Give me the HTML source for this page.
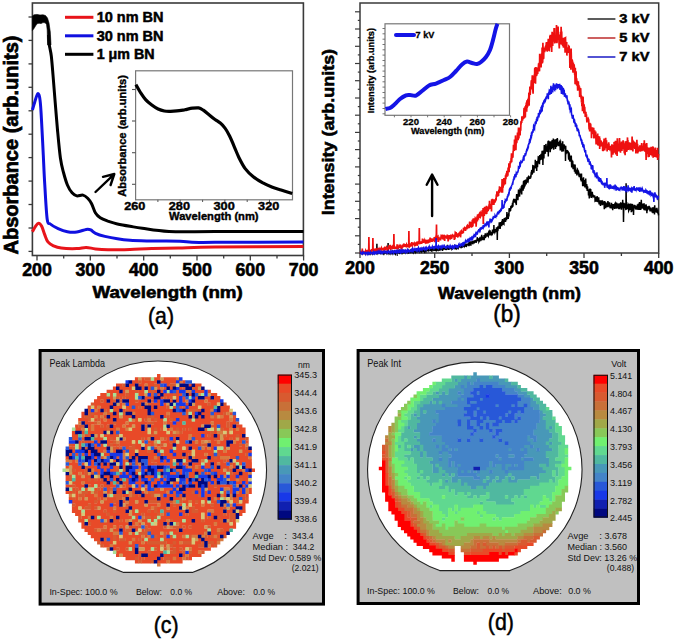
<!DOCTYPE html>
<html><head><meta charset="utf-8"><style>
html,body{margin:0;padding:0;background:#fff;width:675px;height:641px;overflow:hidden}
svg{display:block}
text{font-family:"Liberation Sans",sans-serif}
</style></head><body>
<svg width="675" height="641" viewBox="0 0 675 641">
<rect width="675" height="641" fill="#fff"/>
<rect x="32.4" y="3" width="271" height="252.5" fill="none" stroke="#3a3a3a" stroke-width="1.6"/>
<line x1="28.5" y1="17" x2="32.4" y2="17" stroke="#3a3a3a" stroke-width="1.3"/>
<line x1="28.5" y1="40.4" x2="32.4" y2="40.4" stroke="#3a3a3a" stroke-width="1.3"/>
<line x1="28.5" y1="63.9" x2="32.4" y2="63.9" stroke="#3a3a3a" stroke-width="1.3"/>
<line x1="28.5" y1="87.3" x2="32.4" y2="87.3" stroke="#3a3a3a" stroke-width="1.3"/>
<line x1="28.5" y1="110.8" x2="32.4" y2="110.8" stroke="#3a3a3a" stroke-width="1.3"/>
<line x1="28.5" y1="134.2" x2="32.4" y2="134.2" stroke="#3a3a3a" stroke-width="1.3"/>
<line x1="28.5" y1="157.6" x2="32.4" y2="157.6" stroke="#3a3a3a" stroke-width="1.3"/>
<line x1="28.5" y1="181.1" x2="32.4" y2="181.1" stroke="#3a3a3a" stroke-width="1.3"/>
<line x1="28.5" y1="204.5" x2="32.4" y2="204.5" stroke="#3a3a3a" stroke-width="1.3"/>
<line x1="28.5" y1="228" x2="32.4" y2="228" stroke="#3a3a3a" stroke-width="1.3"/>
<line x1="28.5" y1="251.4" x2="32.4" y2="251.4" stroke="#3a3a3a" stroke-width="1.3"/>
<line x1="37" y1="255.5" x2="37" y2="260.5" stroke="#3a3a3a" stroke-width="1.3"/>
<line x1="63.7" y1="255.5" x2="63.7" y2="258.5" stroke="#3a3a3a" stroke-width="1.3"/>
<line x1="90.3" y1="255.5" x2="90.3" y2="260.5" stroke="#3a3a3a" stroke-width="1.3"/>
<line x1="117" y1="255.5" x2="117" y2="258.5" stroke="#3a3a3a" stroke-width="1.3"/>
<line x1="143.7" y1="255.5" x2="143.7" y2="260.5" stroke="#3a3a3a" stroke-width="1.3"/>
<line x1="170.3" y1="255.5" x2="170.3" y2="258.5" stroke="#3a3a3a" stroke-width="1.3"/>
<line x1="197" y1="255.5" x2="197" y2="260.5" stroke="#3a3a3a" stroke-width="1.3"/>
<line x1="223.7" y1="255.5" x2="223.7" y2="258.5" stroke="#3a3a3a" stroke-width="1.3"/>
<line x1="250.3" y1="255.5" x2="250.3" y2="260.5" stroke="#3a3a3a" stroke-width="1.3"/>
<line x1="277" y1="255.5" x2="277" y2="258.5" stroke="#3a3a3a" stroke-width="1.3"/>
<line x1="303.6" y1="255.5" x2="303.6" y2="260.5" stroke="#3a3a3a" stroke-width="1.3"/>
<text x="37" y="275.7" font-size="17.5" font-weight="bold" stroke="#000" stroke-width="0.6" text-anchor="middle" textLength="29.6" lengthAdjust="spacingAndGlyphs" fill="#000">200</text>
<text x="90.3" y="275.7" font-size="17.5" font-weight="bold" stroke="#000" stroke-width="0.6" text-anchor="middle" textLength="29.6" lengthAdjust="spacingAndGlyphs" fill="#000">300</text>
<text x="143.7" y="275.7" font-size="17.5" font-weight="bold" stroke="#000" stroke-width="0.6" text-anchor="middle" textLength="29.6" lengthAdjust="spacingAndGlyphs" fill="#000">400</text>
<text x="197" y="275.7" font-size="17.5" font-weight="bold" stroke="#000" stroke-width="0.6" text-anchor="middle" textLength="29.6" lengthAdjust="spacingAndGlyphs" fill="#000">500</text>
<text x="250.3" y="275.7" font-size="17.5" font-weight="bold" stroke="#000" stroke-width="0.6" text-anchor="middle" textLength="29.6" lengthAdjust="spacingAndGlyphs" fill="#000">600</text>
<text x="303.6" y="275.7" font-size="17.5" font-weight="bold" stroke="#000" stroke-width="0.6" text-anchor="middle" textLength="29.6" lengthAdjust="spacingAndGlyphs" fill="#000">700</text>
<text x="92.4" y="298.1" font-size="17" font-weight="bold" stroke="#000" stroke-width="0.6" textLength="150.4" lengthAdjust="spacingAndGlyphs" fill="#000">Wavelength (nm)</text>
<text transform="translate(17.6,254.5) rotate(-90)" font-size="19.3" font-weight="bold" stroke="#000" stroke-width="0.7" textLength="219" lengthAdjust="spacingAndGlyphs">Absorbance (arb.units)</text>
<text x="148" y="324.4" font-size="24" textLength="26" lengthAdjust="spacingAndGlyphs" fill="#000" stroke="#000" stroke-width="0.5">(a)</text>
<line x1="65" y1="17.3" x2="93.4" y2="17.3" stroke="#e8141a" stroke-width="3"/>
<text x="96.7" y="22.1" font-size="14.2" font-weight="bold" stroke="#000" stroke-width="0.5" textLength="66.8" lengthAdjust="spacingAndGlyphs" fill="#000">10 nm BN</text>
<line x1="65" y1="35.8" x2="93.4" y2="35.8" stroke="#1010e0" stroke-width="3"/>
<text x="96.7" y="40.6" font-size="14.2" font-weight="bold" stroke="#000" stroke-width="0.5" textLength="66.8" lengthAdjust="spacingAndGlyphs" fill="#000">30 nm BN</text>
<line x1="65" y1="54.3" x2="93.4" y2="54.3" stroke="#000" stroke-width="3"/>
<text x="96.7" y="59.1" font-size="14.2" font-weight="bold" stroke="#000" stroke-width="0.5" textLength="57.8" lengthAdjust="spacingAndGlyphs" fill="#000">1 &#956;m BN</text>
<path d="M32.4,231.8C32.9,230.9 34.5,227.7 35.5,226.3C36.5,224.9 37.6,223.2 38.6,223.2C39.6,223.2 40.7,224.4 41.7,226.3C42.7,228.2 43.8,232.3 44.8,234.9C45.8,237.5 46.5,240.1 47.9,241.9C49.3,243.7 51.2,244.8 53.4,245.8C55.6,246.8 57.3,247.6 61.2,248.1C65.1,248.6 72.6,248.7 76.8,248.6C81,248.5 83.1,247.3 86.2,247.4C89.3,247.5 91.9,248.5 95.5,248.9C99.1,249.3 102.2,249.6 108,249.7C113.8,249.8 122.7,249.6 130,249.4C137.3,249.2 143.6,248.8 151.7,248.6C159.8,248.4 167.8,248.3 178.3,248C188.9,247.7 194.2,247.2 215,247C235.8,246.8 288.7,246.6 303.4,246.5" fill="none" stroke="#e8141a" stroke-width="3" stroke-linejoin="round"/>
<path d="M32.4,110C32.8,108.7 33.8,104.9 34.7,102.2C35.6,99.5 36.9,93.9 37.8,93.6C38.7,93.3 39.5,95.5 40.1,100.6C40.8,105.7 41.2,114.9 41.7,124C42.2,133.1 42.8,145 43.3,155.2C43.8,165.4 44.1,174.3 44.8,185C45.4,195.7 46.3,212.8 47.2,219.3C48.1,225.8 48.5,222.4 50.3,224C52.1,225.6 55.2,227.3 58.1,228.6C61,229.9 64.3,231.2 67.4,231.8C70.5,232.4 73.7,232.5 76.8,232.1C79.9,231.7 83.9,229.8 86.2,229.4C88.5,229 89.2,229.2 90.8,229.9C92.3,230.6 93.2,232.2 95.5,233.3C97.8,234.4 101.2,235.5 104.9,236.4C108.6,237.3 113.2,238.2 117.4,238.8C121.6,239.5 124.3,239.9 130,240.3C135.7,240.7 143.4,240.8 151.7,241C160,241.2 173.3,241 180,241.2C186.7,241.4 186.2,242.1 192,242.3C197.8,242.5 196.4,242.4 215,242.3C233.6,242.2 288.7,242.1 303.4,242" fill="none" stroke="#1010e0" stroke-width="3" stroke-linejoin="round"/>
<path d="M48.6,35C48.7,36.7 48.8,41.5 49.3,45C49.8,48.5 50.7,51 51.3,56C51.9,61 52.4,67.7 53,75C53.6,82.3 54.2,90.8 55,100C55.8,109.2 56.6,120.3 57.5,130C58.4,139.7 59.4,150.9 60.4,158C61.4,165.1 62.3,168 63.5,172.5C64.7,177 66,181.6 67.4,185C68.8,188.4 70.5,191 72.1,192.8C73.7,194.6 75,195.5 76.8,195.9C78.6,196.3 81.2,194.7 83,195.1C84.8,195.5 86.3,196.8 87.7,198.2C89.1,199.6 90.3,201.2 91.6,203.7C92.9,206.2 94.1,210.7 95.5,213C96.9,215.3 98.1,216.3 100.2,217.7C102.3,219.1 105.1,220.1 108,221.2C110.9,222.2 113.7,223.2 117.4,224C121.1,224.8 125.8,225.6 130,226.3C134.2,227 135.8,227.4 142.3,228.3C148.8,229.2 156.9,230.9 169,231.5C181.1,232.1 192.6,231.6 215,231.6C237.4,231.6 288.7,231.5 303.4,231.5" fill="none" stroke="#000" stroke-width="3" stroke-linejoin="round"/>
<polygon points="32.4,16 34,14.8 37,14.4 40,15 43,14.8 45.5,15.5 47.5,18 49,23 50.3,32 51,45 47.6,45 47.2,30 46.5,24.2 45,22.8 43,22.6 41,23.6 39,23.2 37,23.8 35.5,26 34,28.5 32.4,30.5" fill="#000" stroke="#000" stroke-width="0.6" stroke-linejoin="round"/>
<rect x="135.6" y="70.8" width="156.9" height="129" fill="#fff" stroke="#777" stroke-width="1.2"/>
<line x1="132" y1="89.5" x2="135.6" y2="89.5" stroke="#555" stroke-width="1.1"/>
<line x1="132" y1="121" x2="135.6" y2="121" stroke="#555" stroke-width="1.1"/>
<line x1="132" y1="152.7" x2="135.6" y2="152.7" stroke="#555" stroke-width="1.1"/>
<line x1="132" y1="184.3" x2="135.6" y2="184.3" stroke="#555" stroke-width="1.1"/>
<line x1="157.9" y1="199.8" x2="157.9" y2="202" stroke="#555" stroke-width="1"/>
<line x1="180.2" y1="199.8" x2="180.2" y2="202" stroke="#555" stroke-width="1"/>
<line x1="202.6" y1="199.8" x2="202.6" y2="202" stroke="#555" stroke-width="1"/>
<line x1="224.9" y1="199.8" x2="224.9" y2="202" stroke="#555" stroke-width="1"/>
<line x1="247.2" y1="199.8" x2="247.2" y2="202" stroke="#555" stroke-width="1"/>
<line x1="269.5" y1="199.8" x2="269.5" y2="202" stroke="#555" stroke-width="1"/>
<text x="134.8" y="210.2" font-size="11" font-weight="bold" stroke="#000" stroke-width="0.4" text-anchor="middle" textLength="21.2" lengthAdjust="spacingAndGlyphs" fill="#000">260</text>
<text x="179.4" y="210.2" font-size="11" font-weight="bold" stroke="#000" stroke-width="0.4" text-anchor="middle" textLength="21.2" lengthAdjust="spacingAndGlyphs" fill="#000">280</text>
<text x="224.1" y="210.2" font-size="11" font-weight="bold" stroke="#000" stroke-width="0.4" text-anchor="middle" textLength="21.2" lengthAdjust="spacingAndGlyphs" fill="#000">300</text>
<text x="268.7" y="210.2" font-size="11" font-weight="bold" stroke="#000" stroke-width="0.4" text-anchor="middle" textLength="21.2" lengthAdjust="spacingAndGlyphs" fill="#000">320</text>
<text x="169" y="220.3" font-size="10.5" font-weight="bold" stroke="#000" stroke-width="0.4" textLength="89.6" lengthAdjust="spacingAndGlyphs" fill="#000">Wavelength (nm)</text>
<text transform="translate(126.3,196.7) rotate(-90)" font-size="11.2" font-weight="bold" stroke="#000" stroke-width="0.4" textLength="121.7" lengthAdjust="spacingAndGlyphs">Absorbance (arb.units)</text>
<path d="M135.9,84.6C136.7,86 139.3,90.7 140.9,93.2C142.5,95.7 143.8,97.6 145.6,99.6C147.4,101.6 149.7,103.5 151.8,105.1C153.9,106.7 156,108 158.1,109C160.2,110 162.2,110.6 164.3,111C166.4,111.4 168.5,111.3 170.6,111.3C172.7,111.3 174.5,111.2 176.8,110.9C179.1,110.7 182,110.2 184.6,109.8C187.2,109.3 190.1,108.5 192.4,108.2C194.7,107.9 196.8,107.6 198.6,107.9C200.4,108.2 201.5,109 203.3,110.2C205.1,111.4 207.7,113.7 209.6,115.2C211.5,116.8 213.2,118.2 215,119.5C216.8,120.8 218.6,121.7 220.3,123.1C222,124.5 223.4,126 225,128.1C226.6,130.2 228,132.8 229.6,135.9C231.2,139 232.7,143.2 234.3,146.8C235.9,150.4 237.2,154.1 239,157.7C240.8,161.3 242.9,165.5 245.2,168.6C247.5,171.7 250.1,174.1 253,176.4C255.9,178.8 259.3,180.9 262.4,182.7C265.5,184.4 268.7,185.7 271.8,186.9C274.9,188.1 277.7,188.9 281.1,190C284.5,191.1 290.4,193 292.2,193.6" fill="none" stroke="#000" stroke-width="3.2" stroke-linejoin="round"/>
<path d="M95.5,192 L114,174.3 M103,176.8 L114.3,174 L110.6,185" fill="none" stroke="#000" stroke-width="2.4" stroke-linecap="round" stroke-linejoin="round"/>
<rect x="360" y="3" width="298.7" height="250" fill="none" stroke="#3a3a3a" stroke-width="1.5"/>
<line x1="355" y1="11.8" x2="360" y2="11.8" stroke="#3a3a3a" stroke-width="1.2"/>
<line x1="357.8" y1="20.4" x2="360" y2="20.4" stroke="#3a3a3a" stroke-width="1.2"/>
<line x1="355" y1="29" x2="360" y2="29" stroke="#3a3a3a" stroke-width="1.2"/>
<line x1="357.8" y1="37.6" x2="360" y2="37.6" stroke="#3a3a3a" stroke-width="1.2"/>
<line x1="355" y1="46.3" x2="360" y2="46.3" stroke="#3a3a3a" stroke-width="1.2"/>
<line x1="357.8" y1="54.9" x2="360" y2="54.9" stroke="#3a3a3a" stroke-width="1.2"/>
<line x1="355" y1="63.5" x2="360" y2="63.5" stroke="#3a3a3a" stroke-width="1.2"/>
<line x1="357.8" y1="72.1" x2="360" y2="72.1" stroke="#3a3a3a" stroke-width="1.2"/>
<line x1="355" y1="80.7" x2="360" y2="80.7" stroke="#3a3a3a" stroke-width="1.2"/>
<line x1="357.8" y1="89.3" x2="360" y2="89.3" stroke="#3a3a3a" stroke-width="1.2"/>
<line x1="355" y1="98" x2="360" y2="98" stroke="#3a3a3a" stroke-width="1.2"/>
<line x1="357.8" y1="106.6" x2="360" y2="106.6" stroke="#3a3a3a" stroke-width="1.2"/>
<line x1="355" y1="115.2" x2="360" y2="115.2" stroke="#3a3a3a" stroke-width="1.2"/>
<line x1="357.8" y1="123.8" x2="360" y2="123.8" stroke="#3a3a3a" stroke-width="1.2"/>
<line x1="355" y1="132.4" x2="360" y2="132.4" stroke="#3a3a3a" stroke-width="1.2"/>
<line x1="357.8" y1="141" x2="360" y2="141" stroke="#3a3a3a" stroke-width="1.2"/>
<line x1="355" y1="149.6" x2="360" y2="149.6" stroke="#3a3a3a" stroke-width="1.2"/>
<line x1="357.8" y1="158.3" x2="360" y2="158.3" stroke="#3a3a3a" stroke-width="1.2"/>
<line x1="355" y1="166.9" x2="360" y2="166.9" stroke="#3a3a3a" stroke-width="1.2"/>
<line x1="357.8" y1="175.5" x2="360" y2="175.5" stroke="#3a3a3a" stroke-width="1.2"/>
<line x1="355" y1="184.1" x2="360" y2="184.1" stroke="#3a3a3a" stroke-width="1.2"/>
<line x1="357.8" y1="192.7" x2="360" y2="192.7" stroke="#3a3a3a" stroke-width="1.2"/>
<line x1="355" y1="201.3" x2="360" y2="201.3" stroke="#3a3a3a" stroke-width="1.2"/>
<line x1="357.8" y1="209.9" x2="360" y2="209.9" stroke="#3a3a3a" stroke-width="1.2"/>
<line x1="355" y1="218.6" x2="360" y2="218.6" stroke="#3a3a3a" stroke-width="1.2"/>
<line x1="357.8" y1="227.2" x2="360" y2="227.2" stroke="#3a3a3a" stroke-width="1.2"/>
<line x1="355" y1="235.8" x2="360" y2="235.8" stroke="#3a3a3a" stroke-width="1.2"/>
<line x1="357.8" y1="244.4" x2="360" y2="244.4" stroke="#3a3a3a" stroke-width="1.2"/>
<line x1="355" y1="253" x2="360" y2="253" stroke="#3a3a3a" stroke-width="1.2"/>
<line x1="360" y1="253" x2="360" y2="258" stroke="#3a3a3a" stroke-width="1.3"/>
<line x1="397.3" y1="253" x2="397.3" y2="256" stroke="#3a3a3a" stroke-width="1.3"/>
<line x1="434.7" y1="253" x2="434.7" y2="258" stroke="#3a3a3a" stroke-width="1.3"/>
<line x1="472" y1="253" x2="472" y2="256" stroke="#3a3a3a" stroke-width="1.3"/>
<line x1="509.4" y1="253" x2="509.4" y2="258" stroke="#3a3a3a" stroke-width="1.3"/>
<line x1="546.7" y1="253" x2="546.7" y2="256" stroke="#3a3a3a" stroke-width="1.3"/>
<line x1="584" y1="253" x2="584" y2="258" stroke="#3a3a3a" stroke-width="1.3"/>
<line x1="621.4" y1="253" x2="621.4" y2="256" stroke="#3a3a3a" stroke-width="1.3"/>
<line x1="658.7" y1="253" x2="658.7" y2="258" stroke="#3a3a3a" stroke-width="1.3"/>
<text x="360" y="274" font-size="17.5" font-weight="bold" stroke="#000" stroke-width="0.6" text-anchor="middle" textLength="29.6" lengthAdjust="spacingAndGlyphs" fill="#000">200</text>
<text x="434.7" y="274" font-size="17.5" font-weight="bold" stroke="#000" stroke-width="0.6" text-anchor="middle" textLength="29.6" lengthAdjust="spacingAndGlyphs" fill="#000">250</text>
<text x="509.4" y="274" font-size="17.5" font-weight="bold" stroke="#000" stroke-width="0.6" text-anchor="middle" textLength="29.6" lengthAdjust="spacingAndGlyphs" fill="#000">300</text>
<text x="584" y="274" font-size="17.5" font-weight="bold" stroke="#000" stroke-width="0.6" text-anchor="middle" textLength="29.6" lengthAdjust="spacingAndGlyphs" fill="#000">350</text>
<text x="658.7" y="274" font-size="17.5" font-weight="bold" stroke="#000" stroke-width="0.6" text-anchor="middle" textLength="29.6" lengthAdjust="spacingAndGlyphs" fill="#000">400</text>
<text x="438" y="298.7" font-size="17" font-weight="bold" stroke="#000" stroke-width="0.6" textLength="143" lengthAdjust="spacingAndGlyphs" fill="#000">Wavelength (nm)</text>
<text transform="translate(334.4,215.3) rotate(-90)" font-size="17" font-weight="bold" stroke="#000" stroke-width="0.6" textLength="166.4" lengthAdjust="spacingAndGlyphs">Intensity (arb.units)</text>
<text x="493.3" y="321.8" font-size="23" textLength="27.5" lengthAdjust="spacingAndGlyphs" fill="#000" stroke="#000" stroke-width="0.5">(b)</text>
<line x1="587.6" y1="19" x2="615.4" y2="19" stroke="#333" stroke-width="1.6"/>
<text x="619.3" y="23.3" font-size="13.2" font-weight="bold" stroke="#000" stroke-width="0.5" textLength="30.1" lengthAdjust="spacingAndGlyphs" fill="#000">3 kV</text>
<line x1="587.6" y1="38" x2="615.4" y2="38" stroke="#c03838" stroke-width="1.6"/>
<text x="619.3" y="42.3" font-size="13.2" font-weight="bold" stroke="#000" stroke-width="0.5" textLength="30.1" lengthAdjust="spacingAndGlyphs" fill="#000">5 kV</text>
<line x1="587.6" y1="57" x2="615.4" y2="57" stroke="#2828c8" stroke-width="1.6"/>
<text x="619.3" y="61.3" font-size="13.2" font-weight="bold" stroke="#000" stroke-width="0.5" textLength="30.1" lengthAdjust="spacingAndGlyphs" fill="#000">7 kV</text>
<polyline points="360.5,252.7 360.7,253 360.9,252.9 361.1,253 361.3,253.2 361.5,253.2 361.7,252.6 361.9,253.1 362.1,252.7 362.3,253.2 362.5,252.8 362.7,252.7 362.9,253.2 363.1,252.8 363.3,253 363.5,253.2 363.7,252.9 363.9,252.9 364.1,253.2 364.3,253.3 364.5,253.3 364.7,253.2 364.9,253 365.1,252.9 365.3,253.4 365.5,252.9 365.7,252.7 365.9,253.3 366.1,252.8 366.3,252.4 366.5,253 366.7,253.3 366.9,253.5 367.1,253.5 367.3,252.1 367.5,252.9 367.7,253 367.9,253.3 368.1,252.6 368.3,253 368.5,253.3 368.7,252.8 368.9,252.5 369.1,253 369.3,252.6 369.5,252.5 369.7,252.9 369.9,253.4 370.1,252.3 370.3,253 370.5,253.4 370.7,253 370.9,252.9 371.1,253 371.3,253.3 371.5,253 371.7,253 371.9,253 372.1,252.8 372.3,252.6 372.5,253.3 372.7,252.7 372.9,252.8 373.1,252.9 373.3,253.5 373.5,253.3 373.7,252.2 373.9,252.1 374.1,252.6 374.3,252.7 374.5,252.1 374.7,253.5 374.9,252.6 375.1,252.6 375.3,252.8 375.5,252.7 375.7,252.2 375.9,252.2 376.1,252.5 376.3,253.1 376.5,252.6 376.7,252.5 376.9,243.7 377.1,252.9 377.3,252.8 377.5,252.6 377.7,252.3 377.9,253.2 378.1,252.8 378.3,252 378.5,251.9 378.7,252.2 378.9,252.1 379.1,252.1 379.3,252.1 379.5,251.5 379.7,253.3 379.9,252.7 380.1,252.9 380.3,253.2 380.5,253.5 380.7,253.2 380.9,252.8 381.1,252.5 381.3,252.3 381.5,252.8 381.7,253.1 381.9,252.6 382.1,252.4 382.3,252.8 382.5,252.6 382.7,252.2 382.9,251.8 383.1,252.9 383.3,252.6 383.5,253.2 383.7,252.5 383.9,252.5 384.1,252.4 384.3,253.3 384.5,252.9 384.7,252.6 384.9,253.3 385.1,251.9 385.3,252.2 385.5,251.9 385.7,252.1 385.9,252.3 386.1,252.8 386.3,251.6 386.5,252.4 386.7,252.9 386.9,251 387.1,252.6 387.3,251.8 387.5,251.4 387.7,252.4 387.9,251.9 388.1,243 388.3,251.5 388.5,252.5 388.7,253 388.9,251.8 389.1,252.9 389.3,252.9 389.5,252.1 389.7,253.1 389.9,252.8 390.1,252.1 390.3,252.2 390.5,252.4 390.7,253 390.9,252.2 391.1,252.7 391.3,252.4 391.5,252.5 391.7,252.5 391.9,252.9 392.1,253.3 392.3,252.2 392.5,251.7 392.7,252.4 392.9,252.1 393.1,252.6 393.3,252.6 393.5,252.2 393.7,252.1 393.9,252.2 394.1,252.8 394.3,252.3 394.5,253.2 394.7,253 394.9,252.3 395.1,253 395.3,253.5 395.5,252.3 395.7,253.3 395.9,252.7 396.1,252.2 396.3,252.3 396.5,251.6 396.7,251.5 396.9,252.5 397.1,252.2 397.3,253.2 397.5,252.2 397.7,252.4 397.9,252.3 398.1,252.5 398.3,251.6 398.5,251.9 398.7,250.9 398.9,251 399.1,251.6 399.3,251 399.5,251.9 399.7,252.2 399.9,252.8 400.1,252.4 400.3,250.8 400.5,253.1 400.7,252.5 400.9,251.6 401.1,252.2 401.3,251.4 401.5,251.6 401.7,253.1 401.9,251.1 402.1,251.7 402.3,252 402.5,251 402.7,252 402.9,251.4 403.1,252.2 403.3,251.8 403.5,253 403.7,252.4 403.9,251.6 404.1,251.7 404.3,251.6 404.5,251.6 404.7,251.7 404.9,252.1 405.1,251 405.3,251.7 405.5,253.1 405.7,251.6 405.9,252.4 406.1,252.2 406.3,251.4 406.5,251.2 406.7,251 406.9,251.8 407.1,250.2 407.3,251.7 407.5,250.9 407.7,251.6 407.9,252.2 408.1,251.7 408.3,251 408.5,251.5 408.7,252.1 408.9,251.6 409.1,251.4 409.3,252.2 409.5,250.2 409.7,251.2 409.9,251.7 410.1,250.8 410.3,251 410.5,250.7 410.7,252.6 410.9,250.3 411.1,251.1 411.3,251.1 411.5,251.4 411.7,251.1 411.9,251.4 412.1,251.1 412.3,250.7 412.5,253.2 412.7,251.8 412.9,250.6 413.1,251 413.3,251.6 413.5,252.3 413.7,251.7 413.9,251.9 414.1,251.3 414.3,252.2 414.5,250.7 414.7,250.4 414.9,251 415.1,250.8 415.3,251.1 415.5,251.9 415.7,251.3 415.9,251.3 416.1,250.3 416.3,251.3 416.5,251.5 416.7,250.5 416.9,250.9 417.1,249.8 417.3,251.2 417.5,251.3 417.7,249.7 417.9,250.8 418.1,250.6 418.3,251.3 418.5,251.2 418.7,251.5 418.9,251.5 419.1,250.1 419.3,251.7 419.5,250.9 419.7,251.4 419.9,250.3 420.1,250.5 420.3,250.3 420.5,249.7 420.7,250.9 420.9,251 421.1,251.4 421.3,250.6 421.5,251.2 421.7,250.6 421.9,250.5 422.1,250.9 422.3,252.1 422.5,249.2 422.7,249.6 422.9,249.6 423.1,249.7 423.3,250.8 423.5,251.1 423.7,251.2 423.9,250.2 424.1,251.5 424.3,251.8 424.5,251.1 424.7,251.5 424.9,250.3 425.1,250.9 425.3,250.8 425.5,249.7 425.7,250.4 425.9,250.9 426.1,249.8 426.3,250.9 426.5,250.7 426.7,250.7 426.9,250.2 427.1,250.5 427.3,250.6 427.5,251.2 427.7,249.4 427.9,250.3 428.1,250.2 428.3,249.7 428.5,249.2 428.7,249.9 428.9,249.1 429.1,250.3 429.3,249.7 429.5,249.2 429.7,249.7 429.9,249.2 430.1,249.4 430.3,250.9 430.5,249.2 430.7,247.9 430.9,250.2 431.1,249.2 431.3,248.9 431.5,251.6 431.7,249.8 431.9,250.2 432.1,248.3 432.3,248.9 432.5,249.4 432.7,250.5 432.9,249.2 433.1,246.4 433.3,250 433.5,248.3 433.7,249.9 433.9,250.1 434.1,251 434.3,249.3 434.5,250.6 434.7,248.7 434.9,249.7 435.1,249.9 435.3,247.8 435.5,248.7 435.7,248.7 435.9,249.6 436.1,249.2 436.3,249 436.5,248.7 436.7,249.8 436.9,249.3 437.1,249.3 437.3,249.4 437.5,249.7 437.7,248.9 437.9,248.9 438.1,248.8 438.3,249.2 438.5,249.7 438.7,249.2 438.9,248.5 439.1,250.1 439.3,248.6 439.5,250 439.7,250.1 439.9,248.1 440.1,248.7 440.3,249.9 440.5,248.8 440.7,249.1 440.9,248.8 441.1,248.2 441.3,249.5 441.5,247.4 441.7,249 441.9,248.9 442.1,247.6 442.3,249.5 442.5,250.9 442.7,248.9 442.9,248.2 443.1,248.2 443.3,247.9 443.5,249.8 443.7,247.4 443.9,249.8 444.1,247.5 444.3,249 444.5,248 444.7,248.9 444.9,248 445.1,249.3 445.3,248.2 445.5,249.2 445.7,249.3 445.9,247.3 446.1,246.6 446.3,248.5 446.5,247.7 446.7,249.7 446.9,248.9 447.1,247.5 447.3,247.5 447.5,244.7 447.7,249.1 447.9,248.2 448.1,246.5 448.3,247.1 448.5,248.3 448.7,249.8 448.9,248.6 449.1,248.3 449.3,248.4 449.5,247.5 449.7,247.7 449.9,248 450.1,246.8 450.3,247.9 450.5,248.7 450.7,246.4 450.9,248 451.1,247.9 451.3,248.1 451.5,248.9 451.7,246.8 451.9,248.6 452.1,248.2 452.3,249.7 452.5,247.6 452.7,248.7 452.9,247.6 453.1,248.6 453.3,247 453.5,247.5 453.7,247.6 453.9,248.3 454.1,246.6 454.3,247.3 454.5,246.8 454.7,247.3 454.9,245.8 455.1,246.1 455.3,246 455.5,247.4 455.7,246.2 455.9,248.6 456.1,248.8 456.3,247.6 456.5,247.8 456.7,245.9 456.9,246.4 457.1,247.7 457.3,248.2 457.5,246.6 457.7,246.8 457.9,248.6 458.1,248.7 458.3,246.3 458.5,246.8 458.7,247.7 458.9,244.9 459.1,246.1 459.3,246.6 459.5,246.3 459.7,247 459.9,246 460.1,244.5 460.3,245.6 460.5,244.4 460.7,245.5 460.9,248.1 461.1,246.7 461.3,247.1 461.5,246.7 461.7,244.5 461.9,245.6 462.1,246.5 462.3,247.7 462.5,246 462.7,246 462.9,246.1 463.1,245.5 463.3,244.5 463.5,245.5 463.7,245.3 463.9,247.2 464.1,244.9 464.3,245.3 464.5,244.3 464.7,246 464.9,245.6 465.1,244.5 465.3,245.4 465.5,246.1 465.7,246.2 465.9,245 466.1,245.4 466.3,245 466.5,245.4 466.7,245.8 466.9,245.4 467.1,243.8 467.3,244.8 467.5,243.7 467.7,244.8 467.9,244.8 468.1,244.8 468.3,244.4 468.5,244.3 468.7,242.6 468.9,246.1 469.1,243 469.3,242.3 469.5,244.3 469.7,243.4 469.9,243.9 470.1,243.5 470.3,242.3 470.5,245.4 470.7,241.3 470.9,245.8 471.1,241.5 471.3,242.1 471.5,242.9 471.7,242.1 471.9,243.6 472.1,241.2 472.3,242.3 472.5,240.9 472.7,244.3 472.9,242.6 473.1,241.3 473.3,242.4 473.5,243.2 473.7,242.3 473.9,240.6 474.1,241.7 474.3,242.4 474.5,242.1 474.7,241.3 474.9,242.1 475.1,240.1 475.3,241 475.5,241.3 475.7,240.6 475.9,240.1 476.1,243 476.3,240.6 476.5,241.7 476.7,239.9 476.9,240.9 477.1,239.3 477.3,237.2 477.5,238.9 477.7,241.1 477.9,240.2 478.1,240.9 478.3,239.4 478.5,240.2 478.7,238.4 478.9,241.6 479.1,241.2 479.3,240.4 479.5,238.4 479.7,238.1 479.9,239.9 480.1,238.8 480.3,237.4 480.5,239.8 480.7,239.5 480.9,239.4 481.1,238.6 481.3,239 481.5,237.8 481.7,234.7 481.9,237.2 482.1,239.5 482.3,236.6 482.5,237.9 482.7,238.6 482.9,240.2 483.1,237.2 483.3,239 483.5,239.1 483.7,238.2 483.9,238.5 484.1,235 484.3,237.3 484.5,236.7 484.7,237.3 484.9,236.3 485.1,235.5 485.3,233.4 485.5,237.9 485.7,236.1 485.9,234.4 486.1,235.1 486.3,235.1 486.5,234.3 486.7,236 486.9,236 487.1,232.9 487.3,234.7 487.5,236.4 487.7,233.5 487.9,235.2 488.1,235.5 488.3,235.9 488.5,233.1 488.7,232 488.9,231.6 489.1,233.6 489.3,234.3 489.5,235.4 489.7,232 489.9,234.5 490.1,230.4 490.3,233.8 490.5,233.9 490.7,233.8 490.9,234.2 491.1,233.3 491.3,232.3 491.5,231.7 491.7,235.4 491.9,234.3 492.1,235.2 492.3,233.4 492.5,229.5 492.7,234 492.9,231.6 493.1,231.3 493.3,231.7 493.5,231.2 493.7,233 493.9,225.1 494.1,232.8 494.3,231.5 494.5,230.4 494.7,231.5 494.9,232.4 495.1,231.9 495.3,230 495.5,229.1 495.7,230.6 495.9,231.2 496.1,231.3 496.3,230.5 496.5,227.3 496.7,229.9 496.9,227.2 497.1,229.1 497.3,240 497.5,228.2 497.7,227.7 497.9,228.3 498.1,228.7 498.3,226.3 498.5,227.4 498.7,228.6 498.9,227.6 499.1,225.2 499.3,222.2 499.5,228 499.7,226 499.9,222.4 500.1,229 500.3,227.1 500.5,223 500.7,222.3 500.9,223.9 501.1,222.1 501.3,223 501.5,224.2 501.7,226.2 501.9,220.7 502.1,223 502.3,225 502.5,219.1 502.7,221.4 502.9,222.8 503.1,221.3 503.3,223.2 503.5,223.9 503.7,224 503.9,224.2 504.1,220 504.3,218 504.5,218.5 504.7,220.1 504.9,221.3 505.1,220.1 505.3,218.1 505.5,222 505.7,220.2 505.9,217.3 506.1,218.1 506.3,218.5 506.5,220.1 506.7,217.8 506.9,212 507.1,215.7 507.3,215.7 507.5,218.2 507.7,215.6 507.9,215.2 508.1,218.2 508.3,218.2 508.5,215.6 508.7,215.7 508.9,216.5 509.1,209.3 509.3,208.2 509.5,211.2 509.7,208.8 509.9,210.5 510.1,211.5 510.3,208 510.5,210.8 510.7,209 510.9,206.1 511.1,207.7 511.3,208.5 511.5,205.4 511.7,207.1 511.9,206.4 512.1,207.7 512.3,206.1 512.5,202.7 512.7,204.9 512.9,206.7 513.1,201.5 513.3,200.7 513.5,200.1 513.7,200.5 513.9,199.7 514.1,198.8 514.3,201.1 514.5,201.1 514.7,198.8 514.9,200.9 515.1,203 515.3,200.4 515.5,200.2 515.7,200.8 515.9,203.7 516.1,199.6 516.3,205.1 516.5,196.3 516.7,194 516.9,195.7 517.1,194.3 517.3,196.8 517.5,198.5 517.7,196.4 517.9,200.1 518.1,196.1 518.3,194.6 518.5,189.6 518.7,193.9 518.9,192 519.1,192.9 519.3,192.2 519.5,196.8 519.7,194.7 519.9,192.6 520.1,189.8 520.3,190.1 520.5,189.8 520.7,192.3 520.9,191.4 521.1,191.8 521.3,186.3 521.5,191.9 521.7,194.5 521.9,186.1 522.1,184.8 522.3,187.7 522.5,190.5 522.7,189.2 522.9,187.6 523.1,190.6 523.3,185.6 523.5,181.7 523.7,181.5 523.9,188.8 524.1,184.9 524.3,183.6 524.5,180.2 524.7,183 524.9,185.8 525.1,185.4 525.3,183.3 525.5,180.7 525.7,179.6 525.9,181.7 526.1,182.7 526.3,183 526.5,181.8 526.7,181.6 526.9,182.3 527.1,177.4 527.3,181.7 527.5,180.4 527.7,181.9 527.9,182.1 528.1,181.3 528.3,177 528.5,176.6 528.7,176.9 528.9,178.5 529.1,176.5 529.3,177.9 529.5,177.6 529.7,177.3 529.9,178.7 530.1,178.1 530.3,177.1 530.5,178.3 530.7,176.9 530.9,177.5 531.1,173.9 531.3,171.8 531.5,173.7 531.7,170.1 531.9,171.6 532.1,174.7 532.3,169.8 532.5,173.7 532.7,169 532.9,164.9 533.1,171.9 533.3,169.8 533.5,171.1 533.7,169.7 533.9,172.6 534.1,168.8 534.3,165.5 534.5,166.8 534.7,168.4 534.9,165.8 535.1,167.8 535.3,159.7 535.5,165.4 535.7,166.2 535.9,165.7 536.1,163.3 536.3,164.2 536.5,166.8 536.7,170.9 536.9,161 537.1,164.6 537.3,161.3 537.5,167.1 537.7,162.8 537.9,161.1 538.1,160.1 538.3,157 538.5,157.1 538.7,159 538.9,156.2 539.1,163.5 539.3,159.4 539.5,164.3 539.7,155.1 539.9,156.5 540.1,158.1 540.3,160.3 540.5,157.6 540.7,157.8 540.9,155.1 541.1,154 541.3,155.2 541.5,159.7 541.7,154.3 541.9,155 542.1,150.9 542.3,155.1 542.5,153.5 542.7,152.8 542.9,165 543.1,156.8 543.3,150.6 543.5,152.6 543.7,152.2 543.9,158.4 544.1,150.5 544.3,145.1 544.5,153.9 544.7,150.1 544.9,150.1 545.1,147.7 545.3,153.8 545.5,149.6 545.7,150.2 545.9,143.9 546.1,145.4 546.3,149.3 546.5,148.9 546.7,150.5 546.9,147.4 547.1,151.9 547.3,147.6 547.5,147.1 547.7,147.9 547.9,143.2 548.1,141 548.3,156.5 548.5,140.6 548.7,144.9 548.9,147.4 549.1,146.5 549.3,149.5 549.5,141.3 549.7,145.9 549.9,147.3 550.1,152.2 550.3,151.1 550.5,142.3 550.7,147.9 550.9,143.6 551.1,141.3 551.3,143.7 551.5,149.3 551.7,143.8 551.9,142.4 552.1,142.9 552.3,141.3 552.5,140.1 552.7,145.9 552.9,146.6 553.1,148.2 553.3,138.6 553.5,139.5 553.7,149.7 553.9,143.6 554.1,144.8 554.3,139.6 554.5,143.3 554.7,139.4 554.9,146.9 555.1,145.3 555.3,140.6 555.5,149 555.7,139.3 555.9,147.3 556.1,142.3 556.3,143.7 556.5,147.1 556.7,138.9 556.9,139.9 557.1,142.9 557.3,138 557.5,139.3 557.7,144.6 557.9,145.6 558.1,141.8 558.3,144.7 558.5,145.2 558.7,146.1 558.9,142.5 559.1,144.1 559.3,146 559.5,142.7 559.7,141.7 559.9,141.3 560.1,145.7 560.3,150.4 560.5,140.6 560.7,144.9 560.9,147 561.1,149.7 561.3,144.1 561.5,143.4 561.7,146.7 561.9,151.6 562.1,149.9 562.3,147.2 562.5,149 562.7,141.2 562.9,151.3 563.1,149.8 563.3,149.3 563.5,149.6 563.7,147.1 563.9,145.4 564.1,144.3 564.3,147 564.5,145.4 564.7,148.5 564.9,147.9 565.1,147.5 565.3,147 565.5,160.9 565.7,145.8 565.9,153.3 566.1,153.4 566.3,152.8 566.5,150 566.7,152 566.9,152.1 567.1,152.2 567.3,151.9 567.5,151.5 567.7,151.7 567.9,153.5 568.1,151.6 568.3,151.9 568.5,157.1 568.7,159.6 568.9,155.7 569.1,154.7 569.3,154.2 569.5,155.1 569.7,161.4 569.9,155.9 570.1,158.3 570.3,158 570.5,161.6 570.7,157.8 570.9,159 571.1,158.6 571.3,155.6 571.5,163 571.7,167.5 571.9,159.8 572.1,164.6 572.3,162.3 572.5,166.6 572.7,160.8 572.9,164.9 573.1,169.2 573.3,164.8 573.5,165.3 573.7,166.2 573.9,164.4 574.1,166.4 574.3,165.4 574.5,171.7 574.7,169.2 574.9,167.9 575.1,164.5 575.3,171.2 575.5,173.8 575.7,169.7 575.9,172.3 576.1,170.3 576.3,172.1 576.5,169.9 576.7,170.5 576.9,175.5 577.1,170.4 577.3,169 577.5,169.3 577.7,171.9 577.9,172.9 578.1,174.4 578.3,170.2 578.5,172.7 578.7,171.9 578.9,175.4 579.1,175.4 579.3,177.1 579.5,174.2 579.7,175.9 579.9,173.5 580.1,175.5 580.3,175.6 580.5,176.4 580.7,179.1 580.9,180 581.1,175.4 581.3,181.6 581.5,173.5 581.7,180.4 581.9,180.5 582.1,179 582.3,178.2 582.5,181.4 582.7,186.1 582.9,179.5 583.1,180.7 583.3,181.4 583.5,177.2 583.7,183 583.9,180.7 584.1,186 584.3,185.1 584.5,183.3 584.7,180 584.9,187.5 585.1,180.5 585.3,180.9 585.5,184.1 585.7,178.5 585.9,183.4 586.1,185.3 586.3,187.3 586.5,189 586.7,184.1 586.9,185.6 587.1,189.9 587.3,190.9 587.5,186.3 587.7,188.2 587.9,189.6 588.1,189.9 588.3,189.5 588.5,195.4 588.7,189.4 588.9,194 589.1,194.4 589.3,198.5 589.5,196 589.7,188.7 589.9,191.2 590.1,188.6 590.3,196.5 590.5,192.1 590.7,189.1 590.9,192.2 591.1,192.5 591.3,198 591.5,195.1 591.7,195.3 591.9,194.4 592.1,194.5 592.3,191.9 592.5,194.5 592.7,195.7 592.9,196.3 593.1,195.7 593.3,195.6 593.5,196.7 593.7,196.7 593.9,196.2 594.1,195.9 594.3,195.3 594.5,196.5 594.7,196.9 594.9,196.8 595.1,201.2 595.3,201.1 595.5,198.9 595.7,201.2 595.9,197 596.1,197.8 596.3,198.3 596.5,199.4 596.7,201.8 596.9,200.7 597.1,196 597.3,201.1 597.5,201.7 597.7,198.9 597.9,202.3 598.1,197.4 598.3,200.8 598.5,200 598.7,197.3 598.9,202.3 599.1,203.8 599.3,203.8 599.5,200.6 599.7,201.2 599.9,200.4 600.1,203.6 600.3,203.5 600.5,206 600.7,202.9 600.9,204.4 601.1,202 601.3,200.3 601.5,203.1 601.7,201.4 601.9,201.9 602.1,203 602.3,205.1 602.5,201.6 602.7,201.2 602.9,201.5 603.1,203 603.3,203.9 603.5,204.4 603.7,202.2 603.9,202.3 604.1,204 604.3,209.2 604.5,206.1 604.7,201.1 604.9,202.9 605.1,202.1 605.3,203.2 605.5,204.9 605.7,208.3 605.9,202.5 606.1,203.9 606.3,203.8 606.5,204.4 606.7,204.7 606.9,206.3 607.1,203.7 607.3,207.3 607.5,205 607.7,204.8 607.9,201 608.1,203 608.3,204 608.5,204.9 608.7,204.3 608.9,202.4 609.1,203.7 609.3,206.8 609.5,202.4 609.7,206.7 609.9,205.7 610.1,208.3 610.3,207.7 610.5,205 610.7,207.3 610.9,207.9 611.1,206.3 611.3,204.7 611.5,202.9 611.7,206.1 611.9,205.3 612.1,204.6 612.3,208.9 612.5,205.8 612.7,210.3 612.9,204.8 613.1,204.8 613.3,206.7 613.5,205.6 613.7,204 613.9,205.5 614.1,208 614.3,205.7 614.5,209 614.7,203.5 614.9,206.9 615.1,203.6 615.3,203.1 615.5,203.7 615.7,207.7 615.9,205.3 616.1,208.8 616.3,205.9 616.5,202.6 616.7,208.5 616.9,205.1 617.1,203.2 617.3,207.7 617.5,208.2 617.7,203.9 617.9,207.4 618.1,206.2 618.3,204 618.5,205.1 618.7,206.7 618.9,209.3 619.1,203.3 619.3,207.6 619.5,208.2 619.7,208.3 619.9,207.2 620.1,205.4 620.3,208.1 620.5,206.6 620.7,202.3 620.9,207.1 621.1,202.9 621.3,206.8 621.5,209.6 621.7,207.7 621.9,203 622.1,204.5 622.3,205.2 622.5,207.8 622.7,199.8 622.9,207.2 623.1,204.9 623.3,205.3 623.5,222 623.7,210.2 623.9,202.8 624.1,205.5 624.3,206.2 624.5,206.5 624.7,206.8 624.9,206 625.1,206.6 625.3,206 625.5,203.4 625.7,208.2 625.9,210.1 626.1,183.2 626.3,207.3 626.5,209.4 626.7,204.2 626.9,208.2 627.1,207.4 627.3,206.1 627.5,209.2 627.7,207.1 627.9,205.6 628.1,204.2 628.3,204.6 628.5,206 628.7,210.7 628.9,210.3 629.1,205.3 629.3,207.5 629.5,209.9 629.7,204 629.9,206.8 630.1,203.6 630.3,210 630.5,205.5 630.7,205.2 630.9,206.2 631.1,205.4 631.3,212.3 631.5,208.8 631.7,211.3 631.9,203.7 632.1,208 632.3,206.5 632.5,204 632.7,206.8 632.9,211.5 633.1,208.8 633.3,207 633.5,215 633.7,209 633.9,205.2 634.1,206 634.3,205.7 634.5,204.9 634.7,205.8 634.9,205.3 635.1,207.9 635.3,206.1 635.5,209.2 635.7,205.7 635.9,206.2 636.1,209.6 636.3,206.7 636.5,208.1 636.7,206.2 636.9,209.3 637.1,207.1 637.3,208.7 637.5,204.3 637.7,209.8 637.9,208 638.1,205.9 638.3,205.1 638.5,203.6 638.7,205.4 638.9,207.4 639.1,207.7 639.3,209.9 639.5,202.1 639.7,205.9 639.9,205 640.1,204.6 640.3,209.3 640.5,206.2 640.7,210 640.9,207.6 641.1,205.2 641.3,199.7 641.5,205.1 641.7,204.6 641.9,206.9 642.1,208.7 642.3,204.7 642.5,205.3 642.7,203.7 642.9,204.6 643.1,206.8 643.3,205.4 643.5,207.1 643.7,208 643.9,209.6 644.1,203.3 644.3,207.1 644.5,209.5 644.7,209.4 644.9,209.5 645.1,207.8 645.3,206.5 645.5,207.4 645.7,205.7 645.9,205 646.1,205 646.3,206.2 646.5,210.6 646.7,208.1 646.9,213.2 647.1,207.3 647.3,210.6 647.5,207.2 647.7,206.2 647.9,208.7 648.1,207 648.3,206.9 648.5,207.1 648.7,207.9 648.9,207.3 649.1,205.9 649.3,209.1 649.5,206.6 649.7,209.3 649.9,209.8 650.1,211.4 650.3,208.4 650.5,207.6 650.7,209.3 650.9,208.2 651.1,210.2 651.3,209 651.5,211.4 651.7,209.6 651.9,208.9 652.1,210.8 652.3,210.5 652.5,207.4 652.7,210.4 652.9,213.1 653.1,208.4 653.3,211.5 653.5,211.4 653.7,211.7 653.9,207.3 654.1,210 654.3,206.7 654.5,214.6 654.7,205.3 654.9,209.1 655.1,209.1 655.3,211.7 655.5,211.2 655.7,212.4 655.9,208.4 656.1,211.5 656.3,212.2 656.5,208.4 656.7,211.8 656.9,207.9 657.1,210 657.3,212.9 657.5,212.2 657.7,209.6 657.9,211.6 658.1,213.9 658.3,213 658.5,215.4" fill="none" stroke="#000" stroke-width="1.5"/>
<polyline points="360.5,251.8 360.7,253.1 360.9,252 361.1,252 361.3,252.2 361.5,251.9 361.7,251.5 361.9,252.5 362.1,252.8 362.3,248.6 362.5,253.5 362.7,252.7 362.9,251.5 363.1,252 363.3,251.8 363.5,251.9 363.7,252.3 363.9,251.4 364.1,252.1 364.3,252.9 364.5,252.6 364.7,251.7 364.9,252.5 365.1,250.9 365.3,251.9 365.5,252.2 365.7,251 365.9,251.5 366.1,253.1 366.3,252.8 366.5,252.7 366.7,251.9 366.9,250.9 367.1,250.7 367.3,249.9 367.5,251.3 367.7,251.6 367.9,250.8 368.1,250.5 368.3,251.4 368.5,252.2 368.7,251.3 368.9,237 369.1,250.9 369.3,251 369.5,250.4 369.7,250.8 369.9,252 370.1,251.3 370.3,251.1 370.5,250.9 370.7,251 370.9,250.7 371.1,251 371.3,251.5 371.5,250.3 371.7,251 371.9,249 372.1,250.6 372.3,250 372.5,250.3 372.7,251.1 372.9,238 373.1,250.3 373.3,249.2 373.5,250.1 373.7,251.7 373.9,249.6 374.1,250.8 374.3,249.5 374.5,249.4 374.7,249.3 374.9,251.1 375.1,250.6 375.3,249.7 375.5,249.8 375.7,251.5 375.9,249.8 376.1,249.5 376.3,250.2 376.5,249.9 376.7,250 376.9,248.4 377.1,250.2 377.3,249.8 377.5,250 377.7,249 377.9,250.8 378.1,249.9 378.3,250.3 378.5,249.5 378.7,249.8 378.9,250.5 379.1,250.5 379.3,249.4 379.5,249.9 379.7,249.4 379.9,248.8 380.1,248.7 380.3,249.4 380.5,249.2 380.7,247.8 380.9,248.9 381.1,250 381.3,248.9 381.5,248 381.7,248.5 381.9,249.8 382.1,249.5 382.3,248.8 382.5,248 382.7,249.8 382.9,248.9 383.1,249.9 383.3,249.2 383.5,249.5 383.7,249.7 383.9,250 384.1,248.8 384.3,248 384.5,247.8 384.7,248.8 384.9,250.1 385.1,249 385.3,248.4 385.5,248.7 385.7,248.8 385.9,249.1 386.1,247.5 386.3,247.2 386.5,248.6 386.7,247.4 386.9,249.5 387.1,248.7 387.3,248.5 387.5,247.4 387.7,248.4 387.9,247.3 388.1,249.3 388.3,249 388.5,247.6 388.7,248.5 388.9,245.4 389.1,247.5 389.3,248.3 389.5,249.1 389.7,248.3 389.9,248 390.1,246.7 390.3,244.8 390.5,248.3 390.7,250 390.9,246.4 391.1,248.3 391.3,247.4 391.5,248.7 391.7,246 391.9,247.2 392.1,247.6 392.3,246.9 392.5,247.2 392.7,246.7 392.9,247.5 393.1,247.9 393.3,247.7 393.5,247.6 393.7,246.6 393.9,234 394.1,249 394.3,247.6 394.5,247.2 394.7,248.2 394.9,248.4 395.1,248.3 395.3,247.6 395.5,247.4 395.7,246.7 395.9,247.7 396.1,248.8 396.3,247.3 396.5,248.3 396.7,246.7 396.9,248.1 397.1,244.3 397.3,247.3 397.5,247.7 397.7,246 397.9,249.6 398.1,246.6 398.3,246.4 398.5,246.4 398.7,247.2 398.9,246.8 399.1,246 399.3,246.3 399.5,246.9 399.7,247.7 399.9,246.7 400.1,245.9 400.3,246.3 400.5,244.6 400.7,245.6 400.9,248.5 401.1,246.5 401.3,246.7 401.5,245.7 401.7,249.6 401.9,246.9 402.1,247.5 402.3,246.7 402.5,245.3 402.7,247.7 402.9,245.3 403.1,245 403.3,245.6 403.5,245.1 403.7,245.5 403.9,246.2 404.1,246.2 404.3,245.8 404.5,245.9 404.7,244.6 404.9,244.7 405.1,246.5 405.3,244.1 405.5,247.2 405.7,244.3 405.9,246 406.1,244.7 406.3,245.4 406.5,244.7 406.7,245.3 406.9,247.1 407.1,245.1 407.3,247.2 407.5,244.9 407.7,245.5 407.9,245.1 408.1,244.9 408.3,245.9 408.5,246.3 408.7,246.5 408.9,231 409.1,247.7 409.3,246.1 409.5,245.9 409.7,244 409.9,244.3 410.1,245 410.3,245.8 410.5,245.7 410.7,244.2 410.9,245.3 411.1,245 411.3,243.4 411.5,244.9 411.7,242.1 411.9,245.4 412.1,245.8 412.3,243.2 412.5,244.6 412.7,242.7 412.9,243.6 413.1,245 413.3,244.2 413.5,244 413.7,244.2 413.9,244.2 414.1,243.7 414.3,244.6 414.5,245.4 414.7,245.3 414.9,243.4 415.1,245.5 415.3,245.4 415.5,242.4 415.7,244.7 415.9,244.6 416.1,244.7 416.3,244.5 416.5,242.2 416.7,243.2 416.9,241.6 417.1,244.1 417.3,245.7 417.5,244.8 417.7,243.5 417.9,242.7 418.1,242.2 418.3,242.4 418.5,243.1 418.7,242 418.9,242.7 419.1,244.2 419.3,228 419.5,241 419.7,242.8 419.9,242.6 420.1,242.8 420.3,241.4 420.5,242.9 420.7,242.2 420.9,243.2 421.1,241.9 421.3,242.6 421.5,244 421.7,242 421.9,243.2 422.1,241.2 422.3,243.1 422.5,238.5 422.7,240.7 422.9,240.9 423.1,242.2 423.3,242.2 423.5,241.7 423.7,242.6 423.9,240.6 424.1,241.2 424.3,241.1 424.5,240.6 424.7,242 424.9,242.3 425.1,240.9 425.3,239.5 425.5,242.6 425.7,241.9 425.9,243.3 426.1,241.3 426.3,241.1 426.5,243.6 426.7,242.1 426.9,240.9 427.1,241.5 427.3,239.9 427.5,241.1 427.7,240 427.9,243.4 428.1,241.7 428.3,242.9 428.5,240 428.7,239.5 428.9,241.5 429.1,239.9 429.3,241.2 429.5,240.3 429.7,242.8 429.9,239.8 430.1,237.7 430.3,239 430.5,239.5 430.7,240.6 430.9,241.5 431.1,238.4 431.3,241 431.5,239.2 431.7,242 431.9,239.4 432.1,241.9 432.3,238.8 432.5,239.3 432.7,239.9 432.9,241 433.1,239.4 433.3,239.5 433.5,239.3 433.7,239.9 433.9,239.7 434.1,238.8 434.3,237.2 434.5,239.3 434.7,242.1 434.9,238.7 435.1,238.1 435.3,238.3 435.5,239.1 435.7,238.5 435.9,237.2 436.1,237.6 436.3,237.3 436.5,224.4 436.7,239.9 436.9,238.9 437.1,236.6 437.3,238.4 437.5,236.8 437.7,236.7 437.9,236.5 438.1,241.9 438.3,241 438.5,239.2 438.7,239.6 438.9,237.6 439.1,238.8 439.3,238.3 439.5,238.7 439.7,240.1 439.9,238.7 440.1,237.9 440.3,239.2 440.5,240.3 440.7,239.1 440.9,237.8 441.1,236.4 441.3,236.7 441.5,236.7 441.7,238 441.9,238.6 442.1,234.5 442.3,237.7 442.5,235.9 442.7,238.4 442.9,239.3 443.1,236.6 443.3,237.3 443.5,236.6 443.7,238 443.9,234.7 444.1,235.2 444.3,236.5 444.5,238.9 444.7,240.9 444.9,237.3 445.1,235.5 445.3,236.5 445.5,235.7 445.7,237.8 445.9,235.6 446.1,236.8 446.3,237.3 446.5,238.1 446.7,236.5 446.9,237.4 447.1,238.8 447.3,234.5 447.5,238.8 447.7,236.3 447.9,235.6 448.1,241.5 448.3,235.4 448.5,237 448.7,236.3 448.9,239.1 449.1,236.9 449.3,235 449.5,236.2 449.7,238.5 449.9,235.6 450.1,237.8 450.3,238.8 450.5,238.6 450.7,239.2 450.9,234.6 451.1,237.8 451.3,236.5 451.5,237.9 451.7,238 451.9,236.8 452.1,235.9 452.3,235.6 452.5,237.2 452.7,235 452.9,236.2 453.1,235.3 453.3,237.4 453.5,234.7 453.7,235.8 453.9,235.7 454.1,234.6 454.3,240 454.5,237.9 454.7,234.5 454.9,239.3 455.1,234.7 455.3,232.5 455.5,232.7 455.7,235.7 455.9,235.8 456.1,232.1 456.3,235.6 456.5,234.7 456.7,236.2 456.9,234.3 457.1,236.2 457.3,236.4 457.5,233.4 457.7,235.8 457.9,236 458.1,235 458.3,236.1 458.5,233.5 458.7,234.3 458.9,233.6 459.1,232.6 459.3,233.7 459.5,233.3 459.7,234.9 459.9,236 460.1,233.2 460.3,232.2 460.5,237.3 460.7,235.5 460.9,232.7 461.1,231 461.3,230.8 461.5,232.6 461.7,233.2 461.9,233.2 462.1,233.1 462.3,230.9 462.5,231.9 462.7,231.2 462.9,232.3 463.1,232.5 463.3,233.3 463.5,227.9 463.7,230.6 463.9,229.3 464.1,228.6 464.3,228.2 464.5,227.8 464.7,228.2 464.9,228.9 465.1,228.7 465.3,228.5 465.5,230.9 465.7,229.1 465.9,228.1 466.1,228.8 466.3,227.3 466.5,227.1 466.7,229.5 466.9,226.7 467.1,225.6 467.3,225.4 467.5,228.6 467.7,225.7 467.9,226.8 468.1,227.6 468.3,226.2 468.5,226 468.7,225.1 468.9,225.9 469.1,228.1 469.3,226.3 469.5,223.4 469.7,221.6 469.9,223.3 470.1,222.2 470.3,227.2 470.5,225.4 470.7,221.7 470.9,224.5 471.1,225.4 471.3,223.4 471.5,227.6 471.7,222.5 471.9,223.8 472.1,227 472.3,219.7 472.5,222.2 472.7,223.9 472.9,226.5 473.1,218.6 473.3,223.4 473.5,222.3 473.7,221 473.9,218.3 474.1,221.7 474.3,220.2 474.5,219.2 474.7,223.5 474.9,218.6 475.1,220 475.3,218.2 475.5,218.5 475.7,221.3 475.9,218 476.1,226.7 476.3,223.3 476.5,220.5 476.7,217.7 476.9,219.1 477.1,216.2 477.3,221.5 477.5,215.5 477.7,214.3 477.9,216 478.1,218.8 478.3,217.3 478.5,217.7 478.7,215.7 478.9,216 479.1,215.9 479.3,218 479.5,215.1 479.7,213.1 479.9,212.8 480.1,216.9 480.3,217.1 480.5,214.9 480.7,212.3 480.9,215.7 481.1,214.2 481.3,212.9 481.5,214.8 481.7,211.5 481.9,215.4 482.1,216.2 482.3,210 482.5,210.7 482.7,213 482.9,216.2 483.1,208 483.3,224 483.5,215.7 483.7,211.8 483.9,211.2 484.1,215.2 484.3,215.2 484.5,207.6 484.7,206.9 484.9,208.9 485.1,208.7 485.3,210.5 485.5,209.1 485.7,209.5 485.9,211.1 486.1,214.3 486.3,210.2 486.5,205.8 486.7,214 486.9,209.8 487.1,211.6 487.3,206.6 487.5,208.3 487.7,208.3 487.9,208.8 488.1,211 488.3,206.8 488.5,209.6 488.7,209.3 488.9,206.8 489.1,204.2 489.3,207.9 489.5,200.8 489.7,203.8 489.9,205.5 490.1,207.7 490.3,208.8 490.5,204.7 490.7,207.2 490.9,205 491.1,208.4 491.3,204.1 491.5,211.4 491.7,199.3 491.9,202.4 492.1,202.1 492.3,202.7 492.5,198.9 492.7,204.6 492.9,204.2 493.1,203.9 493.3,199.7 493.5,205 493.7,200.4 493.9,204.9 494.1,200.8 494.3,199.3 494.5,200.4 494.7,199.6 494.9,202.1 495.1,201.9 495.3,200.8 495.5,200.3 495.7,200.3 495.9,198 496.1,200.2 496.3,195.1 496.5,194.8 496.7,196.9 496.9,191.3 497.1,194.4 497.3,194.4 497.5,194.2 497.7,193.2 497.9,196.4 498.1,192.2 498.3,192.2 498.5,196 498.7,191 498.9,190.5 499.1,191.1 499.3,193 499.5,186.4 499.7,190.7 499.9,188.9 500.1,188.7 500.3,187.4 500.5,188.9 500.7,191.7 500.9,190.3 501.1,190.4 501.3,187 501.5,192 501.7,192 501.9,186.5 502.1,179 502.3,186 502.5,192.8 502.7,185.4 502.9,181.5 503.1,187.8 503.3,181.9 503.5,184.7 503.7,185.7 503.9,178.1 504.1,182.8 504.3,184.6 504.5,180.8 504.7,181 504.9,180.1 505.1,183.1 505.3,184.3 505.5,175.3 505.7,175.7 505.9,179.3 506.1,174.2 506.3,173.8 506.5,176.5 506.7,174.9 506.9,170.7 507.1,174.5 507.3,176.7 507.5,172.7 507.7,174 507.9,175.8 508.1,167.4 508.3,171.4 508.5,170.1 508.7,170.2 508.9,163.2 509.1,172.3 509.3,164.7 509.5,166.3 509.7,166.4 509.9,167.6 510.1,162.7 510.3,161.2 510.5,163.5 510.7,162 510.9,162.6 511.1,158.4 511.3,158.1 511.5,153.2 511.7,162.2 511.9,154.5 512.1,158.1 512.3,157.2 512.5,156.8 512.7,156.6 512.9,157.6 513.1,151.5 513.3,151.2 513.5,144.8 513.7,149.5 513.9,146.6 514.1,146.7 514.3,151 514.5,139.6 514.7,148.7 514.9,144.7 515.1,148.4 515.3,144.3 515.5,135.4 515.7,141 515.9,150.1 516.1,143.7 516.3,140.8 516.5,140.3 516.7,143.2 516.9,141.3 517.1,138.7 517.3,140.6 517.5,132.5 517.7,137.5 517.9,135.6 518.1,140.1 518.3,133.7 518.5,127.6 518.7,133.1 518.9,138.5 519.1,127.5 519.3,131.5 519.5,130.4 519.7,129 519.9,132.6 520.1,135.5 520.3,129.1 520.5,127.5 520.7,130.7 520.9,123.3 521.1,123.6 521.3,122.5 521.5,121.4 521.7,122.9 521.9,116.3 522.1,118.1 522.3,119.9 522.5,120.7 522.7,117 522.9,116.9 523.1,119.2 523.3,117.3 523.5,115.8 523.7,118.7 523.9,110.6 524.1,107.9 524.3,118.1 524.5,113.4 524.7,117.1 524.9,111.1 525.1,106.2 525.3,117.5 525.5,110.2 525.7,110.2 525.9,105 526.1,109.7 526.3,102.4 526.5,106.7 526.7,111.8 526.9,101.2 527.1,101.2 527.3,105.8 527.5,106.5 527.7,106 527.9,99 528.1,100.5 528.3,99.3 528.5,97.8 528.7,98.5 528.9,92.9 529.1,105.8 529.3,97.7 529.5,92.4 529.7,91.6 529.9,86.5 530.1,92.4 530.3,92.7 530.5,88.8 530.7,88 530.9,89.1 531.1,84.4 531.3,80.4 531.5,88.3 531.7,89.3 531.9,87.8 532.1,80.1 532.3,75.3 532.5,77 532.7,84.6 532.9,91.2 533.1,93.7 533.3,79.9 533.5,75.9 533.7,79.1 533.9,81.1 534.1,79.8 534.3,74.6 534.5,83.1 534.7,69.1 534.9,67.7 535.1,71.4 535.3,72.6 535.5,83.8 535.7,72.8 535.9,67.1 536.1,73.4 536.3,76.1 536.5,72 536.7,75.4 536.9,74.9 537.1,67.6 537.3,68.8 537.5,70.5 537.7,74 537.9,68.2 538.1,70.8 538.3,68.7 538.5,65.2 538.7,65.4 538.9,69.2 539.1,62.8 539.3,68.5 539.5,71.4 539.7,53.7 539.9,63 540.1,62.7 540.3,57.9 540.5,61.9 540.7,62.5 540.9,62.3 541.1,67.4 541.3,59.4 541.5,54.9 541.7,55 541.9,63.6 542.1,47.4 542.3,63.6 542.5,53.7 542.7,62.5 542.9,42.8 543.1,52.5 543.3,59.1 543.5,52.4 543.7,58.8 543.9,48.6 544.1,48.1 544.3,47.6 544.5,51.5 544.7,52.3 544.9,49.2 545.1,50.1 545.3,48.9 545.5,46.6 545.7,46.2 545.9,50.7 546.1,46.2 546.3,42.2 546.5,43.9 546.7,50.8 546.9,42.1 547.1,45 547.3,51.6 547.5,46.9 547.7,46.4 547.9,48.7 548.1,42.6 548.3,38.8 548.5,41.1 548.7,40.6 548.9,40.9 549.1,50.2 549.3,50.3 549.5,45.7 549.7,42.4 549.9,35.9 550.1,42.5 550.3,34.7 550.5,47.6 550.7,39.3 550.9,42.4 551.1,35.4 551.3,44.2 551.5,42.7 551.7,52.1 551.9,39.5 552.1,31.8 552.3,35.4 552.5,32.8 552.7,45.9 552.9,34.6 553.1,35.1 553.3,40.2 553.5,41.5 553.7,37.6 553.9,35.8 554.1,28.1 554.3,32.2 554.5,28 554.7,43.5 554.9,39.4 555.1,36.7 555.3,39.6 555.5,38.4 555.7,41.7 555.9,41.8 556.1,38.8 556.3,35.2 556.5,25.1 556.7,29.4 556.9,43.2 557.1,41.7 557.3,27.4 557.5,37.3 557.7,34.3 557.9,35.3 558.1,26.4 558.3,39.6 558.5,37 558.7,38.4 558.9,39.8 559.1,44.6 559.3,48.5 559.5,40.2 559.7,41.3 559.9,34.5 560.1,41.5 560.3,43.5 560.5,31.8 560.7,44.5 560.9,41 561.1,26.7 561.3,31 561.5,38.1 561.7,31.5 561.9,44.7 562.1,38.7 562.3,39.5 562.5,40 562.7,46.3 562.9,37.8 563.1,41.9 563.3,41.5 563.5,47.8 563.7,43.8 563.9,46.4 564.1,39.2 564.3,40.7 564.5,40.7 564.7,37.3 564.9,44.8 565.1,52.7 565.3,38.2 565.5,38 565.7,45.7 565.9,41.9 566.1,44.4 566.3,44 566.5,51.3 566.7,42 566.9,55.6 567.1,49.3 567.3,51 567.5,47.9 567.7,47.4 567.9,52.2 568.1,51.7 568.3,48.8 568.5,51.7 568.7,52.8 568.9,46.2 569.1,46.4 569.3,48.6 569.5,51.8 569.7,55.2 569.9,68.1 570.1,52.8 570.3,59.1 570.5,60.2 570.7,50.7 570.9,69.8 571.1,48.4 571.3,55.4 571.5,65.2 571.7,66.2 571.9,62.5 572.1,59.2 572.3,65.3 572.5,60.6 572.7,69.2 572.9,71.5 573.1,72.5 573.3,62.4 573.5,69.5 573.7,66.7 573.9,67.6 574.1,64.3 574.3,66.5 574.5,71.4 574.7,74.3 574.9,74.3 575.1,84.2 575.3,67.8 575.5,78.4 575.7,73.6 575.9,73 576.1,71.2 576.3,83 576.5,85.3 576.7,78.3 576.9,85.8 577.1,84.2 577.3,80.8 577.5,86 577.7,90.7 577.9,83.5 578.1,87.5 578.3,81.4 578.5,85.2 578.7,86.5 578.9,85.3 579.1,87.7 579.3,90.5 579.5,86.6 579.7,97.1 579.9,93 580.1,92.2 580.3,91.5 580.5,88.3 580.7,89 580.9,95.2 581.1,98.8 581.3,95.3 581.5,102.5 581.7,101.6 581.9,106.3 582.1,103.4 582.3,102.1 582.5,111.3 582.7,99.3 582.9,97.1 583.1,96.7 583.3,102.8 583.5,108.6 583.7,104.3 583.9,113.5 584.1,104.2 584.3,109.6 584.5,111.1 584.7,106.7 584.9,110.8 585.1,113.1 585.3,116.9 585.5,115.6 585.7,114.2 585.9,111.7 586.1,117 586.3,115.6 586.5,115.5 586.7,119.2 586.9,122.4 587.1,119.1 587.3,118.2 587.5,120 587.7,119.6 587.9,118.6 588.1,118.3 588.3,118.8 588.5,121.5 588.7,119.2 588.9,125.5 589.1,129.4 589.3,123.7 589.5,124.2 589.7,131.5 589.9,122.9 590.1,127.7 590.3,125.5 590.5,123.7 590.7,124.5 590.9,128.4 591.1,127.5 591.3,128.9 591.5,138.2 591.7,131.9 591.9,129.9 592.1,132.4 592.3,127.4 592.5,129.4 592.7,129.5 592.9,129.3 593.1,132.9 593.3,133.4 593.5,134 593.7,127.7 593.9,138.4 594.1,136.1 594.3,137.2 594.5,131 594.7,130.4 594.9,135.7 595.1,134.4 595.3,138.3 595.5,132.9 595.7,131.4 595.9,138.2 596.1,144.5 596.3,141.3 596.5,137.8 596.7,139.4 596.9,134.9 597.1,144 597.3,143 597.5,144.4 597.7,133.6 597.9,145.6 598.1,136.1 598.3,143.8 598.5,142.6 598.7,145.7 598.9,141.8 599.1,141.7 599.3,138.7 599.5,136.3 599.7,149.1 599.9,138.2 600.1,146.7 600.3,142.3 600.5,140.3 600.7,146.3 600.9,145.6 601.1,140.5 601.3,143.7 601.5,144.3 601.7,146.3 601.9,142.3 602.1,144.5 602.3,144.5 602.5,144.3 602.7,151 602.9,146.2 603.1,151.3 603.3,148 603.5,142.6 603.7,141 603.9,143.4 604.1,138.5 604.3,146.9 604.5,147 604.7,150.5 604.9,148.1 605.1,139.5 605.3,144.5 605.5,148.2 605.7,137.7 605.9,143.1 606.1,144.9 606.3,146.9 606.5,140.4 606.7,146.6 606.9,143.9 607.1,151.5 607.3,146.6 607.5,143.8 607.7,146.6 607.9,146.3 608.1,143.9 608.3,150 608.5,146.3 608.7,142.4 608.9,144.7 609.1,146.3 609.3,148.3 609.5,148.7 609.7,145.8 609.9,147.1 610.1,150.4 610.3,146 610.5,150 610.7,147.6 610.9,147.9 611.1,146.2 611.3,150.4 611.5,157.6 611.7,147.7 611.9,144.3 612.1,146.2 612.3,146.1 612.5,146.9 612.7,148.2 612.9,154.8 613.1,147.3 613.3,153.3 613.5,144.9 613.7,146.9 613.9,152.5 614.1,141.9 614.3,146.4 614.5,141.7 614.7,152.8 614.9,141.7 615.1,145.4 615.3,147.8 615.5,140.8 615.7,154.4 615.9,147.1 616.1,152.1 616.3,149.7 616.5,141.3 616.7,148.5 616.9,146.8 617.1,156 617.3,138.3 617.5,144.6 617.7,143.8 617.9,146.3 618.1,148.6 618.3,144.3 618.5,146.1 618.7,149.1 618.9,151.3 619.1,146.7 619.3,141.8 619.5,138.1 619.7,143.1 619.9,147.4 620.1,146.9 620.3,148.3 620.5,152.6 620.7,146.7 620.9,146 621.1,147.5 621.3,147.7 621.5,141.5 621.7,145.6 621.9,150.9 622.1,144.5 622.3,143.2 622.5,147.3 622.7,149.2 622.9,146.8 623.1,140.3 623.3,144 623.5,147.9 623.7,146.5 623.9,143.8 624.1,149.6 624.3,153.3 624.5,143.3 624.7,153.8 624.9,146.7 625.1,155.3 625.3,141.3 625.5,145.9 625.7,147.4 625.9,142 626.1,144.9 626.3,152.1 626.5,141.1 626.7,145.7 626.9,151.4 627.1,144.1 627.3,142.7 627.5,137.4 627.7,145.2 627.9,140.1 628.1,147.7 628.3,149.9 628.5,147.3 628.7,142.5 628.9,147.5 629.1,145.3 629.3,146 629.5,142.4 629.7,145.7 629.9,145.4 630.1,148.1 630.3,147.8 630.5,149.3 630.7,148 630.9,142.8 631.1,150.2 631.3,148.9 631.5,150.2 631.7,147.7 631.9,145 632.1,136.4 632.3,144.8 632.5,141.9 632.7,139.8 632.9,151.4 633.1,140.8 633.3,145.6 633.5,147 633.7,146.1 633.9,148.1 634.1,141.5 634.3,145.5 634.5,147 634.7,147.5 634.9,149 635.1,143.5 635.3,143.7 635.5,142.7 635.7,147.1 635.9,153.4 636.1,148 636.3,145.2 636.5,142.9 636.7,142.4 636.9,139.8 637.1,151.6 637.3,146.3 637.5,143.8 637.7,153.5 637.9,147.1 638.1,152.1 638.3,147.5 638.5,150.9 638.7,146.5 638.9,148.1 639.1,148.1 639.3,149.8 639.5,150.4 639.7,146.1 639.9,146.1 640.1,151.7 640.3,148 640.5,145.8 640.7,147.1 640.9,148.9 641.1,150.9 641.3,148.8 641.5,145.6 641.7,143.1 641.9,148.7 642.1,147.5 642.3,150 642.5,149.8 642.7,150.4 642.9,147.1 643.1,150.6 643.3,147.3 643.5,146.7 643.7,144.1 643.9,143.6 644.1,150.7 644.3,140.3 644.5,148.6 644.7,151.8 644.9,149.4 645.1,143.5 645.3,148.7 645.5,144 645.7,145.9 645.9,150.4 646.1,160 646.3,153.8 646.5,145.5 646.7,143 646.9,147.6 647.1,153 647.3,152.1 647.5,152.5 647.7,149 647.9,148.7 648.1,149.1 648.3,157.3 648.5,149.9 648.7,154.2 648.9,148.4 649.1,156.9 649.3,147.5 649.5,149.1 649.7,151.3 649.9,149 650.1,148 650.3,150.1 650.5,148.5 650.7,155 650.9,154.3 651.1,146.7 651.3,154.6 651.5,151.1 651.7,149.8 651.9,151.5 652.1,154 652.3,153.6 652.5,147.9 652.7,152.8 652.9,146.4 653.1,157.7 653.3,149.5 653.5,149.1 653.7,150.2 653.9,152.9 654.1,154.6 654.3,151.3 654.5,153.1 654.7,151.3 654.9,157 655.1,151.2 655.3,147.5 655.5,157.3 655.7,152.5 655.9,157.3 656.1,152.4 656.3,153.3 656.5,154.5 656.7,150 656.9,155.1 657.1,157.8 657.3,155.1 657.5,147.8 657.7,160 657.9,155.1 658.1,156.2 658.3,156.4 658.5,154" fill="none" stroke="#ee1010" stroke-width="1.7"/>
<polyline points="360.5,253.4 360.7,252.7 360.9,253.1 361.1,252.4 361.3,253.3 361.5,253.1 361.7,253.2 361.9,253.2 362.1,253.5 362.3,252.8 362.5,253.4 362.7,252.9 362.9,253.2 363.1,253 363.3,253.1 363.5,252.7 363.7,253.2 363.9,253.1 364.1,252.9 364.3,253.1 364.5,253.5 364.7,253.5 364.9,253 365.1,252.8 365.3,253.5 365.5,252.8 365.7,253 365.9,252.7 366.1,252.6 366.3,252.9 366.5,253.2 366.7,253.1 366.9,253 367.1,252.4 367.3,253.5 367.5,253 367.7,253.1 367.9,252.7 368.1,253.4 368.3,252.7 368.5,252.9 368.7,252.8 368.9,253.2 369.1,253 369.3,252.7 369.5,252.1 369.7,253.3 369.9,253 370.1,253.1 370.3,253 370.5,253.2 370.7,252.4 370.9,252.9 371.1,253.2 371.3,252.9 371.5,252.8 371.7,252.9 371.9,252.7 372.1,252.7 372.3,252.8 372.5,253.2 372.7,252.3 372.9,253 373.1,252.4 373.3,253.3 373.5,253 373.7,253.1 373.9,252.7 374.1,253.1 374.3,252.6 374.5,253.1 374.7,253.5 374.9,252.8 375.1,252.6 375.3,252.9 375.5,252.4 375.7,252.7 375.9,252.9 376.1,253.2 376.3,252.5 376.5,253 376.7,253 376.9,252.7 377.1,253 377.3,252.9 377.5,252.5 377.7,252.3 377.9,251.8 378.1,252.7 378.3,252.8 378.5,252.3 378.7,252.7 378.9,253.2 379.1,253 379.3,252 379.5,252.6 379.7,252.3 379.9,252.7 380.1,252.6 380.3,252.2 380.5,253.2 380.7,251.8 380.9,252.2 381.1,252.8 381.3,252.4 381.5,252.6 381.7,252.1 381.9,252.6 382.1,252.4 382.3,252.1 382.5,252.2 382.7,252.8 382.9,252.3 383.1,252.6 383.3,252.6 383.5,252.3 383.7,251.9 383.9,252.4 384.1,252.5 384.3,251.9 384.5,252.2 384.7,252.1 384.9,251.7 385.1,252.4 385.3,252.6 385.5,252.3 385.7,252.2 385.9,252.5 386.1,252.7 386.3,252.5 386.5,252.5 386.7,252 386.9,252.4 387.1,252.2 387.3,251.9 387.5,252.4 387.7,251.6 387.9,251.7 388.1,252.4 388.3,252.3 388.5,251.7 388.7,252.3 388.9,252.2 389.1,251.8 389.3,251.7 389.5,252.1 389.7,251.8 389.9,252.7 390.1,252.5 390.3,252 390.5,252.3 390.7,252.6 390.9,252 391.1,251.5 391.3,252.3 391.5,251.7 391.7,252.1 391.9,252.1 392.1,251.9 392.3,251.6 392.5,252.2 392.7,252.1 392.9,251.9 393.1,252.3 393.3,251.9 393.5,251.6 393.7,252.5 393.9,251.9 394.1,252.1 394.3,251.7 394.5,251.8 394.7,251.3 394.9,251.1 395.1,251.8 395.3,252.3 395.5,252.1 395.7,252.1 395.9,251.5 396.1,251.1 396.3,251.8 396.5,251.1 396.7,251.6 396.9,252 397.1,251.4 397.3,251.2 397.5,251.7 397.7,251.8 397.9,251.7 398.1,251 398.3,251.8 398.5,251.5 398.7,251.5 398.9,252 399.1,251.6 399.3,251.9 399.5,251.7 399.7,251 399.9,251.1 400.1,252.1 400.3,252.4 400.5,251.1 400.7,251.5 400.9,251.4 401.1,251.5 401.3,250.9 401.5,251.8 401.7,251.5 401.9,251.4 402.1,251.4 402.3,252.2 402.5,251.4 402.7,252.1 402.9,251.9 403.1,251.2 403.3,251.7 403.5,251.8 403.7,251.2 403.9,250.7 404.1,251 404.3,251.3 404.5,252 404.7,252 404.9,251 405.1,251.3 405.3,251.8 405.5,250.7 405.7,251 405.9,250.6 406.1,250.8 406.3,251.1 406.5,251.9 406.7,250.5 406.9,251.4 407.1,250.9 407.3,250.2 407.5,250.8 407.7,250 407.9,251.4 408.1,251.2 408.3,250.4 408.5,250.8 408.7,250.4 408.9,250.5 409.1,251.1 409.3,250.1 409.5,252.1 409.7,250.2 409.9,250.9 410.1,250.7 410.3,250.9 410.5,250.3 410.7,249.4 410.9,250.6 411.1,250.8 411.3,250.9 411.5,250.3 411.7,250.9 411.9,250.6 412.1,249.8 412.3,249.3 412.5,250.7 412.7,250.4 412.9,250.1 413.1,249.7 413.3,250.8 413.5,250.3 413.7,250.1 413.9,249 414.1,249.7 414.3,249.9 414.5,249.5 414.7,250.7 414.9,249.8 415.1,251.2 415.3,250 415.5,249.6 415.7,250.6 415.9,249.8 416.1,249.5 416.3,250.1 416.5,249.7 416.7,250 416.9,248.9 417.1,249 417.3,250 417.5,249.4 417.7,249.7 417.9,249.2 418.1,249.7 418.3,248.7 418.5,249.3 418.7,250.1 418.9,248.7 419.1,249.2 419.3,249.4 419.5,249.2 419.7,250.1 419.9,249.5 420.1,249.5 420.3,248.9 420.5,249.3 420.7,248.8 420.9,248.9 421.1,248.6 421.3,249.5 421.5,249.7 421.7,248.8 421.9,248.9 422.1,249.5 422.3,248.7 422.5,247.8 422.7,249.6 422.9,248.9 423.1,248.5 423.3,249 423.5,249.1 423.7,248.6 423.9,249.6 424.1,248.8 424.3,248.7 424.5,249.1 424.7,248.4 424.9,248.2 425.1,248.9 425.3,248.1 425.5,248.5 425.7,248.6 425.9,248.2 426.1,248.5 426.3,247.9 426.5,248.6 426.7,247.8 426.9,247.9 427.1,248.2 427.3,249.2 427.5,248 427.7,248.6 427.9,248.4 428.1,248 428.3,248.4 428.5,248.3 428.7,247.4 428.9,247.1 429.1,246.7 429.3,248.2 429.5,247.3 429.7,248.2 429.9,247.7 430.1,247.3 430.3,247.6 430.5,247.9 430.7,247.8 430.9,248.1 431.1,248.1 431.3,248.8 431.5,247 431.7,248.1 431.9,247.2 432.1,247.2 432.3,246.6 432.5,247.3 432.7,247.4 432.9,247.8 433.1,247.8 433.3,248.2 433.5,247.8 433.7,247.4 433.9,247.3 434.1,247.3 434.3,247.5 434.5,246.6 434.7,246.6 434.9,247.6 435.1,247.2 435.3,247.4 435.5,247.1 435.7,246.8 435.9,247 436.1,238 436.3,247.8 436.5,246.9 436.7,246.9 436.9,247.5 437.1,248.2 437.3,247.2 437.5,246.9 437.7,247.6 437.9,247.3 438.1,247 438.3,246.5 438.5,247.4 438.7,246.9 438.9,247.5 439.1,246.8 439.3,247.1 439.5,246.9 439.7,247.8 439.9,246.8 440.1,246.4 440.3,246.5 440.5,245.7 440.7,247.3 440.9,247.8 441.1,247 441.3,247.4 441.5,246.6 441.7,246.5 441.9,246.3 442.1,245.9 442.3,246.3 442.5,247.3 442.7,247 442.9,248 443.1,245.5 443.3,246.8 443.5,246 443.7,247.6 443.9,246.9 444.1,246 444.3,246.3 444.5,247.6 444.7,246.3 444.9,246.7 445.1,247.1 445.3,246.4 445.5,247.6 445.7,247.7 445.9,246.4 446.1,247 446.3,247.1 446.5,247.1 446.7,247.4 446.9,245.7 447.1,246.7 447.3,245.9 447.5,246.7 447.7,246.5 447.9,247.2 448.1,245.7 448.3,246.7 448.5,245.8 448.7,247.1 448.9,247 449.1,246.3 449.3,247.2 449.5,246.7 449.7,246.4 449.9,246 450.1,246.6 450.3,245.9 450.5,246.4 450.7,247.1 450.9,246 451.1,247.3 451.3,247.2 451.5,247.1 451.7,246.4 451.9,246.2 452.1,247.1 452.3,247.7 452.5,246.9 452.7,246.3 452.9,246.6 453.1,247.1 453.3,246.3 453.5,246.4 453.7,246.6 453.9,246.3 454.1,246.9 454.3,246.3 454.5,246.9 454.7,246.4 454.9,246.3 455.1,246.1 455.3,245.8 455.5,246.5 455.7,246.4 455.9,246.7 456.1,246.1 456.3,245.9 456.5,246.4 456.7,245.8 456.9,245.9 457.1,246.4 457.3,245.8 457.5,245.7 457.7,246.1 457.9,245.2 458.1,246.3 458.3,245.8 458.5,245.2 458.7,245.7 458.9,245.1 459.1,244.5 459.3,245.3 459.5,245.2 459.7,246.1 459.9,245.4 460.1,244.9 460.3,245 460.5,245.5 460.7,244.9 460.9,244.3 461.1,243.9 461.3,244 461.5,244 461.7,244.6 461.9,244.4 462.1,244 462.3,244.8 462.5,244.2 462.7,244.4 462.9,243.4 463.1,243.3 463.3,243.1 463.5,244 463.7,243.4 463.9,243.8 464.1,242.9 464.3,242.7 464.5,242.8 464.7,243 464.9,242.5 465.1,242.5 465.3,241.9 465.5,241 465.7,241.5 465.9,242.1 466.1,242.2 466.3,241.3 466.5,241.3 466.7,241 466.9,242.1 467.1,241.2 467.3,240.8 467.5,242 467.7,240.9 467.9,241.4 468.1,240.7 468.3,240.7 468.5,240.1 468.7,240.6 468.9,242 469.1,239.5 469.3,241.2 469.5,239.7 469.7,240 469.9,239.5 470.1,239.3 470.3,238.1 470.5,238.3 470.7,238.7 470.9,237.7 471.1,240.2 471.3,239.2 471.5,238.3 471.7,238.8 471.9,237.9 472.1,236.6 472.3,238 472.5,237.6 472.7,238.2 472.9,237.2 473.1,236.9 473.3,236.8 473.5,236.2 473.7,236.3 473.9,235.7 474.1,236.5 474.3,236.1 474.5,235 474.7,235.1 474.9,236.2 475.1,236.1 475.3,235.7 475.5,234.7 475.7,235.2 475.9,233.7 476.1,233 476.3,233.4 476.5,232.8 476.7,233 476.9,234.6 477.1,233.2 477.3,232.9 477.5,233.2 477.7,232.4 477.9,231.4 478.1,231.4 478.3,230.5 478.5,231.3 478.7,230.5 478.9,229.1 479.1,230.1 479.3,230 479.5,229.6 479.7,230.6 479.9,230.1 480.1,230.5 480.3,229.5 480.5,227.9 480.7,228.7 480.9,229.9 481.1,227 481.3,228 481.5,228.8 481.7,226.8 481.9,229.1 482.1,226.9 482.3,227.4 482.5,228.5 482.7,227.9 482.9,226.9 483.1,227.2 483.3,227.8 483.5,227.3 483.7,226.6 483.9,224.9 484.1,225.5 484.3,226.6 484.5,224.9 484.7,225.4 484.9,224.7 485.1,225.2 485.3,225.8 485.5,223.4 485.7,224 485.9,225.8 486.1,223.4 486.3,224.9 486.5,224.5 486.7,222.5 486.9,222.6 487.1,223.6 487.3,223.9 487.5,222.9 487.7,222.5 487.9,222.9 488.1,221.4 488.3,223.4 488.5,224.4 488.7,222.2 488.9,227.4 489.1,221.9 489.3,221.8 489.5,221.4 489.7,222.4 489.9,221.1 490.1,218.6 490.3,221.8 490.5,219.7 490.7,221.4 490.9,219.4 491.1,220.9 491.3,220.4 491.5,219 491.7,220.9 491.9,219.1 492.1,220.7 492.3,220.3 492.5,219.5 492.7,217.7 492.9,219.6 493.1,218.4 493.3,218.9 493.5,217 493.7,216.8 493.9,217.3 494.1,217.3 494.3,217.1 494.5,217.2 494.7,217 494.9,217.8 495.1,215.5 495.3,215.9 495.5,216.8 495.7,217 495.9,215.3 496.1,216.8 496.3,216 496.5,216.9 496.7,215.4 496.9,215.1 497.1,214 497.3,213.5 497.5,214.5 497.7,213 497.9,213.6 498.1,214.5 498.3,212.1 498.5,214.5 498.7,212 498.9,211.7 499.1,213.1 499.3,211.7 499.5,211.3 499.7,211.5 499.9,211.3 500.1,211 500.3,210.5 500.5,210.8 500.7,209.9 500.9,211.1 501.1,209.4 501.3,209.5 501.5,207.8 501.7,209.4 501.9,208.5 502.1,200 502.3,207.8 502.5,207.7 502.7,206.5 502.9,208.9 503.1,206.3 503.3,206.5 503.5,205.4 503.7,206.6 503.9,208 504.1,204.8 504.3,204.4 504.5,203.8 504.7,201.1 504.9,202 505.1,203.3 505.3,200.3 505.5,200.6 505.7,201 505.9,201.7 506.1,199.7 506.3,201 506.5,198.3 506.7,198.8 506.9,200.7 507.1,198.7 507.3,197.1 507.5,195.9 507.7,197.4 507.9,196.5 508.1,194.6 508.3,194.5 508.5,195.1 508.7,193.8 508.9,194.1 509.1,193.3 509.3,191 509.5,189.2 509.7,188.9 509.9,190.9 510.1,188.5 510.3,189.6 510.5,187.8 510.7,187.6 510.9,189.2 511.1,188.1 511.3,186 511.5,186.7 511.7,185.2 511.9,184.9 512.1,184.5 512.3,183.9 512.5,184.9 512.7,184.2 512.9,182.9 513.1,181.2 513.3,181 513.5,178.9 513.7,180.2 513.9,179.1 514.1,176.4 514.3,179.4 514.5,177.9 514.7,177.5 514.9,174.2 515.1,175.8 515.3,176.8 515.5,173.9 515.7,176.7 515.9,177.3 516.1,174.6 516.3,172.9 516.5,173.3 516.7,175 516.9,172.2 517.1,172.9 517.3,172.8 517.5,172.7 517.7,172 517.9,171.9 518.1,170.8 518.3,170.3 518.5,167.1 518.7,167.3 518.9,167.9 519.1,168.9 519.3,166.4 519.5,166.1 519.7,165.7 519.9,161.7 520.1,164.8 520.3,165.2 520.5,162.9 520.7,163.9 520.9,161.6 521.1,161.8 521.3,161.8 521.5,163.2 521.7,161.4 521.9,162.4 522.1,161.7 522.3,161.7 522.5,159.7 522.7,160.6 522.9,160.2 523.1,159.7 523.3,157.2 523.5,158.6 523.7,155.6 523.9,160.7 524.1,156.9 524.3,155.7 524.5,155.7 524.7,156.1 524.9,155.8 525.1,154 525.3,153.1 525.5,155.6 525.7,154.5 525.9,153.7 526.1,153.1 526.3,150.9 526.5,152.1 526.7,150 526.9,148.6 527.1,150.4 527.3,150.1 527.5,149.8 527.7,146.8 527.9,148.9 528.1,145.3 528.3,147.7 528.5,144.1 528.7,145.3 528.9,143.1 529.1,143.9 529.3,142.3 529.5,141.2 529.7,138.7 529.9,143.1 530.1,141.5 530.3,140.4 530.5,138.8 530.7,138.9 530.9,135.8 531.1,135.2 531.3,138.5 531.5,132.6 531.7,136.1 531.9,132.9 532.1,133.1 532.3,131.8 532.5,132.6 532.7,132.4 532.9,130.8 533.1,131 533.3,129.5 533.5,128.9 533.7,125.7 533.9,126 534.1,128.7 534.3,128.3 534.5,128.7 534.7,125.2 534.9,126.2 535.1,124 535.3,122.2 535.5,122.1 535.7,121.6 535.9,124 536.1,123 536.3,121.5 536.5,118.7 536.7,121.5 536.9,120.7 537.1,116.8 537.3,120.9 537.5,118.3 537.7,119.4 537.9,117 538.1,116 538.3,117 538.5,113.1 538.7,116.5 538.9,116.6 539.1,115.4 539.3,114.4 539.5,112.7 539.7,111.7 539.9,112.2 540.1,113.2 540.3,113.3 540.5,109.8 540.7,111.5 540.9,112.7 541.1,106.8 541.3,112 541.5,111.4 541.7,108 541.9,105.2 542.1,111.4 542.3,108.4 542.5,105.7 542.7,103.7 542.9,107.2 543.1,102.3 543.3,104.4 543.5,103.5 543.7,101.9 543.9,101 544.1,100.7 544.3,103.3 544.5,101.9 544.7,102.8 544.9,99.6 545.1,102.3 545.3,99.6 545.5,100.6 545.7,98.5 545.9,98.4 546.1,96.7 546.3,99.1 546.5,97.5 546.7,97.2 546.9,96.3 547.1,96.2 547.3,93.4 547.5,95.6 547.7,93.2 547.9,95.1 548.1,94.9 548.3,99.3 548.5,94.1 548.7,92.3 548.9,94.7 549.1,92.2 549.3,90.8 549.5,91.2 549.7,94.1 549.9,94.7 550.1,92.6 550.3,89.3 550.5,90.8 550.7,92 550.9,85.9 551.1,90.7 551.3,93.9 551.5,86.9 551.7,87.9 551.9,87.4 552.1,92.1 552.3,89.9 552.5,90.5 552.7,92.4 552.9,87.6 553.1,85.2 553.3,89.3 553.5,83.4 553.7,89.7 553.9,89.2 554.1,87.8 554.3,89.4 554.5,89.7 554.7,84.5 554.9,86.8 555.1,87.5 555.3,86.3 555.5,90.3 555.7,86.7 555.9,86.3 556.1,84.7 556.3,85.4 556.5,83.4 556.7,85.9 556.9,88.2 557.1,86.1 557.3,84.4 557.5,87.8 557.7,87.6 557.9,84.1 558.1,86.1 558.3,88.1 558.5,85 558.7,85.1 558.9,86.1 559.1,88.1 559.3,87 559.5,88.5 559.7,83.8 559.9,88.4 560.1,90 560.3,87.3 560.5,90 560.7,87.8 560.9,90.2 561.1,85.1 561.3,91.4 561.5,94 561.7,90.6 561.9,88.8 562.1,86.3 562.3,91.2 562.5,91.4 562.7,92 562.9,94.5 563.1,94 563.3,87.7 563.5,90.4 563.7,93.2 563.9,93.9 564.1,92.6 564.3,92.2 564.5,96.8 564.7,96.1 564.9,94.9 565.1,95.7 565.3,93.2 565.5,95.9 565.7,95.1 565.9,97.4 566.1,95.2 566.3,98.1 566.5,96.9 566.7,98.5 566.9,95.3 567.1,98.3 567.3,100 567.5,101.4 567.7,99.9 567.9,102.2 568.1,104.4 568.3,101.8 568.5,102.3 568.7,101.4 568.9,102.4 569.1,103.6 569.3,105.8 569.5,107.1 569.7,109.6 569.9,104.4 570.1,108.5 570.3,110.9 570.5,110.5 570.7,110.6 570.9,111.5 571.1,109.7 571.3,109.3 571.5,113.7 571.7,115.2 571.9,115.4 572.1,116.1 572.3,117.9 572.5,118 572.7,116.8 572.9,116.9 573.1,114.8 573.3,118.4 573.5,117.7 573.7,120 573.9,122.8 574.1,118.7 574.3,121.5 574.5,119.5 574.7,123.6 574.9,121.9 575.1,122.9 575.3,124 575.5,126.6 575.7,124.6 575.9,123.4 576.1,125 576.3,126.7 576.5,126.7 576.7,124.7 576.9,129.2 577.1,127.9 577.3,131.3 577.5,128.6 577.7,128.6 577.9,129.6 578.1,129.7 578.3,129 578.5,132 578.7,130.2 578.9,133.1 579.1,132 579.3,136.1 579.5,135.6 579.7,135.4 579.9,136 580.1,135.4 580.3,137 580.5,138.4 580.7,137.5 580.9,140.1 581.1,140.5 581.3,139.5 581.5,139.8 581.7,141.8 581.9,141.6 582.1,144 582.3,144.3 582.5,142.7 582.7,142.9 582.9,147.1 583.1,145 583.3,146.3 583.5,144.1 583.7,147.9 583.9,144.9 584.1,147.4 584.3,149.2 584.5,149.1 584.7,150.4 584.9,152.3 585.1,151.3 585.3,151.5 585.5,150 585.7,152.5 585.9,155.5 586.1,156.4 586.3,155.6 586.5,156.4 586.7,156.8 586.9,154.7 587.1,156.1 587.3,156.5 587.5,158.8 587.7,159.7 587.9,159.2 588.1,161.9 588.3,160.1 588.5,159.5 588.7,159.8 588.9,158.8 589.1,162.5 589.3,161.5 589.5,164.8 589.7,163.7 589.9,164.6 590.1,161.4 590.3,164 590.5,164.6 590.7,165.5 590.9,164.6 591.1,165.1 591.3,169.2 591.5,165.8 591.7,168.2 591.9,168.7 592.1,169.5 592.3,165 592.5,167.9 592.7,168.6 592.9,168.2 593.1,172.8 593.3,170.9 593.5,172.5 593.7,173 593.9,170.1 594.1,171.5 594.3,173.4 594.5,173.4 594.7,173.2 594.9,174.7 595.1,174.7 595.3,176.3 595.5,176.2 595.7,175.6 595.9,175.4 596.1,175.9 596.3,173.3 596.5,177.5 596.7,178.2 596.9,172.4 597.1,176.9 597.3,175.5 597.5,177.6 597.7,175.6 597.9,177.9 598.1,176.5 598.3,179.1 598.5,179.7 598.7,181.3 598.9,177.3 599.1,177.8 599.3,179.5 599.5,181 599.7,179.3 599.9,182 600.1,180.9 600.3,179.7 600.5,178.2 600.7,179.3 600.9,180.8 601.1,180.5 601.3,179.8 601.5,182.5 601.7,184.1 601.9,181 602.1,182.4 602.3,184.6 602.5,182.9 602.7,183.2 602.9,183.6 603.1,184.6 603.3,184.6 603.5,183.8 603.7,183.2 603.9,185.3 604.1,182.7 604.3,183.4 604.5,185 604.7,187.8 604.9,185.7 605.1,185.3 605.3,184.6 605.5,184.6 605.7,183.4 605.9,182.6 606.1,184.7 606.3,185.5 606.5,184.7 606.7,184.1 606.9,178 607.1,187.6 607.3,185.3 607.5,187.9 607.7,184.3 607.9,185.2 608.1,186.6 608.3,186.5 608.5,187.5 608.7,187.3 608.9,187.7 609.1,186.6 609.3,186.2 609.5,186.7 609.7,185.7 609.9,189 610.1,184.3 610.3,185.9 610.5,186 610.7,186 610.9,185.9 611.1,187.8 611.3,188.6 611.5,186.4 611.7,188.8 611.9,188.2 612.1,187.8 612.3,188.4 612.5,186.5 612.7,189 612.9,186.2 613.1,188.7 613.3,187.4 613.5,185.6 613.7,187.3 613.9,188.1 614.1,188.6 614.3,188.1 614.5,186.6 614.7,188.8 614.9,188.3 615.1,184.6 615.3,187.2 615.5,188 615.7,188.1 615.9,188.7 616.1,190.7 616.3,187.6 616.5,187.9 616.7,189.6 616.9,187.7 617.1,188.1 617.3,187 617.5,189.9 617.7,187.3 617.9,189.2 618.1,189.7 618.3,187.6 618.5,189.2 618.7,190.6 618.9,188.8 619.1,189.4 619.3,190.5 619.5,189.9 619.7,190.1 619.9,188.6 620.1,189.7 620.3,187.3 620.5,187.8 620.7,187.9 620.9,189.2 621.1,186.6 621.3,189.3 621.5,187 621.7,188 621.9,188 622.1,189.4 622.3,190.5 622.5,187 622.7,189.4 622.9,188.4 623.1,190.1 623.3,188 623.5,190 623.7,186 623.9,189.6 624.1,190.5 624.3,188.8 624.5,189.1 624.7,187.8 624.9,188.7 625.1,188.3 625.3,186.3 625.5,190.1 625.7,189 625.9,192.1 626.1,188.7 626.3,189 626.5,191.1 626.7,187.3 626.9,189.6 627.1,188.5 627.3,190.6 627.5,188.9 627.7,190.4 627.9,188.1 628.1,185.4 628.3,190.5 628.5,190.2 628.7,189.3 628.9,188.5 629.1,190.6 629.3,187.5 629.5,189.4 629.7,189.7 629.9,189.9 630.1,191 630.3,188 630.5,189.4 630.7,190.4 630.9,190.1 631.1,187.8 631.3,188.8 631.5,188.4 631.7,189.4 631.9,192.6 632.1,189.3 632.3,190.4 632.5,189.8 632.7,187.3 632.9,189.6 633.1,189.1 633.3,188 633.5,190.2 633.7,189.5 633.9,188.1 634.1,186.1 634.3,188.5 634.5,189.4 634.7,189.7 634.9,189.4 635.1,189.4 635.3,190.1 635.5,190.9 635.7,188.3 635.9,188.9 636.1,188.7 636.3,189.7 636.5,189.1 636.7,189.3 636.9,189.1 637.1,190.2 637.3,188.3 637.5,188.4 637.7,188.7 637.9,190.1 638.1,187.6 638.3,189.3 638.5,191 638.7,188.3 638.9,188.1 639.1,188.4 639.3,187.7 639.5,189.3 639.7,191.9 639.9,190.4 640.1,189 640.3,188.4 640.5,188.7 640.7,191.1 640.9,188.1 641.1,191.1 641.3,190.4 641.5,191.3 641.7,189.3 641.9,188.8 642.1,190.2 642.3,190 642.5,189.6 642.7,190.5 642.9,190.7 643.1,191.1 643.3,190 643.5,191 643.7,190.6 643.9,189.9 644.1,192.5 644.3,190 644.5,192.7 644.7,191.4 644.9,192.3 645.1,191.5 645.3,190.2 645.5,192.9 645.7,190.9 645.9,190 646.1,190.4 646.3,192.5 646.5,191.7 646.7,190.6 646.9,190.1 647.1,193.7 647.3,193.1 647.5,193.8 647.7,192.6 647.9,194 648.1,191.1 648.3,194.5 648.5,193 648.7,191.9 648.9,193.5 649.1,193.9 649.3,193 649.5,191.3 649.7,191.3 649.9,192.3 650.1,192.2 650.3,193.1 650.5,192.7 650.7,194.6 650.9,192.3 651.1,194.6 651.3,194.2 651.5,195.2 651.7,195.8 651.9,194.1 652.1,195.1 652.3,196.2 652.5,192.5 652.7,193.8 652.9,195.9 653.1,196 653.3,196.9 653.5,196.4 653.7,197.4 653.9,201.9 654.1,193.5 654.3,196.5 654.5,193.7 654.7,195.5 654.9,192.2 655.1,195.7 655.3,193.5 655.5,196.4 655.7,196.5 655.9,197.3 656.1,194.5 656.3,196.3 656.5,197.5 656.7,195.3 656.9,197.1 657.1,195.7 657.3,199.4 657.5,196.3 657.7,198.8 657.9,198.6 658.1,195.8 658.3,197.1 658.5,196.5" fill="none" stroke="#1414e6" stroke-width="1.6"/>
<rect x="385" y="23.8" width="124.5" height="91.5" fill="#fff" stroke="#777" stroke-width="1.2"/>
<line x1="382.5" y1="28.5" x2="385" y2="28.5" stroke="#666" stroke-width="0.9"/>
<line x1="382.5" y1="33.8" x2="385" y2="33.8" stroke="#666" stroke-width="0.9"/>
<line x1="382.5" y1="39.2" x2="385" y2="39.2" stroke="#666" stroke-width="0.9"/>
<line x1="382.5" y1="44.5" x2="385" y2="44.5" stroke="#666" stroke-width="0.9"/>
<line x1="382.5" y1="49.8" x2="385" y2="49.8" stroke="#666" stroke-width="0.9"/>
<line x1="382.5" y1="55.1" x2="385" y2="55.1" stroke="#666" stroke-width="0.9"/>
<line x1="382.5" y1="60.5" x2="385" y2="60.5" stroke="#666" stroke-width="0.9"/>
<line x1="382.5" y1="65.8" x2="385" y2="65.8" stroke="#666" stroke-width="0.9"/>
<line x1="382.5" y1="71.1" x2="385" y2="71.1" stroke="#666" stroke-width="0.9"/>
<line x1="382.5" y1="76.5" x2="385" y2="76.5" stroke="#666" stroke-width="0.9"/>
<line x1="382.5" y1="81.8" x2="385" y2="81.8" stroke="#666" stroke-width="0.9"/>
<line x1="382.5" y1="87.1" x2="385" y2="87.1" stroke="#666" stroke-width="0.9"/>
<line x1="382.5" y1="92.5" x2="385" y2="92.5" stroke="#666" stroke-width="0.9"/>
<line x1="382.5" y1="97.8" x2="385" y2="97.8" stroke="#666" stroke-width="0.9"/>
<line x1="382.5" y1="103.1" x2="385" y2="103.1" stroke="#666" stroke-width="0.9"/>
<line x1="382.5" y1="108.5" x2="385" y2="108.5" stroke="#666" stroke-width="0.9"/>
<line x1="382.5" y1="113.8" x2="385" y2="113.8" stroke="#666" stroke-width="0.9"/>
<line x1="394.4" y1="115.3" x2="394.4" y2="117.3" stroke="#666" stroke-width="0.9"/>
<line x1="411" y1="115.3" x2="411" y2="117.3" stroke="#666" stroke-width="0.9"/>
<line x1="427.6" y1="115.3" x2="427.6" y2="117.3" stroke="#666" stroke-width="0.9"/>
<line x1="444.2" y1="115.3" x2="444.2" y2="117.3" stroke="#666" stroke-width="0.9"/>
<line x1="460.8" y1="115.3" x2="460.8" y2="117.3" stroke="#666" stroke-width="0.9"/>
<line x1="477.4" y1="115.3" x2="477.4" y2="117.3" stroke="#666" stroke-width="0.9"/>
<line x1="494" y1="115.3" x2="494" y2="117.3" stroke="#666" stroke-width="0.9"/>
<line x1="510.6" y1="115.3" x2="510.6" y2="117.3" stroke="#666" stroke-width="0.9"/>
<text x="411" y="125" font-size="9.5" font-weight="bold" stroke="#000" stroke-width="0.3" text-anchor="middle" textLength="15.9" lengthAdjust="spacingAndGlyphs" fill="#000">220</text>
<text x="444.2" y="125" font-size="9.5" font-weight="bold" stroke="#000" stroke-width="0.3" text-anchor="middle" textLength="15.9" lengthAdjust="spacingAndGlyphs" fill="#000">240</text>
<text x="477.4" y="125" font-size="9.5" font-weight="bold" stroke="#000" stroke-width="0.3" text-anchor="middle" textLength="15.9" lengthAdjust="spacingAndGlyphs" fill="#000">260</text>
<text x="510.6" y="125" font-size="9.5" font-weight="bold" stroke="#000" stroke-width="0.3" text-anchor="middle" textLength="15.9" lengthAdjust="spacingAndGlyphs" fill="#000">280</text>
<text x="411" y="133.5" font-size="9.2" font-weight="bold" stroke="#000" stroke-width="0.3" textLength="73.4" lengthAdjust="spacingAndGlyphs" fill="#000">Wavelength (nm)</text>
<text transform="translate(374.3,113.3) rotate(-90)" font-size="9.2" font-weight="bold" stroke="#000" stroke-width="0.3" textLength="85.3" lengthAdjust="spacingAndGlyphs">Intensity (arb.units)</text>
<line x1="396" y1="35" x2="414" y2="35" stroke="#1414e6" stroke-width="4" stroke-linecap="round"/>
<text x="415.6" y="38.2" font-size="9.2" font-weight="bold" stroke="#000" stroke-width="0.3" textLength="18.8" lengthAdjust="spacingAndGlyphs" fill="#000">7 kV</text>
<path d="M385.5,109C386.2,108.8 388.4,108.8 390,108C391.6,107.2 393.3,105.5 395,104C396.7,102.5 398.2,100.4 400,99C401.8,97.6 404.3,96.1 406,95.4C407.7,94.7 408.3,95 410,95C411.7,95 414,96.3 416,95.6C418,94.9 419.8,92.7 422,91C424.2,89.3 426.7,86.6 429,85.4C431.3,84.2 433.5,84.5 436,83.6C438.5,82.7 441.7,81.1 444,80C446.3,78.9 448,78.5 450,77C452,75.5 454,73.1 456,71C458,68.9 460.2,66 462,64.4C463.8,62.8 465.3,61.8 467,61.6C468.7,61.4 470.3,62.6 472,63C473.7,63.4 475.5,64.2 477,64C478.5,63.8 479.5,63.2 481,62C482.5,60.8 484.5,59 486,57C487.5,55 488.8,52.8 490,50C491.2,47.2 492,43.7 493,40C494,36.3 495.2,30.7 496,28C496.8,25.3 497.2,24.5 497.5,23.8" fill="none" stroke="#1414e6" stroke-width="4" stroke-linejoin="round"/>
<path d="M432.1,216 L432.1,175.5 M426.7,184.7 L432.1,174.6 L437.5,184.7" fill="none" stroke="#000" stroke-width="2.4" stroke-linecap="round" stroke-linejoin="round"/>
<rect x="40.1" y="350.5" width="283.4" height="253.6" fill="#c0c0c0" stroke="#000" stroke-width="3"/>
<path d="M123.6,572.4 A108.5,108.5 0 1 1 192.4,572.4 Z" fill="#fff" stroke="#222" stroke-width="1.1"/>
<path fill="#e84a28" d="M157 374h3.5v3.5h-3.5zM134.9 377.2h3.5v3.5h-3.5zM141.2 377.2h3.5v3.5h-3.5zM153.8 377.2h6.7v3.5h-6.7zM163.3 377.2h13v3.5h-13zM131.8 380.3h6.7v3.5h-6.7zM141.2 380.3h16.1v3.5h-16.1zM160.1 380.3h16.1v3.5h-16.1zM182.2 380.3h3.5v3.5h-3.5zM116 383.5h6.7v3.5h-6.7zM128.6 383.5h6.7v3.5h-6.7zM138.1 383.5h6.7v3.5h-6.7zM147.5 383.5h6.7v3.5h-6.7zM157 383.5h3.5v3.5h-3.5zM166.4 383.5h3.5v3.5h-3.5zM188.5 383.5h3.5v3.5h-3.5zM194.8 383.5h6.7v3.5h-6.7zM112.9 386.6h3.5v3.5h-3.5zM119.2 386.6h13v3.5h-13zM141.2 386.6h3.5v3.5h-3.5zM147.5 386.6h3.5v3.5h-3.5zM157 386.6h3.5v3.5h-3.5zM163.3 386.6h3.5v3.5h-3.5zM169.6 386.6h3.5v3.5h-3.5zM179 386.6h3.5v3.5h-3.5zM194.8 386.6h3.5v3.5h-3.5zM106.6 389.8h13v3.5h-13zM122.3 389.8h3.5v3.5h-3.5zM128.6 389.8h6.7v3.5h-6.7zM138.1 389.8h6.7v3.5h-6.7zM147.5 389.8h3.5v3.5h-3.5zM153.8 389.8h3.5v3.5h-3.5zM160.1 389.8h3.5v3.5h-3.5zM175.9 389.8h3.5v3.5h-3.5zM194.8 389.8h9.8v3.5h-9.8zM207.4 389.8h3.5v3.5h-3.5zM100.3 392.9h6.7v3.5h-6.7zM109.7 392.9h3.5v3.5h-3.5zM116 392.9h9.8v3.5h-9.8zM128.6 392.9h6.7v3.5h-6.7zM138.1 392.9h6.7v3.5h-6.7zM157 392.9h3.5v3.5h-3.5zM163.3 392.9h9.8v3.5h-9.8zM175.9 392.9h6.7v3.5h-6.7zM188.5 392.9h3.5v3.5h-3.5zM210.5 392.9h6.7v3.5h-6.7zM97.1 396.1h16.1v3.5h-16.1zM119.2 396.1h3.5v3.5h-3.5zM125.5 396.1h9.8v3.5h-9.8zM144.4 396.1h9.8v3.5h-9.8zM160.1 396.1h3.5v3.5h-3.5zM166.4 396.1h3.5v3.5h-3.5zM175.9 396.1h3.5v3.5h-3.5zM182.2 396.1h3.5v3.5h-3.5zM194.8 396.1h3.5v3.5h-3.5zM204.2 396.1h6.7v3.5h-6.7zM213.7 396.1h6.7v3.5h-6.7zM94 399.2h6.7v3.5h-6.7zM103.4 399.2h3.5v3.5h-3.5zM109.7 399.2h3.5v3.5h-3.5zM128.6 399.2h6.7v3.5h-6.7zM138.1 399.2h9.8v3.5h-9.8zM157 399.2h3.5v3.5h-3.5zM169.6 399.2h3.5v3.5h-3.5zM175.9 399.2h3.5v3.5h-3.5zM182.2 399.2h3.5v3.5h-3.5zM194.8 399.2h9.8v3.5h-9.8zM207.4 399.2h13v3.5h-13zM94 402.4h19.3v3.5h-19.3zM119.2 402.4h3.5v3.5h-3.5zM128.6 402.4h13v3.5h-13zM150.7 402.4h9.8v3.5h-9.8zM163.3 402.4h3.5v3.5h-3.5zM185.3 402.4h3.5v3.5h-3.5zM194.8 402.4h13v3.5h-13zM210.5 402.4h6.7v3.5h-6.7zM87.7 405.5h3.5v3.5h-3.5zM94 405.5h3.5v3.5h-3.5zM100.3 405.5h9.8v3.5h-9.8zM112.9 405.5h9.8v3.5h-9.8zM125.5 405.5h6.7v3.5h-6.7zM134.9 405.5h3.5v3.5h-3.5zM141.2 405.5h3.5v3.5h-3.5zM150.7 405.5h3.5v3.5h-3.5zM157 405.5h9.8v3.5h-9.8zM172.7 405.5h3.5v3.5h-3.5zM179 405.5h3.5v3.5h-3.5zM188.5 405.5h9.8v3.5h-9.8zM201.1 405.5h13v3.5h-13zM220 405.5h9.8v3.5h-9.8zM97.1 408.7h3.5v3.5h-3.5zM106.6 408.7h3.5v3.5h-3.5zM112.9 408.7h6.7v3.5h-6.7zM122.3 408.7h3.5v3.5h-3.5zM128.6 408.7h19.3v3.5h-19.3zM150.7 408.7h22.4v3.5h-22.4zM185.3 408.7h3.5v3.5h-3.5zM197.9 408.7h3.5v3.5h-3.5zM204.2 408.7h6.7v3.5h-6.7zM220 408.7h9.8v3.5h-9.8zM81.4 411.8h3.5v3.5h-3.5zM94 411.8h9.8v3.5h-9.8zM109.7 411.8h3.5v3.5h-3.5zM116 411.8h3.5v3.5h-3.5zM134.9 411.8h13v3.5h-13zM153.8 411.8h13v3.5h-13zM169.6 411.8h13v3.5h-13zM191.6 411.8h3.5v3.5h-3.5zM201.1 411.8h9.8v3.5h-9.8zM213.7 411.8h9.8v3.5h-9.8zM229.4 411.8h3.5v3.5h-3.5zM81.4 415h3.5v3.5h-3.5zM90.8 415h3.5v3.5h-3.5zM97.1 415h3.5v3.5h-3.5zM103.4 415h3.5v3.5h-3.5zM109.7 415h9.8v3.5h-9.8zM122.3 415h9.8v3.5h-9.8zM134.9 415h13v3.5h-13zM153.8 415h6.7v3.5h-6.7zM163.3 415h3.5v3.5h-3.5zM169.6 415h19.3v3.5h-19.3zM197.9 415h3.5v3.5h-3.5zM204.2 415h6.7v3.5h-6.7zM223.1 415h6.7v3.5h-6.7zM232.6 415h3.5v3.5h-3.5zM78.2 418.1h9.8v3.5h-9.8zM94 418.1h3.5v3.5h-3.5zM100.3 418.1h3.5v3.5h-3.5zM106.6 418.1h6.7v3.5h-6.7zM116 418.1h13v3.5h-13zM134.9 418.1h3.5v3.5h-3.5zM141.2 418.1h3.5v3.5h-3.5zM150.7 418.1h3.5v3.5h-3.5zM157 418.1h6.7v3.5h-6.7zM166.4 418.1h3.5v3.5h-3.5zM172.7 418.1h3.5v3.5h-3.5zM179 418.1h13v3.5h-13zM194.8 418.1h35v3.5h-35zM232.6 418.1h3.5v3.5h-3.5zM84.5 421.3h9.8v3.5h-9.8zM100.3 421.3h13v3.5h-13zM116 421.3h9.8v3.5h-9.8zM128.6 421.3h19.3v3.5h-19.3zM153.8 421.3h9.8v3.5h-9.8zM166.4 421.3h6.7v3.5h-6.7zM175.9 421.3h6.7v3.5h-6.7zM185.3 421.3h25.6v3.5h-25.6zM213.7 421.3h13v3.5h-13zM229.4 421.3h6.7v3.5h-6.7zM75.1 424.4h3.5v3.5h-3.5zM87.7 424.4h3.5v3.5h-3.5zM94 424.4h6.7v3.5h-6.7zM103.4 424.4h3.5v3.5h-3.5zM112.9 424.4h9.8v3.5h-9.8zM125.5 424.4h6.7v3.5h-6.7zM134.9 424.4h6.7v3.5h-6.7zM150.7 424.4h13v3.5h-13zM169.6 424.4h31.9v3.5h-31.9zM213.7 424.4h3.5v3.5h-3.5zM220 424.4h6.7v3.5h-6.7zM229.4 424.4h3.5v3.5h-3.5zM235.7 424.4h6.7v3.5h-6.7zM75.1 427.6h6.7v3.5h-6.7zM87.7 427.6h3.5v3.5h-3.5zM94 427.6h13v3.5h-13zM109.7 427.6h6.7v3.5h-6.7zM119.2 427.6h6.7v3.5h-6.7zM131.8 427.6h9.8v3.5h-9.8zM144.4 427.6h3.5v3.5h-3.5zM150.7 427.6h3.5v3.5h-3.5zM157 427.6h3.5v3.5h-3.5zM166.4 427.6h3.5v3.5h-3.5zM172.7 427.6h3.5v3.5h-3.5zM179 427.6h3.5v3.5h-3.5zM185.3 427.6h3.5v3.5h-3.5zM191.6 427.6h6.7v3.5h-6.7zM223.1 427.6h6.7v3.5h-6.7zM232.6 427.6h3.5v3.5h-3.5zM238.9 427.6h6.7v3.5h-6.7zM71.9 430.7h3.5v3.5h-3.5zM81.4 430.7h3.5v3.5h-3.5zM87.7 430.7h16.1v3.5h-16.1zM112.9 430.7h3.5v3.5h-3.5zM119.2 430.7h28.7v3.5h-28.7zM150.7 430.7h3.5v3.5h-3.5zM157 430.7h9.8v3.5h-9.8zM169.6 430.7h3.5v3.5h-3.5zM182.2 430.7h28.7v3.5h-28.7zM213.7 430.7h3.5v3.5h-3.5zM232.6 430.7h13v3.5h-13zM71.9 433.9h6.7v3.5h-6.7zM84.5 433.9h3.5v3.5h-3.5zM97.1 433.9h3.5v3.5h-3.5zM103.4 433.9h13v3.5h-13zM122.3 433.9h28.7v3.5h-28.7zM153.8 433.9h19.3v3.5h-19.3zM175.9 433.9h13v3.5h-13zM191.6 433.9h9.8v3.5h-9.8zM204.2 433.9h3.5v3.5h-3.5zM210.5 433.9h3.5v3.5h-3.5zM216.8 433.9h3.5v3.5h-3.5zM226.3 433.9h9.8v3.5h-9.8zM238.9 433.9h3.5v3.5h-3.5zM71.9 437h6.7v3.5h-6.7zM81.4 437h3.5v3.5h-3.5zM94 437h9.8v3.5h-9.8zM106.6 437h3.5v3.5h-3.5zM112.9 437h3.5v3.5h-3.5zM125.5 437h16.1v3.5h-16.1zM144.4 437h3.5v3.5h-3.5zM153.8 437h6.7v3.5h-6.7zM166.4 437h3.5v3.5h-3.5zM172.7 437h3.5v3.5h-3.5zM179 437h9.8v3.5h-9.8zM194.8 437h19.3v3.5h-19.3zM216.8 437h3.5v3.5h-3.5zM223.1 437h6.7v3.5h-6.7zM232.6 437h3.5v3.5h-3.5zM238.9 437h6.7v3.5h-6.7zM78.2 440.2h3.5v3.5h-3.5zM84.5 440.2h9.8v3.5h-9.8zM97.1 440.2h3.5v3.5h-3.5zM106.6 440.2h6.7v3.5h-6.7zM119.2 440.2h13v3.5h-13zM134.9 440.2h3.5v3.5h-3.5zM141.2 440.2h3.5v3.5h-3.5zM147.5 440.2h6.7v3.5h-6.7zM160.1 440.2h9.8v3.5h-9.8zM172.7 440.2h3.5v3.5h-3.5zM179 440.2h6.7v3.5h-6.7zM191.6 440.2h3.5v3.5h-3.5zM197.9 440.2h3.5v3.5h-3.5zM210.5 440.2h6.7v3.5h-6.7zM220 440.2h6.7v3.5h-6.7zM235.7 440.2h6.7v3.5h-6.7zM245.2 440.2h3.5v3.5h-3.5zM71.9 443.3h3.5v3.5h-3.5zM78.2 443.3h3.5v3.5h-3.5zM94 443.3h3.5v3.5h-3.5zM100.3 443.3h3.5v3.5h-3.5zM106.6 443.3h3.5v3.5h-3.5zM112.9 443.3h3.5v3.5h-3.5zM119.2 443.3h13v3.5h-13zM134.9 443.3h6.7v3.5h-6.7zM144.4 443.3h3.5v3.5h-3.5zM150.7 443.3h3.5v3.5h-3.5zM157 443.3h3.5v3.5h-3.5zM166.4 443.3h6.7v3.5h-6.7zM175.9 443.3h25.6v3.5h-25.6zM210.5 443.3h16.1v3.5h-16.1zM229.4 443.3h9.8v3.5h-9.8zM242 443.3h3.5v3.5h-3.5zM68.8 446.5h3.5v3.5h-3.5zM78.2 446.5h3.5v3.5h-3.5zM94 446.5h13v3.5h-13zM116 446.5h3.5v3.5h-3.5zM125.5 446.5h3.5v3.5h-3.5zM134.9 446.5h6.7v3.5h-6.7zM144.4 446.5h3.5v3.5h-3.5zM153.8 446.5h3.5v3.5h-3.5zM160.1 446.5h13v3.5h-13zM175.9 446.5h6.7v3.5h-6.7zM185.3 446.5h3.5v3.5h-3.5zM191.6 446.5h6.7v3.5h-6.7zM204.2 446.5h3.5v3.5h-3.5zM210.5 446.5h3.5v3.5h-3.5zM223.1 446.5h3.5v3.5h-3.5zM229.4 446.5h16.1v3.5h-16.1zM71.9 449.6h3.5v3.5h-3.5zM87.7 449.6h3.5v3.5h-3.5zM97.1 449.6h6.7v3.5h-6.7zM112.9 449.6h3.5v3.5h-3.5zM122.3 449.6h3.5v3.5h-3.5zM128.6 449.6h6.7v3.5h-6.7zM138.1 449.6h9.8v3.5h-9.8zM150.7 449.6h3.5v3.5h-3.5zM157 449.6h3.5v3.5h-3.5zM163.3 449.6h6.7v3.5h-6.7zM172.7 449.6h19.3v3.5h-19.3zM194.8 449.6h19.3v3.5h-19.3zM216.8 449.6h6.7v3.5h-6.7zM226.3 449.6h13v3.5h-13zM242 449.6h9.8v3.5h-9.8zM68.8 452.8h3.5v3.5h-3.5zM75.1 452.8h3.5v3.5h-3.5zM87.7 452.8h3.5v3.5h-3.5zM103.4 452.8h6.7v3.5h-6.7zM128.6 452.8h6.7v3.5h-6.7zM138.1 452.8h19.3v3.5h-19.3zM163.3 452.8h9.8v3.5h-9.8zM175.9 452.8h6.7v3.5h-6.7zM185.3 452.8h3.5v3.5h-3.5zM194.8 452.8h9.8v3.5h-9.8zM207.4 452.8h6.7v3.5h-6.7zM220 452.8h25.6v3.5h-25.6zM65.6 455.9h3.5v3.5h-3.5zM94 455.9h3.5v3.5h-3.5zM134.9 455.9h3.5v3.5h-3.5zM147.5 455.9h6.7v3.5h-6.7zM157 455.9h3.5v3.5h-3.5zM166.4 455.9h16.1v3.5h-16.1zM185.3 455.9h3.5v3.5h-3.5zM194.8 455.9h13v3.5h-13zM210.5 455.9h3.5v3.5h-3.5zM216.8 455.9h3.5v3.5h-3.5zM229.4 455.9h6.7v3.5h-6.7zM238.9 455.9h9.8v3.5h-9.8zM71.9 459.1h3.5v3.5h-3.5zM90.8 459.1h3.5v3.5h-3.5zM112.9 459.1h3.5v3.5h-3.5zM122.3 459.1h3.5v3.5h-3.5zM147.5 459.1h3.5v3.5h-3.5zM153.8 459.1h6.7v3.5h-6.7zM163.3 459.1h3.5v3.5h-3.5zM169.6 459.1h3.5v3.5h-3.5zM185.3 459.1h6.7v3.5h-6.7zM197.9 459.1h3.5v3.5h-3.5zM207.4 459.1h16.1v3.5h-16.1zM226.3 459.1h3.5v3.5h-3.5zM235.7 459.1h16.1v3.5h-16.1zM68.8 462.2h9.8v3.5h-9.8zM81.4 462.2h3.5v3.5h-3.5zM90.8 462.2h3.5v3.5h-3.5zM100.3 462.2h3.5v3.5h-3.5zM106.6 462.2h3.5v3.5h-3.5zM122.3 462.2h3.5v3.5h-3.5zM128.6 462.2h3.5v3.5h-3.5zM147.5 462.2h6.7v3.5h-6.7zM157 462.2h16.1v3.5h-16.1zM175.9 462.2h3.5v3.5h-3.5zM182.2 462.2h3.5v3.5h-3.5zM191.6 462.2h9.8v3.5h-9.8zM204.2 462.2h6.7v3.5h-6.7zM213.7 462.2h3.5v3.5h-3.5zM220 462.2h6.7v3.5h-6.7zM232.6 462.2h3.5v3.5h-3.5zM238.9 462.2h3.5v3.5h-3.5zM245.2 462.2h6.7v3.5h-6.7zM65.6 465.4h3.5v3.5h-3.5zM71.9 465.4h9.8v3.5h-9.8zM87.7 465.4h9.8v3.5h-9.8zM100.3 465.4h9.8v3.5h-9.8zM112.9 465.4h3.5v3.5h-3.5zM122.3 465.4h3.5v3.5h-3.5zM138.1 465.4h3.5v3.5h-3.5zM169.6 465.4h6.7v3.5h-6.7zM185.3 465.4h3.5v3.5h-3.5zM191.6 465.4h3.5v3.5h-3.5zM204.2 465.4h6.7v3.5h-6.7zM213.7 465.4h3.5v3.5h-3.5zM220 465.4h9.8v3.5h-9.8zM232.6 465.4h3.5v3.5h-3.5zM245.2 465.4h6.7v3.5h-6.7zM75.1 468.5h9.8v3.5h-9.8zM94 468.5h6.7v3.5h-6.7zM103.4 468.5h3.5v3.5h-3.5zM109.7 468.5h6.7v3.5h-6.7zM144.4 468.5h3.5v3.5h-3.5zM157 468.5h6.7v3.5h-6.7zM179 468.5h3.5v3.5h-3.5zM194.8 468.5h9.8v3.5h-9.8zM210.5 468.5h13v3.5h-13zM229.4 468.5h3.5v3.5h-3.5zM235.7 468.5h6.7v3.5h-6.7zM251.5 468.5h3.5v3.5h-3.5zM71.9 471.7h6.7v3.5h-6.7zM81.4 471.7h3.5v3.5h-3.5zM97.1 471.7h3.5v3.5h-3.5zM119.2 471.7h3.5v3.5h-3.5zM125.5 471.7h3.5v3.5h-3.5zM134.9 471.7h3.5v3.5h-3.5zM169.6 471.7h6.7v3.5h-6.7zM179 471.7h3.5v3.5h-3.5zM188.5 471.7h6.7v3.5h-6.7zM204.2 471.7h3.5v3.5h-3.5zM216.8 471.7h9.8v3.5h-9.8zM232.6 471.7h6.7v3.5h-6.7zM242 471.7h6.7v3.5h-6.7zM65.6 474.8h3.5v3.5h-3.5zM75.1 474.8h6.7v3.5h-6.7zM84.5 474.8h6.7v3.5h-6.7zM103.4 474.8h6.7v3.5h-6.7zM112.9 474.8h6.7v3.5h-6.7zM128.6 474.8h3.5v3.5h-3.5zM138.1 474.8h3.5v3.5h-3.5zM144.4 474.8h9.8v3.5h-9.8zM160.1 474.8h3.5v3.5h-3.5zM188.5 474.8h6.7v3.5h-6.7zM210.5 474.8h3.5v3.5h-3.5zM216.8 474.8h3.5v3.5h-3.5zM229.4 474.8h6.7v3.5h-6.7zM238.9 474.8h9.8v3.5h-9.8zM65.6 478h3.5v3.5h-3.5zM75.1 478h13v3.5h-13zM90.8 478h3.5v3.5h-3.5zM97.1 478h3.5v3.5h-3.5zM106.6 478h3.5v3.5h-3.5zM112.9 478h3.5v3.5h-3.5zM119.2 478h3.5v3.5h-3.5zM125.5 478h3.5v3.5h-3.5zM138.1 478h3.5v3.5h-3.5zM153.8 478h6.7v3.5h-6.7zM163.3 478h3.5v3.5h-3.5zM185.3 478h3.5v3.5h-3.5zM210.5 478h6.7v3.5h-6.7zM229.4 478h6.7v3.5h-6.7zM242 478h6.7v3.5h-6.7zM71.9 481.1h9.8v3.5h-9.8zM84.5 481.1h22.4v3.5h-22.4zM109.7 481.1h3.5v3.5h-3.5zM122.3 481.1h6.7v3.5h-6.7zM134.9 481.1h9.8v3.5h-9.8zM150.7 481.1h6.7v3.5h-6.7zM160.1 481.1h3.5v3.5h-3.5zM172.7 481.1h6.7v3.5h-6.7zM185.3 481.1h3.5v3.5h-3.5zM191.6 481.1h6.7v3.5h-6.7zM207.4 481.1h3.5v3.5h-3.5zM235.7 481.1h6.7v3.5h-6.7zM245.2 481.1h3.5v3.5h-3.5zM65.6 484.3h6.7v3.5h-6.7zM75.1 484.3h9.8v3.5h-9.8zM90.8 484.3h3.5v3.5h-3.5zM97.1 484.3h3.5v3.5h-3.5zM103.4 484.3h13v3.5h-13zM125.5 484.3h6.7v3.5h-6.7zM138.1 484.3h3.5v3.5h-3.5zM150.7 484.3h3.5v3.5h-3.5zM172.7 484.3h3.5v3.5h-3.5zM179 484.3h3.5v3.5h-3.5zM194.8 484.3h3.5v3.5h-3.5zM207.4 484.3h6.7v3.5h-6.7zM216.8 484.3h16.1v3.5h-16.1zM242 484.3h3.5v3.5h-3.5zM71.9 487.4h3.5v3.5h-3.5zM78.2 487.4h3.5v3.5h-3.5zM84.5 487.4h3.5v3.5h-3.5zM94 487.4h3.5v3.5h-3.5zM100.3 487.4h3.5v3.5h-3.5zM106.6 487.4h3.5v3.5h-3.5zM116 487.4h13v3.5h-13zM131.8 487.4h9.8v3.5h-9.8zM144.4 487.4h3.5v3.5h-3.5zM157 487.4h3.5v3.5h-3.5zM163.3 487.4h9.8v3.5h-9.8zM185.3 487.4h16.1v3.5h-16.1zM207.4 487.4h13v3.5h-13zM229.4 487.4h3.5v3.5h-3.5zM248.3 487.4h3.5v3.5h-3.5zM65.6 490.6h6.7v3.5h-6.7zM75.1 490.6h3.5v3.5h-3.5zM87.7 490.6h3.5v3.5h-3.5zM97.1 490.6h6.7v3.5h-6.7zM106.6 490.6h3.5v3.5h-3.5zM116 490.6h6.7v3.5h-6.7zM131.8 490.6h3.5v3.5h-3.5zM141.2 490.6h3.5v3.5h-3.5zM153.8 490.6h13v3.5h-13zM182.2 490.6h9.8v3.5h-9.8zM197.9 490.6h3.5v3.5h-3.5zM204.2 490.6h3.5v3.5h-3.5zM210.5 490.6h9.8v3.5h-9.8zM223.1 490.6h3.5v3.5h-3.5zM229.4 490.6h3.5v3.5h-3.5zM238.9 490.6h3.5v3.5h-3.5zM248.3 490.6h3.5v3.5h-3.5zM75.1 493.7h3.5v3.5h-3.5zM84.5 493.7h9.8v3.5h-9.8zM97.1 493.7h6.7v3.5h-6.7zM122.3 493.7h6.7v3.5h-6.7zM134.9 493.7h3.5v3.5h-3.5zM144.4 493.7h6.7v3.5h-6.7zM166.4 493.7h9.8v3.5h-9.8zM179 493.7h3.5v3.5h-3.5zM185.3 493.7h13v3.5h-13zM204.2 493.7h13v3.5h-13zM223.1 493.7h3.5v3.5h-3.5zM235.7 493.7h6.7v3.5h-6.7zM245.2 493.7h3.5v3.5h-3.5zM68.8 496.9h3.5v3.5h-3.5zM75.1 496.9h3.5v3.5h-3.5zM81.4 496.9h3.5v3.5h-3.5zM87.7 496.9h9.8v3.5h-9.8zM100.3 496.9h3.5v3.5h-3.5zM106.6 496.9h9.8v3.5h-9.8zM128.6 496.9h28.7v3.5h-28.7zM160.1 496.9h9.8v3.5h-9.8zM172.7 496.9h6.7v3.5h-6.7zM185.3 496.9h22.4v3.5h-22.4zM210.5 496.9h3.5v3.5h-3.5zM216.8 496.9h3.5v3.5h-3.5zM232.6 496.9h3.5v3.5h-3.5zM242 496.9h3.5v3.5h-3.5zM71.9 500h22.4v3.5h-22.4zM97.1 500h3.5v3.5h-3.5zM103.4 500h9.8v3.5h-9.8zM116 500h3.5v3.5h-3.5zM122.3 500h3.5v3.5h-3.5zM128.6 500h6.7v3.5h-6.7zM138.1 500h6.7v3.5h-6.7zM160.1 500h9.8v3.5h-9.8zM182.2 500h6.7v3.5h-6.7zM191.6 500h3.5v3.5h-3.5zM197.9 500h3.5v3.5h-3.5zM204.2 500h3.5v3.5h-3.5zM210.5 500h6.7v3.5h-6.7zM232.6 500h3.5v3.5h-3.5zM242 500h6.7v3.5h-6.7zM75.1 503.2h13v3.5h-13zM90.8 503.2h19.3v3.5h-19.3zM112.9 503.2h6.7v3.5h-6.7zM128.6 503.2h16.1v3.5h-16.1zM147.5 503.2h9.8v3.5h-9.8zM160.1 503.2h6.7v3.5h-6.7zM169.6 503.2h3.5v3.5h-3.5zM175.9 503.2h6.7v3.5h-6.7zM185.3 503.2h3.5v3.5h-3.5zM191.6 503.2h9.8v3.5h-9.8zM204.2 503.2h6.7v3.5h-6.7zM213.7 503.2h6.7v3.5h-6.7zM235.7 503.2h9.8v3.5h-9.8zM71.9 506.3h6.7v3.5h-6.7zM81.4 506.3h3.5v3.5h-3.5zM90.8 506.3h3.5v3.5h-3.5zM100.3 506.3h13v3.5h-13zM116 506.3h13v3.5h-13zM131.8 506.3h19.3v3.5h-19.3zM157 506.3h9.8v3.5h-9.8zM169.6 506.3h9.8v3.5h-9.8zM188.5 506.3h3.5v3.5h-3.5zM194.8 506.3h28.7v3.5h-28.7zM229.4 506.3h6.7v3.5h-6.7zM242 506.3h3.5v3.5h-3.5zM71.9 509.5h9.8v3.5h-9.8zM84.5 509.5h19.3v3.5h-19.3zM106.6 509.5h6.7v3.5h-6.7zM116 509.5h9.8v3.5h-9.8zM131.8 509.5h3.5v3.5h-3.5zM138.1 509.5h9.8v3.5h-9.8zM150.7 509.5h3.5v3.5h-3.5zM157 509.5h3.5v3.5h-3.5zM163.3 509.5h22.4v3.5h-22.4zM188.5 509.5h3.5v3.5h-3.5zM197.9 509.5h9.8v3.5h-9.8zM213.7 509.5h9.8v3.5h-9.8zM226.3 509.5h6.7v3.5h-6.7zM238.9 509.5h6.7v3.5h-6.7zM75.1 512.6h6.7v3.5h-6.7zM84.5 512.6h22.4v3.5h-22.4zM109.7 512.6h19.3v3.5h-19.3zM131.8 512.6h9.8v3.5h-9.8zM144.4 512.6h13v3.5h-13zM163.3 512.6h3.5v3.5h-3.5zM169.6 512.6h9.8v3.5h-9.8zM182.2 512.6h3.5v3.5h-3.5zM188.5 512.6h13v3.5h-13zM204.2 512.6h3.5v3.5h-3.5zM210.5 512.6h13v3.5h-13zM226.3 512.6h3.5v3.5h-3.5zM238.9 512.6h3.5v3.5h-3.5zM81.4 515.8h6.7v3.5h-6.7zM94 515.8h3.5v3.5h-3.5zM100.3 515.8h9.8v3.5h-9.8zM112.9 515.8h3.5v3.5h-3.5zM119.2 515.8h13v3.5h-13zM134.9 515.8h3.5v3.5h-3.5zM150.7 515.8h3.5v3.5h-3.5zM160.1 515.8h41.3v3.5h-41.3zM204.2 515.8h3.5v3.5h-3.5zM210.5 515.8h3.5v3.5h-3.5zM220 515.8h9.8v3.5h-9.8zM78.2 518.9h6.7v3.5h-6.7zM87.7 518.9h13v3.5h-13zM106.6 518.9h3.5v3.5h-3.5zM116 518.9h3.5v3.5h-3.5zM122.3 518.9h3.5v3.5h-3.5zM131.8 518.9h6.7v3.5h-6.7zM141.2 518.9h6.7v3.5h-6.7zM150.7 518.9h3.5v3.5h-3.5zM157 518.9h9.8v3.5h-9.8zM172.7 518.9h9.8v3.5h-9.8zM185.3 518.9h6.7v3.5h-6.7zM194.8 518.9h6.7v3.5h-6.7zM204.2 518.9h16.1v3.5h-16.1zM232.6 518.9h3.5v3.5h-3.5zM81.4 522.1h3.5v3.5h-3.5zM90.8 522.1h38.2v3.5h-38.2zM131.8 522.1h3.5v3.5h-3.5zM138.1 522.1h3.5v3.5h-3.5zM144.4 522.1h6.7v3.5h-6.7zM157 522.1h6.7v3.5h-6.7zM166.4 522.1h3.5v3.5h-3.5zM179 522.1h35v3.5h-35zM216.8 522.1h13v3.5h-13zM232.6 522.1h3.5v3.5h-3.5zM81.4 525.2h22.4v3.5h-22.4zM106.6 525.2h6.7v3.5h-6.7zM116 525.2h3.5v3.5h-3.5zM122.3 525.2h3.5v3.5h-3.5zM128.6 525.2h3.5v3.5h-3.5zM134.9 525.2h3.5v3.5h-3.5zM147.5 525.2h16.1v3.5h-16.1zM179 525.2h3.5v3.5h-3.5zM185.3 525.2h3.5v3.5h-3.5zM191.6 525.2h13v3.5h-13zM210.5 525.2h25.6v3.5h-25.6zM84.5 528.4h9.8v3.5h-9.8zM106.6 528.4h3.5v3.5h-3.5zM112.9 528.4h6.7v3.5h-6.7zM122.3 528.4h3.5v3.5h-3.5zM134.9 528.4h3.5v3.5h-3.5zM141.2 528.4h3.5v3.5h-3.5zM150.7 528.4h25.6v3.5h-25.6zM182.2 528.4h25.6v3.5h-25.6zM210.5 528.4h6.7v3.5h-6.7zM223.1 528.4h6.7v3.5h-6.7zM87.7 531.5h25.6v3.5h-25.6zM122.3 531.5h6.7v3.5h-6.7zM131.8 531.5h3.5v3.5h-3.5zM150.7 531.5h9.8v3.5h-9.8zM166.4 531.5h3.5v3.5h-3.5zM172.7 531.5h31.9v3.5h-31.9zM210.5 531.5h6.7v3.5h-6.7zM220 531.5h6.7v3.5h-6.7zM90.8 534.7h22.4v3.5h-22.4zM116 534.7h3.5v3.5h-3.5zM122.3 534.7h19.3v3.5h-19.3zM144.4 534.7h3.5v3.5h-3.5zM157 534.7h6.7v3.5h-6.7zM175.9 534.7h6.7v3.5h-6.7zM207.4 534.7h3.5v3.5h-3.5zM216.8 534.7h3.5v3.5h-3.5zM94 537.8h6.7v3.5h-6.7zM109.7 537.8h3.5v3.5h-3.5zM116 537.8h3.5v3.5h-3.5zM125.5 537.8h6.7v3.5h-6.7zM134.9 537.8h3.5v3.5h-3.5zM141.2 537.8h3.5v3.5h-3.5zM147.5 537.8h13v3.5h-13zM163.3 537.8h28.7v3.5h-28.7zM197.9 537.8h3.5v3.5h-3.5zM204.2 537.8h13v3.5h-13zM100.3 541h13v3.5h-13zM116 541h13v3.5h-13zM131.8 541h9.8v3.5h-9.8zM144.4 541h3.5v3.5h-3.5zM166.4 541h6.7v3.5h-6.7zM175.9 541h3.5v3.5h-3.5zM194.8 541h6.7v3.5h-6.7zM213.7 541h3.5v3.5h-3.5zM103.4 544.1h6.7v3.5h-6.7zM112.9 544.1h22.4v3.5h-22.4zM138.1 544.1h22.4v3.5h-22.4zM163.3 544.1h3.5v3.5h-3.5zM172.7 544.1h25.6v3.5h-25.6zM210.5 544.1h3.5v3.5h-3.5zM112.9 547.3h3.5v3.5h-3.5zM119.2 547.3h6.7v3.5h-6.7zM131.8 547.3h3.5v3.5h-3.5zM144.4 547.3h6.7v3.5h-6.7zM157 547.3h3.5v3.5h-3.5zM169.6 547.3h3.5v3.5h-3.5zM175.9 547.3h3.5v3.5h-3.5zM182.2 547.3h3.5v3.5h-3.5zM191.6 547.3h19.3v3.5h-19.3zM116 550.4h19.3v3.5h-19.3zM138.1 550.4h9.8v3.5h-9.8zM150.7 550.4h13v3.5h-13zM175.9 550.4h6.7v3.5h-6.7zM191.6 550.4h6.7v3.5h-6.7zM116 553.6h3.5v3.5h-3.5zM122.3 553.6h16.1v3.5h-16.1zM147.5 553.6h13v3.5h-13zM163.3 553.6h16.1v3.5h-16.1zM182.2 553.6h3.5v3.5h-3.5zM188.5 553.6h13v3.5h-13zM125.5 556.7h9.8v3.5h-9.8zM138.1 556.7h3.5v3.5h-3.5zM144.4 556.7h13v3.5h-13zM160.1 556.7h3.5v3.5h-3.5zM169.6 556.7h3.5v3.5h-3.5zM175.9 556.7h6.7v3.5h-6.7zM188.5 556.7h3.5v3.5h-3.5zM134.9 559.9h3.5v3.5h-3.5zM141.2 559.9h9.8v3.5h-9.8zM157 559.9h9.8v3.5h-9.8zM169.6 559.9h13v3.5h-13z"/>
<path fill="#d09a58" d="M138.1 377.2h3.5v3.5h-3.5zM160.1 377.2h3.5v3.5h-3.5zM153.8 386.6h3.5v3.5h-3.5zM197.9 386.6h3.5v3.5h-3.5zM125.5 389.8h3.5v3.5h-3.5zM144.4 392.9h3.5v3.5h-3.5zM197.9 392.9h3.5v3.5h-3.5zM207.4 392.9h3.5v3.5h-3.5zM112.9 396.1h3.5v3.5h-3.5zM116 402.4h3.5v3.5h-3.5zM166.4 402.4h3.5v3.5h-3.5zM191.6 402.4h3.5v3.5h-3.5zM119.2 415h3.5v3.5h-3.5zM216.8 415h3.5v3.5h-3.5zM229.4 415h3.5v3.5h-3.5zM131.8 424.4h3.5v3.5h-3.5zM201.1 424.4h3.5v3.5h-3.5zM153.8 430.7h3.5v3.5h-3.5zM172.7 430.7h3.5v3.5h-3.5zM94 433.9h3.5v3.5h-3.5zM220 433.9h3.5v3.5h-3.5zM220 437h3.5v3.5h-3.5zM235.7 437h3.5v3.5h-3.5zM153.8 440.2h3.5v3.5h-3.5zM204.2 440.2h3.5v3.5h-3.5zM163.3 443.3h3.5v3.5h-3.5zM109.7 446.5h3.5v3.5h-3.5zM226.3 446.5h3.5v3.5h-3.5zM109.7 449.6h3.5v3.5h-3.5zM238.9 449.6h3.5v3.5h-3.5zM103.4 455.9h3.5v3.5h-3.5zM68.8 465.4h3.5v3.5h-3.5zM68.8 468.5h3.5v3.5h-3.5zM223.1 468.5h3.5v3.5h-3.5zM68.8 471.7h3.5v3.5h-3.5zM87.7 471.7h3.5v3.5h-3.5zM81.4 474.8h3.5v3.5h-3.5zM97.1 474.8h3.5v3.5h-3.5zM226.3 478h3.5v3.5h-3.5zM169.6 481.1h3.5v3.5h-3.5zM119.2 484.3h3.5v3.5h-3.5zM160.1 487.4h3.5v3.5h-3.5zM204.2 487.4h3.5v3.5h-3.5zM78.2 490.6h3.5v3.5h-3.5zM90.8 490.6h3.5v3.5h-3.5zM103.4 490.6h3.5v3.5h-3.5zM106.6 493.7h3.5v3.5h-3.5zM153.8 493.7h6.7v3.5h-6.7zM84.5 496.9h3.5v3.5h-3.5zM223.1 496.9h3.5v3.5h-3.5zM100.3 500h3.5v3.5h-3.5zM134.9 500h3.5v3.5h-3.5zM122.3 503.2h3.5v3.5h-3.5zM144.4 503.2h3.5v3.5h-3.5zM97.1 506.3h3.5v3.5h-3.5zM226.3 506.3h3.5v3.5h-3.5zM128.6 509.5h3.5v3.5h-3.5zM128.6 512.6h3.5v3.5h-3.5zM103.4 518.9h3.5v3.5h-3.5zM128.6 518.9h3.5v3.5h-3.5zM138.1 518.9h3.5v3.5h-3.5zM226.3 518.9h3.5v3.5h-3.5zM141.2 522.1h3.5v3.5h-3.5zM125.5 525.2h3.5v3.5h-3.5zM166.4 525.2h3.5v3.5h-3.5zM204.2 525.2h3.5v3.5h-3.5zM109.7 528.4h3.5v3.5h-3.5zM128.6 531.5h3.5v3.5h-3.5zM160.1 531.5h3.5v3.5h-3.5zM194.8 537.8h3.5v3.5h-3.5zM128.6 541h3.5v3.5h-3.5zM160.1 544.1h3.5v3.5h-3.5zM166.4 544.1h3.5v3.5h-3.5zM138.1 547.3h6.7v3.5h-6.7zM166.4 547.3h3.5v3.5h-3.5zM119.2 553.6h3.5v3.5h-3.5z"/>
<path fill="#d85a30" d="M144.4 377.2h6.7v3.5h-6.7zM138.1 380.3h3.5v3.5h-3.5zM122.3 383.5h3.5v3.5h-3.5zM153.8 383.5h3.5v3.5h-3.5zM169.6 383.5h6.7v3.5h-6.7zM182.2 386.6h3.5v3.5h-3.5zM191.6 386.6h3.5v3.5h-3.5zM134.9 389.8h3.5v3.5h-3.5zM150.7 389.8h3.5v3.5h-3.5zM125.5 392.9h3.5v3.5h-3.5zM150.7 392.9h3.5v3.5h-3.5zM172.7 392.9h3.5v3.5h-3.5zM116 396.1h3.5v3.5h-3.5zM122.3 396.1h3.5v3.5h-3.5zM163.3 396.1h3.5v3.5h-3.5zM169.6 396.1h3.5v3.5h-3.5zM100.3 399.2h3.5v3.5h-3.5zM112.9 399.2h3.5v3.5h-3.5zM119.2 399.2h3.5v3.5h-3.5zM134.9 399.2h3.5v3.5h-3.5zM150.7 399.2h3.5v3.5h-3.5zM90.8 402.4h3.5v3.5h-3.5zM147.5 402.4h3.5v3.5h-3.5zM207.4 402.4h3.5v3.5h-3.5zM223.1 402.4h3.5v3.5h-3.5zM138.1 405.5h3.5v3.5h-3.5zM166.4 405.5h3.5v3.5h-3.5zM182.2 405.5h3.5v3.5h-3.5zM87.7 408.7h3.5v3.5h-3.5zM103.4 408.7h3.5v3.5h-3.5zM125.5 408.7h3.5v3.5h-3.5zM188.5 408.7h9.8v3.5h-9.8zM87.7 411.8h6.7v3.5h-6.7zM106.6 411.8h3.5v3.5h-3.5zM122.3 411.8h3.5v3.5h-3.5zM185.3 411.8h3.5v3.5h-3.5zM223.1 411.8h3.5v3.5h-3.5zM84.5 415h6.7v3.5h-6.7zM147.5 415h6.7v3.5h-6.7zM166.4 415h3.5v3.5h-3.5zM213.7 415h3.5v3.5h-3.5zM87.7 418.1h3.5v3.5h-3.5zM97.1 418.1h3.5v3.5h-3.5zM144.4 418.1h3.5v3.5h-3.5zM153.8 418.1h3.5v3.5h-3.5zM169.6 418.1h3.5v3.5h-3.5zM94 421.3h3.5v3.5h-3.5zM112.9 421.3h3.5v3.5h-3.5zM147.5 421.3h6.7v3.5h-6.7zM226.3 421.3h3.5v3.5h-3.5zM235.7 421.3h3.5v3.5h-3.5zM78.2 424.4h6.7v3.5h-6.7zM100.3 424.4h3.5v3.5h-3.5zM106.6 424.4h3.5v3.5h-3.5zM144.4 424.4h3.5v3.5h-3.5zM210.5 424.4h3.5v3.5h-3.5zM226.3 424.4h3.5v3.5h-3.5zM106.6 427.6h3.5v3.5h-3.5zM153.8 427.6h3.5v3.5h-3.5zM160.1 427.6h3.5v3.5h-3.5zM175.9 427.6h3.5v3.5h-3.5zM182.2 427.6h3.5v3.5h-3.5zM188.5 427.6h3.5v3.5h-3.5zM204.2 427.6h3.5v3.5h-3.5zM213.7 427.6h3.5v3.5h-3.5zM220 427.6h3.5v3.5h-3.5zM179 430.7h3.5v3.5h-3.5zM210.5 430.7h3.5v3.5h-3.5zM226.3 430.7h3.5v3.5h-3.5zM87.7 433.9h3.5v3.5h-3.5zM116 433.9h3.5v3.5h-3.5zM150.7 433.9h3.5v3.5h-3.5zM172.7 433.9h3.5v3.5h-3.5zM207.4 433.9h3.5v3.5h-3.5zM223.1 433.9h3.5v3.5h-3.5zM235.7 433.9h3.5v3.5h-3.5zM109.7 437h3.5v3.5h-3.5zM141.2 437h3.5v3.5h-3.5zM163.3 437h3.5v3.5h-3.5zM213.7 437h3.5v3.5h-3.5zM229.4 437h3.5v3.5h-3.5zM245.2 437h3.5v3.5h-3.5zM81.4 440.2h3.5v3.5h-3.5zM112.9 440.2h3.5v3.5h-3.5zM169.6 440.2h3.5v3.5h-3.5zM68.8 443.3h3.5v3.5h-3.5zM109.7 443.3h3.5v3.5h-3.5zM116 443.3h3.5v3.5h-3.5zM131.8 443.3h3.5v3.5h-3.5zM147.5 443.3h3.5v3.5h-3.5zM160.1 443.3h3.5v3.5h-3.5zM201.1 443.3h6.7v3.5h-6.7zM238.9 443.3h3.5v3.5h-3.5zM71.9 446.5h3.5v3.5h-3.5zM84.5 446.5h3.5v3.5h-3.5zM112.9 446.5h3.5v3.5h-3.5zM119.2 446.5h3.5v3.5h-3.5zM128.6 446.5h6.7v3.5h-6.7zM245.2 446.5h3.5v3.5h-3.5zM147.5 449.6h3.5v3.5h-3.5zM81.4 452.8h3.5v3.5h-3.5zM160.1 452.8h3.5v3.5h-3.5zM188.5 452.8h3.5v3.5h-3.5zM216.8 452.8h3.5v3.5h-3.5zM245.2 452.8h3.5v3.5h-3.5zM100.3 455.9h3.5v3.5h-3.5zM116 455.9h3.5v3.5h-3.5zM128.6 455.9h3.5v3.5h-3.5zM182.2 455.9h3.5v3.5h-3.5zM213.7 455.9h3.5v3.5h-3.5zM125.5 459.1h3.5v3.5h-3.5zM134.9 459.1h3.5v3.5h-3.5zM150.7 459.1h3.5v3.5h-3.5zM223.1 459.1h3.5v3.5h-3.5zM134.9 462.2h3.5v3.5h-3.5zM153.8 462.2h3.5v3.5h-3.5zM185.3 462.2h3.5v3.5h-3.5zM229.4 462.2h3.5v3.5h-3.5zM84.5 465.4h3.5v3.5h-3.5zM116 465.4h3.5v3.5h-3.5zM197.9 465.4h3.5v3.5h-3.5zM71.9 468.5h3.5v3.5h-3.5zM84.5 468.5h3.5v3.5h-3.5zM116 468.5h3.5v3.5h-3.5zM122.3 468.5h3.5v3.5h-3.5zM175.9 468.5h3.5v3.5h-3.5zM191.6 468.5h3.5v3.5h-3.5zM226.3 468.5h3.5v3.5h-3.5zM84.5 471.7h3.5v3.5h-3.5zM90.8 471.7h3.5v3.5h-3.5zM197.9 471.7h3.5v3.5h-3.5zM207.4 471.7h3.5v3.5h-3.5zM229.4 471.7h3.5v3.5h-3.5zM68.8 474.8h3.5v3.5h-3.5zM68.8 478h3.5v3.5h-3.5zM87.7 478h3.5v3.5h-3.5zM94 478h3.5v3.5h-3.5zM100.3 478h3.5v3.5h-3.5zM147.5 478h3.5v3.5h-3.5zM197.9 478h3.5v3.5h-3.5zM238.9 478h3.5v3.5h-3.5zM116 481.1h3.5v3.5h-3.5zM213.7 481.1h3.5v3.5h-3.5zM71.9 484.3h3.5v3.5h-3.5zM87.7 484.3h3.5v3.5h-3.5zM100.3 484.3h3.5v3.5h-3.5zM122.3 484.3h3.5v3.5h-3.5zM213.7 484.3h3.5v3.5h-3.5zM75.1 487.4h3.5v3.5h-3.5zM97.1 487.4h3.5v3.5h-3.5zM109.7 487.4h3.5v3.5h-3.5zM153.8 487.4h3.5v3.5h-3.5zM238.9 487.4h3.5v3.5h-3.5zM71.9 490.6h3.5v3.5h-3.5zM81.4 490.6h6.7v3.5h-6.7zM94 490.6h3.5v3.5h-3.5zM147.5 490.6h6.7v3.5h-6.7zM172.7 490.6h3.5v3.5h-3.5zM191.6 490.6h3.5v3.5h-3.5zM78.2 493.7h6.7v3.5h-6.7zM112.9 493.7h9.8v3.5h-9.8zM131.8 493.7h3.5v3.5h-3.5zM138.1 493.7h3.5v3.5h-3.5zM150.7 493.7h3.5v3.5h-3.5zM160.1 493.7h3.5v3.5h-3.5zM197.9 493.7h3.5v3.5h-3.5zM242 493.7h3.5v3.5h-3.5zM71.9 496.9h3.5v3.5h-3.5zM97.1 496.9h3.5v3.5h-3.5zM116 496.9h6.7v3.5h-6.7zM179 496.9h3.5v3.5h-3.5zM235.7 496.9h3.5v3.5h-3.5zM245.2 496.9h3.5v3.5h-3.5zM94 500h3.5v3.5h-3.5zM112.9 500h3.5v3.5h-3.5zM147.5 500h13v3.5h-13zM169.6 500h3.5v3.5h-3.5zM179 500h3.5v3.5h-3.5zM194.8 500h3.5v3.5h-3.5zM226.3 500h3.5v3.5h-3.5zM235.7 500h3.5v3.5h-3.5zM71.9 503.2h3.5v3.5h-3.5zM87.7 503.2h3.5v3.5h-3.5zM125.5 503.2h3.5v3.5h-3.5zM172.7 503.2h3.5v3.5h-3.5zM210.5 503.2h3.5v3.5h-3.5zM84.5 506.3h6.7v3.5h-6.7zM94 506.3h3.5v3.5h-3.5zM153.8 506.3h3.5v3.5h-3.5zM191.6 506.3h3.5v3.5h-3.5zM223.1 506.3h3.5v3.5h-3.5zM103.4 509.5h3.5v3.5h-3.5zM112.9 509.5h3.5v3.5h-3.5zM147.5 509.5h3.5v3.5h-3.5zM153.8 509.5h3.5v3.5h-3.5zM191.6 509.5h6.7v3.5h-6.7zM106.6 512.6h3.5v3.5h-3.5zM141.2 512.6h3.5v3.5h-3.5zM157 512.6h3.5v3.5h-3.5zM185.3 512.6h3.5v3.5h-3.5zM223.1 512.6h3.5v3.5h-3.5zM229.4 512.6h6.7v3.5h-6.7zM78.2 515.8h3.5v3.5h-3.5zM144.4 515.8h6.7v3.5h-6.7zM153.8 515.8h3.5v3.5h-3.5zM207.4 515.8h3.5v3.5h-3.5zM216.8 515.8h3.5v3.5h-3.5zM229.4 515.8h6.7v3.5h-6.7zM112.9 518.9h3.5v3.5h-3.5zM119.2 518.9h3.5v3.5h-3.5zM169.6 518.9h3.5v3.5h-3.5zM201.1 518.9h3.5v3.5h-3.5zM220 518.9h3.5v3.5h-3.5zM229.4 518.9h3.5v3.5h-3.5zM87.7 522.1h3.5v3.5h-3.5zM119.2 525.2h3.5v3.5h-3.5zM131.8 525.2h3.5v3.5h-3.5zM138.1 525.2h3.5v3.5h-3.5zM144.4 525.2h3.5v3.5h-3.5zM163.3 525.2h3.5v3.5h-3.5zM172.7 525.2h6.7v3.5h-6.7zM182.2 525.2h3.5v3.5h-3.5zM188.5 525.2h3.5v3.5h-3.5zM207.4 525.2h3.5v3.5h-3.5zM94 528.4h3.5v3.5h-3.5zM100.3 528.4h6.7v3.5h-6.7zM125.5 528.4h6.7v3.5h-6.7zM144.4 528.4h6.7v3.5h-6.7zM175.9 528.4h3.5v3.5h-3.5zM220 528.4h3.5v3.5h-3.5zM138.1 531.5h9.8v3.5h-9.8zM163.3 531.5h3.5v3.5h-3.5zM216.8 531.5h3.5v3.5h-3.5zM112.9 534.7h3.5v3.5h-3.5zM153.8 534.7h3.5v3.5h-3.5zM163.3 534.7h3.5v3.5h-3.5zM169.6 534.7h3.5v3.5h-3.5zM188.5 534.7h3.5v3.5h-3.5zM204.2 534.7h3.5v3.5h-3.5zM210.5 534.7h3.5v3.5h-3.5zM223.1 534.7h3.5v3.5h-3.5zM103.4 537.8h3.5v3.5h-3.5zM112.9 537.8h3.5v3.5h-3.5zM119.2 537.8h6.7v3.5h-6.7zM138.1 537.8h3.5v3.5h-3.5zM216.8 537.8h3.5v3.5h-3.5zM97.1 541h3.5v3.5h-3.5zM147.5 541h19.3v3.5h-19.3zM172.7 541h3.5v3.5h-3.5zM182.2 541h9.8v3.5h-9.8zM201.1 541h3.5v3.5h-3.5zM207.4 541h6.7v3.5h-6.7zM100.3 544.1h3.5v3.5h-3.5zM169.6 544.1h3.5v3.5h-3.5zM197.9 544.1h6.7v3.5h-6.7zM213.7 544.1h3.5v3.5h-3.5zM116 547.3h3.5v3.5h-3.5zM125.5 547.3h3.5v3.5h-3.5zM153.8 547.3h3.5v3.5h-3.5zM163.3 547.3h3.5v3.5h-3.5zM172.7 547.3h3.5v3.5h-3.5zM179 547.3h3.5v3.5h-3.5zM147.5 550.4h3.5v3.5h-3.5zM169.6 550.4h6.7v3.5h-6.7zM182.2 550.4h3.5v3.5h-3.5zM188.5 550.4h3.5v3.5h-3.5zM201.1 550.4h3.5v3.5h-3.5zM138.1 553.6h3.5v3.5h-3.5zM134.9 556.7h3.5v3.5h-3.5zM141.2 556.7h3.5v3.5h-3.5zM163.3 556.7h6.7v3.5h-6.7zM185.3 556.7h3.5v3.5h-3.5zM138.1 559.9h3.5v3.5h-3.5zM150.7 559.9h3.5v3.5h-3.5z"/>
<path fill="#a8e098" d="M150.7 377.2h3.5v3.5h-3.5zM144.4 389.8h3.5v3.5h-3.5zM166.4 389.8h3.5v3.5h-3.5zM106.6 392.9h3.5v3.5h-3.5zM112.9 392.9h3.5v3.5h-3.5zM134.9 392.9h3.5v3.5h-3.5zM201.1 392.9h3.5v3.5h-3.5zM134.9 396.1h3.5v3.5h-3.5zM188.5 396.1h3.5v3.5h-3.5zM172.7 402.4h3.5v3.5h-3.5zM169.6 405.5h3.5v3.5h-3.5zM109.7 408.7h3.5v3.5h-3.5zM119.2 411.8h3.5v3.5h-3.5zM188.5 411.8h3.5v3.5h-3.5zM128.6 418.1h3.5v3.5h-3.5zM163.3 418.1h3.5v3.5h-3.5zM191.6 418.1h3.5v3.5h-3.5zM163.3 424.4h3.5v3.5h-3.5zM71.9 427.6h3.5v3.5h-3.5zM84.5 427.6h3.5v3.5h-3.5zM207.4 427.6h3.5v3.5h-3.5zM216.8 427.6h3.5v3.5h-3.5zM103.4 437h3.5v3.5h-3.5zM138.1 440.2h3.5v3.5h-3.5zM157 440.2h3.5v3.5h-3.5zM75.1 443.3h3.5v3.5h-3.5zM103.4 443.3h3.5v3.5h-3.5zM75.1 446.5h3.5v3.5h-3.5zM147.5 446.5h3.5v3.5h-3.5zM172.7 446.5h3.5v3.5h-3.5zM220 446.5h3.5v3.5h-3.5zM160.1 449.6h3.5v3.5h-3.5zM213.7 449.6h3.5v3.5h-3.5zM100.3 452.8h3.5v3.5h-3.5zM182.2 459.1h3.5v3.5h-3.5zM204.2 459.1h3.5v3.5h-3.5zM125.5 462.2h3.5v3.5h-3.5zM201.1 462.2h3.5v3.5h-3.5zM235.7 462.2h3.5v3.5h-3.5zM238.9 465.4h3.5v3.5h-3.5zM62.5 468.5h3.5v3.5h-3.5zM119.2 468.5h3.5v3.5h-3.5zM138.1 471.7h3.5v3.5h-3.5zM226.3 471.7h3.5v3.5h-3.5zM71.9 474.8h3.5v3.5h-3.5zM157 474.8h3.5v3.5h-3.5zM94 484.3h3.5v3.5h-3.5zM68.8 487.4h3.5v3.5h-3.5zM81.4 487.4h3.5v3.5h-3.5zM90.8 487.4h3.5v3.5h-3.5zM125.5 490.6h3.5v3.5h-3.5zM220 490.6h3.5v3.5h-3.5zM109.7 493.7h3.5v3.5h-3.5zM220 496.9h3.5v3.5h-3.5zM207.4 500h3.5v3.5h-3.5zM182.2 503.2h3.5v3.5h-3.5zM81.4 509.5h3.5v3.5h-3.5zM134.9 509.5h3.5v3.5h-3.5zM97.1 515.8h3.5v3.5h-3.5zM131.8 515.8h3.5v3.5h-3.5zM157 515.8h3.5v3.5h-3.5zM84.5 518.9h3.5v3.5h-3.5zM147.5 518.9h3.5v3.5h-3.5zM153.8 518.9h3.5v3.5h-3.5zM182.2 518.9h3.5v3.5h-3.5zM150.7 522.1h3.5v3.5h-3.5zM172.7 522.1h3.5v3.5h-3.5zM207.4 528.4h3.5v3.5h-3.5zM134.9 531.5h3.5v3.5h-3.5zM169.6 531.5h3.5v3.5h-3.5zM172.7 534.7h3.5v3.5h-3.5zM185.3 534.7h3.5v3.5h-3.5zM144.4 537.8h3.5v3.5h-3.5zM160.1 537.8h3.5v3.5h-3.5zM128.6 547.3h3.5v3.5h-3.5zM150.7 547.3h3.5v3.5h-3.5zM112.9 550.4h3.5v3.5h-3.5zM166.4 550.4h3.5v3.5h-3.5z"/>
<path fill="#d87a40" d="M175.9 377.2h3.5v3.5h-3.5zM179 380.3h3.5v3.5h-3.5zM144.4 383.5h3.5v3.5h-3.5zM160.1 386.6h3.5v3.5h-3.5zM185.3 389.8h6.7v3.5h-6.7zM185.3 399.2h3.5v3.5h-3.5zM204.2 399.2h3.5v3.5h-3.5zM122.3 402.4h3.5v3.5h-3.5zM144.4 402.4h3.5v3.5h-3.5zM97.1 405.5h3.5v3.5h-3.5zM94 408.7h3.5v3.5h-3.5zM210.5 408.7h3.5v3.5h-3.5zM103.4 411.8h3.5v3.5h-3.5zM131.8 411.8h3.5v3.5h-3.5zM166.4 411.8h3.5v3.5h-3.5zM226.3 411.8h3.5v3.5h-3.5zM94 415h3.5v3.5h-3.5zM100.3 415h3.5v3.5h-3.5zM191.6 415h3.5v3.5h-3.5zM210.5 415h3.5v3.5h-3.5zM220 415h3.5v3.5h-3.5zM103.4 418.1h3.5v3.5h-3.5zM131.8 418.1h3.5v3.5h-3.5zM147.5 418.1h3.5v3.5h-3.5zM229.4 418.1h3.5v3.5h-3.5zM78.2 421.3h3.5v3.5h-3.5zM97.1 421.3h3.5v3.5h-3.5zM125.5 421.3h3.5v3.5h-3.5zM163.3 421.3h3.5v3.5h-3.5zM210.5 421.3h3.5v3.5h-3.5zM90.8 424.4h3.5v3.5h-3.5zM122.3 424.4h3.5v3.5h-3.5zM81.4 427.6h3.5v3.5h-3.5zM90.8 427.6h3.5v3.5h-3.5zM116 427.6h3.5v3.5h-3.5zM125.5 427.6h3.5v3.5h-3.5zM169.6 427.6h3.5v3.5h-3.5zM229.4 427.6h3.5v3.5h-3.5zM235.7 427.6h3.5v3.5h-3.5zM175.9 430.7h3.5v3.5h-3.5zM216.8 430.7h6.7v3.5h-6.7zM81.4 433.9h3.5v3.5h-3.5zM188.5 433.9h3.5v3.5h-3.5zM122.3 437h3.5v3.5h-3.5zM147.5 437h3.5v3.5h-3.5zM160.1 437h3.5v3.5h-3.5zM188.5 437h3.5v3.5h-3.5zM116 440.2h3.5v3.5h-3.5zM194.8 440.2h3.5v3.5h-3.5zM201.1 440.2h3.5v3.5h-3.5zM207.4 440.2h3.5v3.5h-3.5zM216.8 440.2h3.5v3.5h-3.5zM232.6 440.2h3.5v3.5h-3.5zM153.8 443.3h3.5v3.5h-3.5zM245.2 443.3h3.5v3.5h-3.5zM157 446.5h3.5v3.5h-3.5zM201.1 446.5h3.5v3.5h-3.5zM207.4 446.5h3.5v3.5h-3.5zM103.4 449.6h3.5v3.5h-3.5zM223.1 449.6h3.5v3.5h-3.5zM122.3 452.8h3.5v3.5h-3.5zM204.2 452.8h3.5v3.5h-3.5zM122.3 455.9h3.5v3.5h-3.5zM153.8 455.9h3.5v3.5h-3.5zM191.6 455.9h3.5v3.5h-3.5zM220 455.9h9.8v3.5h-9.8zM248.3 455.9h3.5v3.5h-3.5zM65.6 459.1h6.7v3.5h-6.7zM75.1 459.1h3.5v3.5h-3.5zM201.1 459.1h3.5v3.5h-3.5zM138.1 462.2h3.5v3.5h-3.5zM216.8 462.2h3.5v3.5h-3.5zM188.5 465.4h3.5v3.5h-3.5zM194.8 465.4h3.5v3.5h-3.5zM229.4 465.4h3.5v3.5h-3.5zM90.8 468.5h3.5v3.5h-3.5zM134.9 468.5h6.7v3.5h-6.7zM242 468.5h3.5v3.5h-3.5zM78.2 471.7h3.5v3.5h-3.5zM248.3 471.7h3.5v3.5h-3.5zM223.1 474.8h3.5v3.5h-3.5zM235.7 478h3.5v3.5h-3.5zM81.4 481.1h3.5v3.5h-3.5zM144.4 484.3h3.5v3.5h-3.5zM235.7 484.3h3.5v3.5h-3.5zM175.9 487.4h3.5v3.5h-3.5zM223.1 487.4h6.7v3.5h-6.7zM245.2 487.4h3.5v3.5h-3.5zM109.7 490.6h3.5v3.5h-3.5zM128.6 490.6h3.5v3.5h-3.5zM144.4 490.6h3.5v3.5h-3.5zM166.4 490.6h3.5v3.5h-3.5zM235.7 490.6h3.5v3.5h-3.5zM245.2 490.6h3.5v3.5h-3.5zM68.8 493.7h3.5v3.5h-3.5zM94 493.7h3.5v3.5h-3.5zM128.6 493.7h3.5v3.5h-3.5zM220 493.7h3.5v3.5h-3.5zM229.4 493.7h3.5v3.5h-3.5zM78.2 496.9h3.5v3.5h-3.5zM103.4 496.9h3.5v3.5h-3.5zM122.3 496.9h3.5v3.5h-3.5zM182.2 496.9h3.5v3.5h-3.5zM213.7 496.9h3.5v3.5h-3.5zM229.4 496.9h3.5v3.5h-3.5zM125.5 500h3.5v3.5h-3.5zM172.7 500h3.5v3.5h-3.5zM188.5 500h3.5v3.5h-3.5zM157 503.2h3.5v3.5h-3.5zM201.1 503.2h3.5v3.5h-3.5zM223.1 503.2h3.5v3.5h-3.5zM229.4 503.2h3.5v3.5h-3.5zM112.9 506.3h3.5v3.5h-3.5zM150.7 506.3h3.5v3.5h-3.5zM166.4 506.3h3.5v3.5h-3.5zM185.3 506.3h3.5v3.5h-3.5zM207.4 509.5h6.7v3.5h-6.7zM160.1 512.6h3.5v3.5h-3.5zM87.7 515.8h3.5v3.5h-3.5zM109.7 515.8h3.5v3.5h-3.5zM141.2 515.8h3.5v3.5h-3.5zM125.5 518.9h3.5v3.5h-3.5zM166.4 518.9h3.5v3.5h-3.5zM134.9 522.1h3.5v3.5h-3.5zM175.9 522.1h3.5v3.5h-3.5zM213.7 522.1h3.5v3.5h-3.5zM103.4 525.2h3.5v3.5h-3.5zM112.9 525.2h3.5v3.5h-3.5zM169.6 525.2h3.5v3.5h-3.5zM97.1 528.4h3.5v3.5h-3.5zM216.8 528.4h3.5v3.5h-3.5zM112.9 531.5h6.7v3.5h-6.7zM204.2 531.5h3.5v3.5h-3.5zM141.2 534.7h3.5v3.5h-3.5zM147.5 534.7h3.5v3.5h-3.5zM182.2 534.7h3.5v3.5h-3.5zM191.6 534.7h6.7v3.5h-6.7zM201.1 534.7h3.5v3.5h-3.5zM213.7 534.7h3.5v3.5h-3.5zM131.8 537.8h3.5v3.5h-3.5zM220 537.8h3.5v3.5h-3.5zM141.2 541h3.5v3.5h-3.5zM179 541h3.5v3.5h-3.5zM216.8 541h3.5v3.5h-3.5zM109.7 544.1h3.5v3.5h-3.5zM207.4 544.1h3.5v3.5h-3.5zM106.6 547.3h3.5v3.5h-3.5zM188.5 547.3h3.5v3.5h-3.5zM197.9 550.4h3.5v3.5h-3.5zM185.3 553.6h3.5v3.5h-3.5zM172.7 556.7h3.5v3.5h-3.5zM182.2 556.7h3.5v3.5h-3.5zM166.4 559.9h3.5v3.5h-3.5zM157 563h3.5v3.5h-3.5z"/>
<path fill="#1838e8" d="M179 377.2h3.5v3.5h-3.5zM125.5 380.3h3.5v3.5h-3.5zM175.9 380.3h3.5v3.5h-3.5zM163.3 383.5h3.5v3.5h-3.5zM175.9 386.6h3.5v3.5h-3.5zM163.3 389.8h3.5v3.5h-3.5zM169.6 389.8h3.5v3.5h-3.5zM179 389.8h6.7v3.5h-6.7zM191.6 389.8h3.5v3.5h-3.5zM204.2 389.8h3.5v3.5h-3.5zM147.5 392.9h3.5v3.5h-3.5zM204.2 392.9h3.5v3.5h-3.5zM179 396.1h3.5v3.5h-3.5zM191.6 396.1h3.5v3.5h-3.5zM153.8 399.2h3.5v3.5h-3.5zM160.1 399.2h3.5v3.5h-3.5zM179 399.2h3.5v3.5h-3.5zM188.5 399.2h3.5v3.5h-3.5zM220 399.2h3.5v3.5h-3.5zM125.5 402.4h3.5v3.5h-3.5zM160.1 402.4h3.5v3.5h-3.5zM175.9 402.4h9.8v3.5h-9.8zM185.3 405.5h3.5v3.5h-3.5zM90.8 408.7h3.5v3.5h-3.5zM179 408.7h3.5v3.5h-3.5zM213.7 408.7h3.5v3.5h-3.5zM194.8 411.8h3.5v3.5h-3.5zM175.9 418.1h3.5v3.5h-3.5zM172.7 421.3h3.5v3.5h-3.5zM201.1 433.9h3.5v3.5h-3.5zM169.6 437h3.5v3.5h-3.5zM68.8 440.2h6.7v3.5h-6.7zM94 440.2h3.5v3.5h-3.5zM97.1 443.3h3.5v3.5h-3.5zM213.7 446.5h3.5v3.5h-3.5zM75.1 449.6h9.8v3.5h-9.8zM106.6 449.6h3.5v3.5h-3.5zM169.6 449.6h3.5v3.5h-3.5zM84.5 452.8h3.5v3.5h-3.5zM90.8 452.8h3.5v3.5h-3.5zM109.7 452.8h13v3.5h-13zM172.7 452.8h3.5v3.5h-3.5zM248.3 452.8h3.5v3.5h-3.5zM71.9 455.9h3.5v3.5h-3.5zM78.2 455.9h3.5v3.5h-3.5zM90.8 455.9h3.5v3.5h-3.5zM97.1 455.9h3.5v3.5h-3.5zM112.9 455.9h3.5v3.5h-3.5zM119.2 455.9h3.5v3.5h-3.5zM163.3 455.9h3.5v3.5h-3.5zM78.2 459.1h3.5v3.5h-3.5zM87.7 459.1h3.5v3.5h-3.5zM103.4 459.1h6.7v3.5h-6.7zM119.2 459.1h3.5v3.5h-3.5zM131.8 459.1h3.5v3.5h-3.5zM160.1 459.1h3.5v3.5h-3.5zM166.4 459.1h3.5v3.5h-3.5zM87.7 462.2h3.5v3.5h-3.5zM119.2 462.2h3.5v3.5h-3.5zM179 462.2h3.5v3.5h-3.5zM97.1 465.4h3.5v3.5h-3.5zM109.7 465.4h3.5v3.5h-3.5zM131.8 465.4h6.7v3.5h-6.7zM141.2 465.4h6.7v3.5h-6.7zM150.7 465.4h6.7v3.5h-6.7zM163.3 465.4h3.5v3.5h-3.5zM182.2 465.4h3.5v3.5h-3.5zM201.1 465.4h3.5v3.5h-3.5zM100.3 468.5h3.5v3.5h-3.5zM106.6 468.5h3.5v3.5h-3.5zM128.6 468.5h6.7v3.5h-6.7zM141.2 468.5h3.5v3.5h-3.5zM153.8 468.5h3.5v3.5h-3.5zM182.2 468.5h9.8v3.5h-9.8zM207.4 468.5h3.5v3.5h-3.5zM245.2 468.5h3.5v3.5h-3.5zM100.3 471.7h3.5v3.5h-3.5zM109.7 471.7h3.5v3.5h-3.5zM122.3 471.7h3.5v3.5h-3.5zM128.6 471.7h3.5v3.5h-3.5zM141.2 471.7h3.5v3.5h-3.5zM153.8 471.7h3.5v3.5h-3.5zM163.3 471.7h6.7v3.5h-6.7zM182.2 471.7h3.5v3.5h-3.5zM213.7 471.7h3.5v3.5h-3.5zM119.2 474.8h9.8v3.5h-9.8zM131.8 474.8h3.5v3.5h-3.5zM153.8 474.8h3.5v3.5h-3.5zM166.4 474.8h13v3.5h-13zM197.9 474.8h9.8v3.5h-9.8zM220 474.8h3.5v3.5h-3.5zM226.3 474.8h3.5v3.5h-3.5zM235.7 474.8h3.5v3.5h-3.5zM248.3 474.8h3.5v3.5h-3.5zM128.6 478h3.5v3.5h-3.5zM134.9 478h3.5v3.5h-3.5zM141.2 478h6.7v3.5h-6.7zM160.1 478h3.5v3.5h-3.5zM166.4 478h3.5v3.5h-3.5zM179 478h6.7v3.5h-6.7zM207.4 478h3.5v3.5h-3.5zM216.8 478h6.7v3.5h-6.7zM128.6 481.1h6.7v3.5h-6.7zM147.5 481.1h3.5v3.5h-3.5zM157 481.1h3.5v3.5h-3.5zM163.3 481.1h3.5v3.5h-3.5zM179 481.1h3.5v3.5h-3.5zM188.5 481.1h3.5v3.5h-3.5zM210.5 481.1h3.5v3.5h-3.5zM232.6 481.1h3.5v3.5h-3.5zM242 481.1h3.5v3.5h-3.5zM248.3 481.1h3.5v3.5h-3.5zM134.9 484.3h3.5v3.5h-3.5zM141.2 484.3h3.5v3.5h-3.5zM147.5 484.3h3.5v3.5h-3.5zM157 484.3h16.1v3.5h-16.1zM175.9 484.3h3.5v3.5h-3.5zM185.3 484.3h3.5v3.5h-3.5zM201.1 484.3h3.5v3.5h-3.5zM245.2 484.3h3.5v3.5h-3.5zM147.5 487.4h3.5v3.5h-3.5zM172.7 487.4h3.5v3.5h-3.5zM201.1 487.4h3.5v3.5h-3.5zM220 487.4h3.5v3.5h-3.5zM232.6 487.4h6.7v3.5h-6.7zM242 487.4h3.5v3.5h-3.5zM169.6 490.6h3.5v3.5h-3.5zM175.9 490.6h6.7v3.5h-6.7zM194.8 490.6h3.5v3.5h-3.5zM201.1 490.6h3.5v3.5h-3.5zM207.4 490.6h3.5v3.5h-3.5zM232.6 490.6h3.5v3.5h-3.5zM242 490.6h3.5v3.5h-3.5zM163.3 493.7h3.5v3.5h-3.5zM201.1 493.7h3.5v3.5h-3.5zM68.8 500h3.5v3.5h-3.5zM109.7 503.2h3.5v3.5h-3.5zM232.6 503.2h3.5v3.5h-3.5zM179 512.6h3.5v3.5h-3.5zM207.4 512.6h3.5v3.5h-3.5zM138.1 515.8h3.5v3.5h-3.5zM166.4 534.7h3.5v3.5h-3.5zM185.3 550.4h3.5v3.5h-3.5z"/>
<path fill="#000880" d="M128.6 380.3h3.5v3.5h-3.5zM157 380.3h3.5v3.5h-3.5zM125.5 383.5h3.5v3.5h-3.5zM134.9 383.5h3.5v3.5h-3.5zM179 383.5h9.8v3.5h-9.8zM191.6 383.5h3.5v3.5h-3.5zM116 386.6h3.5v3.5h-3.5zM134.9 386.6h6.7v3.5h-6.7zM144.4 386.6h3.5v3.5h-3.5zM166.4 386.6h3.5v3.5h-3.5zM172.7 386.6h3.5v3.5h-3.5zM185.3 386.6h6.7v3.5h-6.7zM201.1 386.6h3.5v3.5h-3.5zM119.2 389.8h3.5v3.5h-3.5zM157 389.8h3.5v3.5h-3.5zM160.1 392.9h3.5v3.5h-3.5zM185.3 392.9h3.5v3.5h-3.5zM191.6 392.9h3.5v3.5h-3.5zM141.2 396.1h3.5v3.5h-3.5zM153.8 396.1h6.7v3.5h-6.7zM197.9 396.1h6.7v3.5h-6.7zM210.5 396.1h3.5v3.5h-3.5zM106.6 399.2h3.5v3.5h-3.5zM116 399.2h3.5v3.5h-3.5zM122.3 399.2h6.7v3.5h-6.7zM147.5 399.2h3.5v3.5h-3.5zM163.3 399.2h6.7v3.5h-6.7zM172.7 399.2h3.5v3.5h-3.5zM191.6 399.2h3.5v3.5h-3.5zM112.9 402.4h3.5v3.5h-3.5zM141.2 402.4h3.5v3.5h-3.5zM169.6 402.4h3.5v3.5h-3.5zM188.5 402.4h3.5v3.5h-3.5zM220 402.4h3.5v3.5h-3.5zM109.7 405.5h3.5v3.5h-3.5zM144.4 405.5h6.7v3.5h-6.7zM153.8 405.5h3.5v3.5h-3.5zM216.8 405.5h3.5v3.5h-3.5zM84.5 408.7h3.5v3.5h-3.5zM100.3 408.7h3.5v3.5h-3.5zM119.2 408.7h3.5v3.5h-3.5zM147.5 408.7h3.5v3.5h-3.5zM172.7 408.7h3.5v3.5h-3.5zM182.2 408.7h3.5v3.5h-3.5zM201.1 408.7h3.5v3.5h-3.5zM216.8 408.7h3.5v3.5h-3.5zM84.5 411.8h3.5v3.5h-3.5zM112.9 411.8h3.5v3.5h-3.5zM125.5 411.8h6.7v3.5h-6.7zM147.5 411.8h3.5v3.5h-3.5zM197.9 411.8h3.5v3.5h-3.5zM106.6 415h3.5v3.5h-3.5zM131.8 415h3.5v3.5h-3.5zM160.1 415h3.5v3.5h-3.5zM188.5 415h3.5v3.5h-3.5zM194.8 415h3.5v3.5h-3.5zM201.1 415h3.5v3.5h-3.5zM112.9 418.1h3.5v3.5h-3.5zM81.4 421.3h3.5v3.5h-3.5zM84.5 424.4h3.5v3.5h-3.5zM109.7 424.4h3.5v3.5h-3.5zM141.2 424.4h3.5v3.5h-3.5zM147.5 424.4h3.5v3.5h-3.5zM166.4 424.4h3.5v3.5h-3.5zM204.2 424.4h6.7v3.5h-6.7zM232.6 424.4h3.5v3.5h-3.5zM141.2 427.6h3.5v3.5h-3.5zM197.9 427.6h6.7v3.5h-6.7zM75.1 430.7h6.7v3.5h-6.7zM103.4 430.7h3.5v3.5h-3.5zM109.7 430.7h3.5v3.5h-3.5zM90.8 433.9h3.5v3.5h-3.5zM213.7 433.9h3.5v3.5h-3.5zM242 433.9h3.5v3.5h-3.5zM84.5 437h6.7v3.5h-6.7zM119.2 437h3.5v3.5h-3.5zM150.7 437h3.5v3.5h-3.5zM175.9 437h3.5v3.5h-3.5zM75.1 440.2h3.5v3.5h-3.5zM100.3 440.2h6.7v3.5h-6.7zM188.5 440.2h3.5v3.5h-3.5zM226.3 440.2h6.7v3.5h-6.7zM87.7 443.3h3.5v3.5h-3.5zM172.7 443.3h3.5v3.5h-3.5zM207.4 443.3h3.5v3.5h-3.5zM226.3 443.3h3.5v3.5h-3.5zM81.4 446.5h3.5v3.5h-3.5zM87.7 446.5h6.7v3.5h-6.7zM106.6 446.5h3.5v3.5h-3.5zM141.2 446.5h3.5v3.5h-3.5zM188.5 446.5h3.5v3.5h-3.5zM248.3 446.5h3.5v3.5h-3.5zM65.6 449.6h6.7v3.5h-6.7zM84.5 449.6h3.5v3.5h-3.5zM90.8 449.6h6.7v3.5h-6.7zM116 449.6h6.7v3.5h-6.7zM153.8 449.6h3.5v3.5h-3.5zM65.6 452.8h3.5v3.5h-3.5zM94 452.8h6.7v3.5h-6.7zM134.9 452.8h3.5v3.5h-3.5zM182.2 452.8h3.5v3.5h-3.5zM68.8 455.9h3.5v3.5h-3.5zM84.5 455.9h6.7v3.5h-6.7zM109.7 455.9h3.5v3.5h-3.5zM131.8 455.9h3.5v3.5h-3.5zM138.1 455.9h9.8v3.5h-9.8zM160.1 455.9h3.5v3.5h-3.5zM188.5 455.9h3.5v3.5h-3.5zM207.4 455.9h3.5v3.5h-3.5zM84.5 459.1h3.5v3.5h-3.5zM94 459.1h3.5v3.5h-3.5zM100.3 459.1h3.5v3.5h-3.5zM116 459.1h3.5v3.5h-3.5zM128.6 459.1h3.5v3.5h-3.5zM138.1 459.1h3.5v3.5h-3.5zM175.9 459.1h6.7v3.5h-6.7zM191.6 459.1h6.7v3.5h-6.7zM229.4 459.1h3.5v3.5h-3.5zM97.1 462.2h3.5v3.5h-3.5zM103.4 462.2h3.5v3.5h-3.5zM109.7 462.2h6.7v3.5h-6.7zM141.2 462.2h3.5v3.5h-3.5zM188.5 462.2h3.5v3.5h-3.5zM210.5 462.2h3.5v3.5h-3.5zM81.4 465.4h3.5v3.5h-3.5zM119.2 465.4h3.5v3.5h-3.5zM125.5 465.4h6.7v3.5h-6.7zM147.5 465.4h3.5v3.5h-3.5zM157 465.4h6.7v3.5h-6.7zM175.9 465.4h6.7v3.5h-6.7zM216.8 465.4h3.5v3.5h-3.5zM235.7 465.4h3.5v3.5h-3.5zM242 465.4h3.5v3.5h-3.5zM87.7 468.5h3.5v3.5h-3.5zM125.5 468.5h3.5v3.5h-3.5zM147.5 468.5h6.7v3.5h-6.7zM169.6 468.5h3.5v3.5h-3.5zM232.6 468.5h3.5v3.5h-3.5zM248.3 468.5h3.5v3.5h-3.5zM65.6 471.7h3.5v3.5h-3.5zM103.4 471.7h6.7v3.5h-6.7zM131.8 471.7h3.5v3.5h-3.5zM144.4 471.7h3.5v3.5h-3.5zM150.7 471.7h3.5v3.5h-3.5zM160.1 471.7h3.5v3.5h-3.5zM194.8 471.7h3.5v3.5h-3.5zM238.9 471.7h3.5v3.5h-3.5zM90.8 474.8h3.5v3.5h-3.5zM100.3 474.8h3.5v3.5h-3.5zM109.7 474.8h3.5v3.5h-3.5zM134.9 474.8h3.5v3.5h-3.5zM141.2 474.8h3.5v3.5h-3.5zM179 474.8h6.7v3.5h-6.7zM207.4 474.8h3.5v3.5h-3.5zM213.7 474.8h3.5v3.5h-3.5zM103.4 478h3.5v3.5h-3.5zM116 478h3.5v3.5h-3.5zM131.8 478h3.5v3.5h-3.5zM169.6 478h6.7v3.5h-6.7zM188.5 478h3.5v3.5h-3.5zM194.8 478h3.5v3.5h-3.5zM201.1 478h3.5v3.5h-3.5zM106.6 481.1h3.5v3.5h-3.5zM119.2 481.1h3.5v3.5h-3.5zM144.4 481.1h3.5v3.5h-3.5zM166.4 481.1h3.5v3.5h-3.5zM197.9 481.1h9.8v3.5h-9.8zM216.8 481.1h3.5v3.5h-3.5zM226.3 481.1h3.5v3.5h-3.5zM84.5 484.3h3.5v3.5h-3.5zM153.8 484.3h3.5v3.5h-3.5zM182.2 484.3h3.5v3.5h-3.5zM188.5 484.3h6.7v3.5h-6.7zM197.9 484.3h3.5v3.5h-3.5zM204.2 484.3h3.5v3.5h-3.5zM238.9 484.3h3.5v3.5h-3.5zM65.6 487.4h3.5v3.5h-3.5zM128.6 487.4h3.5v3.5h-3.5zM179 487.4h6.7v3.5h-6.7zM112.9 490.6h3.5v3.5h-3.5zM122.3 490.6h3.5v3.5h-3.5zM134.9 490.6h6.7v3.5h-6.7zM103.4 493.7h3.5v3.5h-3.5zM141.2 493.7h3.5v3.5h-3.5zM182.2 493.7h3.5v3.5h-3.5zM216.8 493.7h3.5v3.5h-3.5zM226.3 493.7h3.5v3.5h-3.5zM232.6 493.7h3.5v3.5h-3.5zM125.5 496.9h3.5v3.5h-3.5zM157 496.9h3.5v3.5h-3.5zM169.6 496.9h3.5v3.5h-3.5zM207.4 496.9h3.5v3.5h-3.5zM119.2 500h3.5v3.5h-3.5zM144.4 500h3.5v3.5h-3.5zM220 500h6.7v3.5h-6.7zM119.2 503.2h3.5v3.5h-3.5zM166.4 503.2h3.5v3.5h-3.5zM220 503.2h3.5v3.5h-3.5zM128.6 506.3h3.5v3.5h-3.5zM179 506.3h3.5v3.5h-3.5zM235.7 506.3h6.7v3.5h-6.7zM125.5 509.5h3.5v3.5h-3.5zM185.3 509.5h3.5v3.5h-3.5zM223.1 509.5h3.5v3.5h-3.5zM232.6 509.5h3.5v3.5h-3.5zM235.7 512.6h3.5v3.5h-3.5zM90.8 515.8h3.5v3.5h-3.5zM116 515.8h3.5v3.5h-3.5zM213.7 515.8h3.5v3.5h-3.5zM235.7 515.8h3.5v3.5h-3.5zM109.7 518.9h3.5v3.5h-3.5zM191.6 518.9h3.5v3.5h-3.5zM223.1 518.9h3.5v3.5h-3.5zM84.5 522.1h3.5v3.5h-3.5zM128.6 522.1h3.5v3.5h-3.5zM163.3 522.1h3.5v3.5h-3.5zM169.6 522.1h3.5v3.5h-3.5zM119.2 528.4h3.5v3.5h-3.5zM131.8 528.4h3.5v3.5h-3.5zM179 528.4h3.5v3.5h-3.5zM207.4 531.5h3.5v3.5h-3.5zM226.3 531.5h3.5v3.5h-3.5zM197.9 534.7h3.5v3.5h-3.5zM220 534.7h3.5v3.5h-3.5zM100.3 537.8h3.5v3.5h-3.5zM201.1 537.8h3.5v3.5h-3.5zM204.2 541h3.5v3.5h-3.5zM204.2 544.1h3.5v3.5h-3.5zM109.7 547.3h3.5v3.5h-3.5zM134.9 547.3h3.5v3.5h-3.5zM134.9 550.4h3.5v3.5h-3.5zM141.2 553.6h6.7v3.5h-6.7zM160.1 553.6h3.5v3.5h-3.5zM179 553.6h3.5v3.5h-3.5zM157 556.7h3.5v3.5h-3.5zM153.8 559.9h3.5v3.5h-3.5z"/>
<path fill="#2858d8" d="M185.3 380.3h6.7v3.5h-6.7zM160.1 383.5h3.5v3.5h-3.5zM150.7 386.6h3.5v3.5h-3.5zM172.7 389.8h3.5v3.5h-3.5zM153.8 392.9h3.5v3.5h-3.5zM182.2 392.9h3.5v3.5h-3.5zM194.8 392.9h3.5v3.5h-3.5zM138.1 396.1h3.5v3.5h-3.5zM185.3 396.1h3.5v3.5h-3.5zM131.8 405.5h3.5v3.5h-3.5zM175.9 405.5h3.5v3.5h-3.5zM175.9 408.7h3.5v3.5h-3.5zM150.7 411.8h3.5v3.5h-3.5zM182.2 411.8h3.5v3.5h-3.5zM210.5 411.8h3.5v3.5h-3.5zM232.6 411.8h3.5v3.5h-3.5zM235.7 418.1h3.5v3.5h-3.5zM216.8 424.4h3.5v3.5h-3.5zM116 430.7h3.5v3.5h-3.5zM68.8 437h3.5v3.5h-3.5zM78.2 437h3.5v3.5h-3.5zM191.6 437h3.5v3.5h-3.5zM144.4 440.2h3.5v3.5h-3.5zM185.3 440.2h3.5v3.5h-3.5zM242 440.2h3.5v3.5h-3.5zM84.5 443.3h3.5v3.5h-3.5zM90.8 443.3h3.5v3.5h-3.5zM65.6 446.5h3.5v3.5h-3.5zM122.3 446.5h3.5v3.5h-3.5zM150.7 446.5h3.5v3.5h-3.5zM197.9 446.5h3.5v3.5h-3.5zM125.5 449.6h3.5v3.5h-3.5zM71.9 452.8h3.5v3.5h-3.5zM78.2 452.8h3.5v3.5h-3.5zM157 452.8h3.5v3.5h-3.5zM213.7 452.8h3.5v3.5h-3.5zM106.6 455.9h3.5v3.5h-3.5zM125.5 455.9h3.5v3.5h-3.5zM235.7 455.9h3.5v3.5h-3.5zM81.4 459.1h3.5v3.5h-3.5zM97.1 459.1h3.5v3.5h-3.5zM141.2 459.1h6.7v3.5h-6.7zM65.6 462.2h3.5v3.5h-3.5zM78.2 462.2h3.5v3.5h-3.5zM94 462.2h3.5v3.5h-3.5zM131.8 462.2h3.5v3.5h-3.5zM144.4 462.2h3.5v3.5h-3.5zM226.3 462.2h3.5v3.5h-3.5zM242 462.2h3.5v3.5h-3.5zM166.4 465.4h3.5v3.5h-3.5zM210.5 465.4h3.5v3.5h-3.5zM163.3 468.5h3.5v3.5h-3.5zM172.7 468.5h3.5v3.5h-3.5zM204.2 468.5h3.5v3.5h-3.5zM94 471.7h3.5v3.5h-3.5zM112.9 471.7h3.5v3.5h-3.5zM147.5 471.7h3.5v3.5h-3.5zM175.9 471.7h3.5v3.5h-3.5zM185.3 471.7h3.5v3.5h-3.5zM201.1 471.7h3.5v3.5h-3.5zM210.5 471.7h3.5v3.5h-3.5zM163.3 474.8h3.5v3.5h-3.5zM185.3 474.8h3.5v3.5h-3.5zM109.7 478h3.5v3.5h-3.5zM150.7 478h3.5v3.5h-3.5zM191.6 478h3.5v3.5h-3.5zM204.2 478h3.5v3.5h-3.5zM223.1 478h3.5v3.5h-3.5zM65.6 481.1h3.5v3.5h-3.5zM182.2 481.1h3.5v3.5h-3.5zM220 481.1h6.7v3.5h-6.7zM229.4 481.1h3.5v3.5h-3.5zM116 484.3h3.5v3.5h-3.5zM232.6 484.3h3.5v3.5h-3.5zM103.4 487.4h3.5v3.5h-3.5zM112.9 487.4h3.5v3.5h-3.5zM150.7 487.4h3.5v3.5h-3.5zM226.3 490.6h3.5v3.5h-3.5zM175.9 493.7h3.5v3.5h-3.5zM238.9 496.9h3.5v3.5h-3.5zM216.8 500h3.5v3.5h-3.5zM226.3 503.2h3.5v3.5h-3.5zM166.4 512.6h3.5v3.5h-3.5zM100.3 518.9h3.5v3.5h-3.5zM141.2 525.2h3.5v3.5h-3.5zM119.2 531.5h3.5v3.5h-3.5zM147.5 531.5h3.5v3.5h-3.5zM150.7 534.7h3.5v3.5h-3.5zM106.6 537.8h3.5v3.5h-3.5zM134.9 544.1h3.5v3.5h-3.5z"/>
<path fill="#d8c878" d="M175.9 383.5h3.5v3.5h-3.5zM131.8 386.6h3.5v3.5h-3.5zM172.7 396.1h3.5v3.5h-3.5zM216.8 402.4h3.5v3.5h-3.5zM90.8 405.5h3.5v3.5h-3.5zM122.3 405.5h3.5v3.5h-3.5zM197.9 405.5h3.5v3.5h-3.5zM229.4 408.7h3.5v3.5h-3.5zM90.8 418.1h3.5v3.5h-3.5zM138.1 418.1h3.5v3.5h-3.5zM128.6 427.6h3.5v3.5h-3.5zM147.5 427.6h3.5v3.5h-3.5zM163.3 427.6h3.5v3.5h-3.5zM210.5 427.6h3.5v3.5h-3.5zM106.6 430.7h3.5v3.5h-3.5zM147.5 430.7h3.5v3.5h-3.5zM166.4 430.7h3.5v3.5h-3.5zM223.1 430.7h3.5v3.5h-3.5zM229.4 430.7h3.5v3.5h-3.5zM100.3 433.9h3.5v3.5h-3.5zM119.2 433.9h3.5v3.5h-3.5zM116 437h3.5v3.5h-3.5zM131.8 440.2h3.5v3.5h-3.5zM175.9 440.2h3.5v3.5h-3.5zM141.2 443.3h3.5v3.5h-3.5zM182.2 446.5h3.5v3.5h-3.5zM216.8 446.5h3.5v3.5h-3.5zM134.9 449.6h3.5v3.5h-3.5zM191.6 449.6h3.5v3.5h-3.5zM125.5 452.8h3.5v3.5h-3.5zM191.6 452.8h3.5v3.5h-3.5zM109.7 459.1h3.5v3.5h-3.5zM172.7 459.1h3.5v3.5h-3.5zM232.6 459.1h3.5v3.5h-3.5zM84.5 462.2h3.5v3.5h-3.5zM116 462.2h3.5v3.5h-3.5zM65.6 468.5h3.5v3.5h-3.5zM94 474.8h3.5v3.5h-3.5zM175.9 478h3.5v3.5h-3.5zM248.3 478h3.5v3.5h-3.5zM68.8 481.1h3.5v3.5h-3.5zM131.8 484.3h3.5v3.5h-3.5zM248.3 484.3h3.5v3.5h-3.5zM87.7 487.4h3.5v3.5h-3.5zM141.2 487.4h3.5v3.5h-3.5zM71.9 493.7h3.5v3.5h-3.5zM226.3 496.9h3.5v3.5h-3.5zM201.1 500h3.5v3.5h-3.5zM229.4 500h3.5v3.5h-3.5zM238.9 500h3.5v3.5h-3.5zM188.5 503.2h3.5v3.5h-3.5zM78.2 506.3h3.5v3.5h-3.5zM182.2 506.3h3.5v3.5h-3.5zM235.7 509.5h3.5v3.5h-3.5zM81.4 512.6h3.5v3.5h-3.5zM201.1 512.6h3.5v3.5h-3.5zM201.1 515.8h3.5v3.5h-3.5zM235.7 518.9h3.5v3.5h-3.5zM153.8 522.1h3.5v3.5h-3.5zM229.4 522.1h3.5v3.5h-3.5zM138.1 528.4h3.5v3.5h-3.5zM119.2 534.7h3.5v3.5h-3.5zM191.6 537.8h3.5v3.5h-3.5zM112.9 541h3.5v3.5h-3.5zM191.6 541h3.5v3.5h-3.5zM160.1 547.3h3.5v3.5h-3.5zM185.3 547.3h3.5v3.5h-3.5z"/>
<path fill="#50b8a0" d="M213.7 405.5h3.5v3.5h-3.5zM182.2 421.3h3.5v3.5h-3.5zM84.5 430.7h3.5v3.5h-3.5zM78.2 433.9h3.5v3.5h-3.5zM90.8 437h3.5v3.5h-3.5zM81.4 443.3h3.5v3.5h-3.5zM75.1 455.9h3.5v3.5h-3.5zM81.4 455.9h3.5v3.5h-3.5zM172.7 462.2h3.5v3.5h-3.5zM166.4 468.5h3.5v3.5h-3.5zM116 471.7h3.5v3.5h-3.5zM157 471.7h3.5v3.5h-3.5zM194.8 474.8h3.5v3.5h-3.5zM71.9 478h3.5v3.5h-3.5zM122.3 478h3.5v3.5h-3.5zM112.9 481.1h3.5v3.5h-3.5zM175.9 500h3.5v3.5h-3.5zM160.1 509.5h3.5v3.5h-3.5zM229.4 528.4h3.5v3.5h-3.5zM163.3 550.4h3.5v3.5h-3.5z"/>
<rect x="277.7" y="374.6" width="14.3" height="9.4" fill="#ff0000"/>
<rect x="277.7" y="383.7" width="14.3" height="9.4" fill="#e84a28"/>
<rect x="277.7" y="392.7" width="14.3" height="9.4" fill="#d85a30"/>
<rect x="277.7" y="401.8" width="14.3" height="9.4" fill="#c87038"/>
<rect x="277.7" y="410.8" width="14.3" height="9.4" fill="#b88a40"/>
<rect x="277.7" y="419.9" width="14.3" height="9.4" fill="#a0a848"/>
<rect x="277.7" y="428.9" width="14.3" height="9.4" fill="#88c858"/>
<rect x="277.7" y="438" width="14.3" height="9.4" fill="#70f070"/>
<rect x="277.7" y="447.1" width="14.3" height="9.4" fill="#60d890"/>
<rect x="277.7" y="456.1" width="14.3" height="9.4" fill="#50b8a0"/>
<rect x="277.7" y="465.2" width="14.3" height="9.4" fill="#4898b8"/>
<rect x="277.7" y="474.2" width="14.3" height="9.4" fill="#4484c8"/>
<rect x="277.7" y="483.3" width="14.3" height="9.4" fill="#2858d8"/>
<rect x="277.7" y="492.3" width="14.3" height="9.4" fill="#1838e8"/>
<rect x="277.7" y="501.4" width="14.3" height="9.4" fill="#1020b0"/>
<rect x="277.7" y="510.4" width="14.3" height="9.4" fill="#000880"/>
<rect x="278.2" y="375.1" width="13.3" height="143.9" fill="none" stroke="#111" stroke-width="1"/>
<text x="298.1" y="367.6" font-size="9.7" textLength="11.9" lengthAdjust="spacingAndGlyphs" fill="#111">nm</text>
<text x="294.3" y="377.8" font-size="9.7" textLength="22.8" lengthAdjust="spacingAndGlyphs" fill="#111">345.3</text>
<text x="294.3" y="395.8" font-size="9.7" textLength="22.8" lengthAdjust="spacingAndGlyphs" fill="#111">344.4</text>
<text x="294.3" y="413.8" font-size="9.7" textLength="22.8" lengthAdjust="spacingAndGlyphs" fill="#111">343.6</text>
<text x="294.3" y="431.8" font-size="9.7" textLength="22.8" lengthAdjust="spacingAndGlyphs" fill="#111">342.8</text>
<text x="294.3" y="449.8" font-size="9.7" textLength="22.8" lengthAdjust="spacingAndGlyphs" fill="#111">341.9</text>
<text x="294.3" y="467.8" font-size="9.7" textLength="22.8" lengthAdjust="spacingAndGlyphs" fill="#111">341.1</text>
<text x="294.3" y="485.8" font-size="9.7" textLength="22.8" lengthAdjust="spacingAndGlyphs" fill="#111">340.2</text>
<text x="294.3" y="503.8" font-size="9.7" textLength="22.8" lengthAdjust="spacingAndGlyphs" fill="#111">339.4</text>
<text x="294.3" y="521.8" font-size="9.7" textLength="22.8" lengthAdjust="spacingAndGlyphs" fill="#111">338.6</text>
<text x="49.5" y="367.3" font-size="10.5" textLength="55.4" lengthAdjust="spacingAndGlyphs" fill="#111">Peak Lambda</text>
<text x="252.6" y="539" font-size="9.7" textLength="21" lengthAdjust="spacingAndGlyphs" fill="#111">Avge</text>
<text x="284.2" y="539" font-size="9.7" fill="#111">:</text>
<text x="292" y="539" font-size="9.7" textLength="21.7" lengthAdjust="spacingAndGlyphs" fill="#111">343.4</text>
<text x="252.6" y="550.2" font-size="9.7" textLength="35.5" lengthAdjust="spacingAndGlyphs" fill="#111">Median :</text>
<text x="292.7" y="550.2" font-size="9.7" textLength="21.7" lengthAdjust="spacingAndGlyphs" fill="#111">344.2</text>
<text x="252.6" y="560.7" font-size="9.7" textLength="68.9" lengthAdjust="spacingAndGlyphs" fill="#111">Std Dev: 0.589 %</text>
<text x="291.7" y="571" font-size="9.7" textLength="27" lengthAdjust="spacingAndGlyphs" fill="#111">(2.021)</text>
<text x="49.4" y="594.6" font-size="9.7" textLength="68.3" lengthAdjust="spacingAndGlyphs" fill="#111">In-Spec: 100.0 %</text>
<text x="135.9" y="594.6" font-size="9.7" textLength="26.1" lengthAdjust="spacingAndGlyphs" fill="#111">Below:</text>
<text x="170.3" y="594.6" font-size="9.7" textLength="21.8" lengthAdjust="spacingAndGlyphs" fill="#111">0.0 %</text>
<text x="217.2" y="594.6" font-size="9.7" textLength="27.8" lengthAdjust="spacingAndGlyphs" fill="#111">Above:</text>
<text x="253.2" y="594.6" font-size="9.7" textLength="21.8" lengthAdjust="spacingAndGlyphs" fill="#111">0.0 %</text>
<text x="153.7" y="632.6" font-size="24" textLength="24.9" lengthAdjust="spacingAndGlyphs" fill="#000" stroke="#000" stroke-width="0.5">(c)</text>
<rect x="358.1" y="350.5" width="280.4" height="253" fill="#c0c0c0" stroke="#000" stroke-width="3"/>
<path d="M439.7,570.6 A107.2,107.2 0 1 1 509.9,570.6 Z" fill="#fff" stroke="#222" stroke-width="1.1"/>
<path fill="#4898b8" d="M473.3 372.3h3.5v3.5h-3.5zM463.9 375.5h3.5v3.5h-3.5zM470.2 375.5h19.3v3.5h-19.3zM492.2 375.5h6.7v3.5h-6.7zM454.4 378.6h3.5v3.5h-3.5zM460.7 378.6h16.1v3.5h-16.1zM479.6 378.6h25.6v3.5h-25.6zM457.6 381.8h9.8v3.5h-9.8zM470.2 381.8h3.5v3.5h-3.5zM498.5 381.8h13v3.5h-13zM454.4 384.9h6.7v3.5h-6.7zM463.9 384.9h3.5v3.5h-3.5zM504.8 384.9h13v3.5h-13zM448.1 388.1h16.1v3.5h-16.1zM514.3 388.1h6.7v3.5h-6.7zM435.5 391.2h3.5v3.5h-3.5zM441.8 391.2h3.5v3.5h-3.5zM448.1 391.2h9.8v3.5h-9.8zM460.7 391.2h3.5v3.5h-3.5zM517.4 391.2h9.8v3.5h-9.8zM438.7 394.4h22.4v3.5h-22.4zM523.7 394.4h6.7v3.5h-6.7zM432.4 397.5h25.6v3.5h-25.6zM460.7 397.5h3.5v3.5h-3.5zM530 397.5h3.5v3.5h-3.5zM429.2 400.7h3.5v3.5h-3.5zM435.5 400.7h3.5v3.5h-3.5zM441.8 400.7h9.8v3.5h-9.8zM530 400.7h6.7v3.5h-6.7zM422.9 403.8h19.3v3.5h-19.3zM445 403.8h13v3.5h-13zM530 403.8h9.8v3.5h-9.8zM419.8 407h25.6v3.5h-25.6zM533.2 407h6.7v3.5h-6.7zM419.8 410.1h3.5v3.5h-3.5zM426.1 410.1h9.8v3.5h-9.8zM539.5 410.1h3.5v3.5h-3.5zM413.5 413.3h3.5v3.5h-3.5zM419.8 413.3h19.3v3.5h-19.3zM539.5 413.3h6.7v3.5h-6.7zM416.6 416.4h22.4v3.5h-22.4zM539.5 416.4h3.5v3.5h-3.5zM419.8 419.6h13v3.5h-13zM435.5 419.6h3.5v3.5h-3.5zM539.5 419.6h6.7v3.5h-6.7zM416.6 422.7h19.3v3.5h-19.3zM536.3 422.7h9.8v3.5h-9.8zM407.2 425.9h3.5v3.5h-3.5zM416.6 425.9h16.1v3.5h-16.1zM536.3 425.9h9.8v3.5h-9.8zM548.9 425.9h3.5v3.5h-3.5zM413.5 429h19.3v3.5h-19.3zM533.2 429h16.1v3.5h-16.1zM419.8 432.2h9.8v3.5h-9.8zM533.2 432.2h19.3v3.5h-19.3zM413.5 435.3h3.5v3.5h-3.5zM419.8 435.3h22.4v3.5h-22.4zM526.9 435.3h3.5v3.5h-3.5zM536.3 435.3h16.1v3.5h-16.1zM416.6 438.5h16.1v3.5h-16.1zM435.5 438.5h6.7v3.5h-6.7zM526.9 438.5h6.7v3.5h-6.7zM536.3 438.5h13v3.5h-13zM419.8 441.6h25.6v3.5h-25.6zM530 441.6h16.1v3.5h-16.1zM548.9 441.6h3.5v3.5h-3.5zM413.5 444.8h6.7v3.5h-6.7zM422.9 444.8h13v3.5h-13zM438.7 444.8h3.5v3.5h-3.5zM445 444.8h3.5v3.5h-3.5zM523.7 444.8h6.7v3.5h-6.7zM533.2 444.8h16.1v3.5h-16.1zM410.3 447.9h3.5v3.5h-3.5zM416.6 447.9h3.5v3.5h-3.5zM422.9 447.9h19.3v3.5h-19.3zM448.1 447.9h3.5v3.5h-3.5zM454.4 447.9h3.5v3.5h-3.5zM508 447.9h3.5v3.5h-3.5zM520.6 447.9h3.5v3.5h-3.5zM526.9 447.9h9.8v3.5h-9.8zM539.5 447.9h13v3.5h-13zM419.8 451.1h3.5v3.5h-3.5zM426.1 451.1h13v3.5h-13zM441.8 451.1h6.7v3.5h-6.7zM526.9 451.1h19.3v3.5h-19.3zM419.8 454.2h3.5v3.5h-3.5zM426.1 454.2h25.6v3.5h-25.6zM495.4 454.2h3.5v3.5h-3.5zM508 454.2h6.7v3.5h-6.7zM523.7 454.2h22.4v3.5h-22.4zM432.4 457.4h6.7v3.5h-6.7zM441.8 457.4h6.7v3.5h-6.7zM498.5 457.4h3.5v3.5h-3.5zM520.6 457.4h3.5v3.5h-3.5zM533.2 457.4h16.1v3.5h-16.1zM429.2 460.5h19.3v3.5h-19.3zM451.3 460.5h3.5v3.5h-3.5zM489.1 460.5h3.5v3.5h-3.5zM523.7 460.5h25.6v3.5h-25.6zM432.4 463.7h3.5v3.5h-3.5zM438.7 463.7h9.8v3.5h-9.8zM451.3 463.7h3.5v3.5h-3.5zM457.6 463.7h3.5v3.5h-3.5zM489.1 463.7h3.5v3.5h-3.5zM495.4 463.7h6.7v3.5h-6.7zM504.8 463.7h6.7v3.5h-6.7zM514.3 463.7h3.5v3.5h-3.5zM523.7 463.7h16.1v3.5h-16.1zM545.8 463.7h3.5v3.5h-3.5zM432.4 466.8h6.7v3.5h-6.7zM441.8 466.8h16.1v3.5h-16.1zM485.9 466.8h16.1v3.5h-16.1zM504.8 466.8h3.5v3.5h-3.5zM523.7 466.8h19.3v3.5h-19.3zM432.4 470h6.7v3.5h-6.7zM445 470h13v3.5h-13zM460.7 470h3.5v3.5h-3.5zM467 470h3.5v3.5h-3.5zM473.3 470h3.5v3.5h-3.5zM479.6 470h9.8v3.5h-9.8zM492.2 470h13v3.5h-13zM508 470h38.2v3.5h-38.2zM441.8 473.1h3.5v3.5h-3.5zM448.1 473.1h3.5v3.5h-3.5zM454.4 473.1h3.5v3.5h-3.5zM476.5 473.1h31.9v3.5h-31.9zM511.1 473.1h28.7v3.5h-28.7zM451.3 476.3h22.4v3.5h-22.4zM479.6 476.3h6.7v3.5h-6.7zM489.1 476.3h6.7v3.5h-6.7zM498.5 476.3h6.7v3.5h-6.7zM508 476.3h3.5v3.5h-3.5zM514.3 476.3h16.1v3.5h-16.1zM536.3 476.3h3.5v3.5h-3.5zM445 479.4h3.5v3.5h-3.5zM451.3 479.4h6.7v3.5h-6.7zM460.7 479.4h22.4v3.5h-22.4zM485.9 479.4h6.7v3.5h-6.7zM495.4 479.4h6.7v3.5h-6.7zM508 479.4h9.8v3.5h-9.8zM460.7 482.6h3.5v3.5h-3.5zM467 482.6h22.4v3.5h-22.4zM470.2 485.7h6.7v3.5h-6.7zM482.8 485.7h3.5v3.5h-3.5z"/>
<path fill="#50b8a0" d="M451.3 375.5h13v3.5h-13zM467 375.5h3.5v3.5h-3.5zM489.1 375.5h3.5v3.5h-3.5zM451.3 378.6h3.5v3.5h-3.5zM457.6 378.6h3.5v3.5h-3.5zM504.8 378.6h3.5v3.5h-3.5zM445 381.8h13v3.5h-13zM511.1 381.8h6.7v3.5h-6.7zM441.8 384.9h13v3.5h-13zM517.4 384.9h3.5v3.5h-3.5zM438.7 388.1h9.8v3.5h-9.8zM520.6 388.1h6.7v3.5h-6.7zM432.4 391.2h3.5v3.5h-3.5zM438.7 391.2h3.5v3.5h-3.5zM445 391.2h3.5v3.5h-3.5zM526.9 391.2h6.7v3.5h-6.7zM426.1 394.4h13v3.5h-13zM530 394.4h6.7v3.5h-6.7zM422.9 397.5h9.8v3.5h-9.8zM533.2 397.5h6.7v3.5h-6.7zM419.8 400.7h9.8v3.5h-9.8zM432.4 400.7h3.5v3.5h-3.5zM438.7 400.7h3.5v3.5h-3.5zM536.3 400.7h6.7v3.5h-6.7zM416.6 403.8h6.7v3.5h-6.7zM539.5 403.8h6.7v3.5h-6.7zM416.6 407h3.5v3.5h-3.5zM539.5 407h6.7v3.5h-6.7zM413.5 410.1h6.7v3.5h-6.7zM422.9 410.1h3.5v3.5h-3.5zM542.6 410.1h9.8v3.5h-9.8zM410.3 413.3h3.5v3.5h-3.5zM416.6 413.3h3.5v3.5h-3.5zM545.8 413.3h6.7v3.5h-6.7zM410.3 416.4h6.7v3.5h-6.7zM542.6 416.4h9.8v3.5h-9.8zM407.2 419.6h13v3.5h-13zM545.8 419.6h9.8v3.5h-9.8zM407.2 422.7h9.8v3.5h-9.8zM545.8 422.7h9.8v3.5h-9.8zM404 425.9h3.5v3.5h-3.5zM410.3 425.9h6.7v3.5h-6.7zM545.8 425.9h3.5v3.5h-3.5zM552.1 425.9h3.5v3.5h-3.5zM404 429h9.8v3.5h-9.8zM548.9 429h6.7v3.5h-6.7zM400.9 432.2h19.3v3.5h-19.3zM552.1 432.2h6.7v3.5h-6.7zM400.9 435.3h13v3.5h-13zM416.6 435.3h3.5v3.5h-3.5zM552.1 435.3h6.7v3.5h-6.7zM400.9 438.5h3.5v3.5h-3.5zM407.2 438.5h9.8v3.5h-9.8zM548.9 438.5h9.8v3.5h-9.8zM404 441.6h16.1v3.5h-16.1zM545.8 441.6h3.5v3.5h-3.5zM552.1 441.6h9.8v3.5h-9.8zM397.7 444.8h3.5v3.5h-3.5zM404 444.8h3.5v3.5h-3.5zM410.3 444.8h3.5v3.5h-3.5zM419.8 444.8h3.5v3.5h-3.5zM548.9 444.8h9.8v3.5h-9.8zM404 447.9h6.7v3.5h-6.7zM413.5 447.9h3.5v3.5h-3.5zM419.8 447.9h3.5v3.5h-3.5zM552.1 447.9h6.7v3.5h-6.7zM410.3 451.1h9.8v3.5h-9.8zM422.9 451.1h3.5v3.5h-3.5zM545.8 451.1h13v3.5h-13zM404 454.2h16.1v3.5h-16.1zM422.9 454.2h3.5v3.5h-3.5zM545.8 454.2h13v3.5h-13zM407.2 457.4h3.5v3.5h-3.5zM413.5 457.4h19.3v3.5h-19.3zM548.9 457.4h6.7v3.5h-6.7zM413.5 460.5h16.1v3.5h-16.1zM548.9 460.5h13v3.5h-13zM416.6 463.7h16.1v3.5h-16.1zM435.5 463.7h3.5v3.5h-3.5zM539.5 463.7h6.7v3.5h-6.7zM548.9 463.7h6.7v3.5h-6.7zM416.6 466.8h16.1v3.5h-16.1zM438.7 466.8h3.5v3.5h-3.5zM542.6 466.8h16.1v3.5h-16.1zM416.6 470h3.5v3.5h-3.5zM422.9 470h9.8v3.5h-9.8zM438.7 470h6.7v3.5h-6.7zM545.8 470h6.7v3.5h-6.7zM555.2 470h3.5v3.5h-3.5zM419.8 473.1h22.4v3.5h-22.4zM445 473.1h3.5v3.5h-3.5zM451.3 473.1h3.5v3.5h-3.5zM508 473.1h3.5v3.5h-3.5zM539.5 473.1h13v3.5h-13zM555.2 473.1h3.5v3.5h-3.5zM416.6 476.3h3.5v3.5h-3.5zM422.9 476.3h3.5v3.5h-3.5zM429.2 476.3h22.4v3.5h-22.4zM485.9 476.3h3.5v3.5h-3.5zM495.4 476.3h3.5v3.5h-3.5zM504.8 476.3h3.5v3.5h-3.5zM511.1 476.3h3.5v3.5h-3.5zM530 476.3h6.7v3.5h-6.7zM539.5 476.3h16.1v3.5h-16.1zM426.1 479.4h13v3.5h-13zM441.8 479.4h3.5v3.5h-3.5zM448.1 479.4h3.5v3.5h-3.5zM457.6 479.4h3.5v3.5h-3.5zM482.8 479.4h3.5v3.5h-3.5zM492.2 479.4h3.5v3.5h-3.5zM501.7 479.4h6.7v3.5h-6.7zM517.4 479.4h31.9v3.5h-31.9zM552.1 479.4h3.5v3.5h-3.5zM429.2 482.6h3.5v3.5h-3.5zM441.8 482.6h19.3v3.5h-19.3zM463.9 482.6h3.5v3.5h-3.5zM489.1 482.6h50.8v3.5h-50.8zM438.7 485.7h6.7v3.5h-6.7zM448.1 485.7h22.4v3.5h-22.4zM476.5 485.7h6.7v3.5h-6.7zM485.9 485.7h44.5v3.5h-44.5zM448.1 488.9h3.5v3.5h-3.5zM454.4 488.9h69.7v3.5h-69.7zM454.4 492h3.5v3.5h-3.5zM463.9 492h3.5v3.5h-3.5zM470.2 492h16.1v3.5h-16.1zM489.1 492h35v3.5h-35zM467 495.2h6.7v3.5h-6.7zM476.5 495.2h3.5v3.5h-3.5zM489.1 495.2h16.1v3.5h-16.1zM508 495.2h6.7v3.5h-6.7zM517.4 495.2h3.5v3.5h-3.5zM523.7 495.2h3.5v3.5h-3.5zM485.9 498.3h25.6v3.5h-25.6zM479.6 501.5h3.5v3.5h-3.5zM495.4 501.5h19.3v3.5h-19.3z"/>
<path fill="#60d890" d="M441.8 378.6h9.8v3.5h-9.8zM435.5 381.8h9.8v3.5h-9.8zM432.4 384.9h9.8v3.5h-9.8zM429.2 388.1h9.8v3.5h-9.8zM426.1 391.2h6.7v3.5h-6.7zM419.8 394.4h6.7v3.5h-6.7zM419.8 397.5h3.5v3.5h-3.5zM413.5 400.7h6.7v3.5h-6.7zM413.5 403.8h3.5v3.5h-3.5zM410.3 407h6.7v3.5h-6.7zM545.8 407h3.5v3.5h-3.5zM407.2 410.1h6.7v3.5h-6.7zM404 413.3h6.7v3.5h-6.7zM407.2 416.4h3.5v3.5h-3.5zM552.1 416.4h3.5v3.5h-3.5zM400.9 419.6h6.7v3.5h-6.7zM404 422.7h3.5v3.5h-3.5zM555.2 422.7h3.5v3.5h-3.5zM400.9 425.9h3.5v3.5h-3.5zM555.2 425.9h6.7v3.5h-6.7zM397.7 429h6.7v3.5h-6.7zM555.2 429h6.7v3.5h-6.7zM558.4 432.2h3.5v3.5h-3.5zM397.7 435.3h3.5v3.5h-3.5zM558.4 435.3h6.7v3.5h-6.7zM397.7 438.5h3.5v3.5h-3.5zM404 438.5h3.5v3.5h-3.5zM558.4 438.5h6.7v3.5h-6.7zM394.6 441.6h9.8v3.5h-9.8zM561.5 441.6h3.5v3.5h-3.5zM400.9 444.8h3.5v3.5h-3.5zM407.2 444.8h3.5v3.5h-3.5zM558.4 444.8h9.8v3.5h-9.8zM397.7 447.9h6.7v3.5h-6.7zM558.4 447.9h6.7v3.5h-6.7zM394.6 451.1h16.1v3.5h-16.1zM558.4 451.1h6.7v3.5h-6.7zM394.6 454.2h9.8v3.5h-9.8zM558.4 454.2h9.8v3.5h-9.8zM397.7 457.4h9.8v3.5h-9.8zM410.3 457.4h3.5v3.5h-3.5zM555.2 457.4h9.8v3.5h-9.8zM404 460.5h9.8v3.5h-9.8zM561.5 460.5h3.5v3.5h-3.5zM400.9 463.7h16.1v3.5h-16.1zM555.2 463.7h6.7v3.5h-6.7zM407.2 466.8h9.8v3.5h-9.8zM558.4 466.8h6.7v3.5h-6.7zM404 470h13v3.5h-13zM419.8 470h3.5v3.5h-3.5zM552.1 470h3.5v3.5h-3.5zM558.4 470h6.7v3.5h-6.7zM407.2 473.1h13v3.5h-13zM552.1 473.1h3.5v3.5h-3.5zM558.4 473.1h6.7v3.5h-6.7zM404 476.3h3.5v3.5h-3.5zM410.3 476.3h6.7v3.5h-6.7zM419.8 476.3h3.5v3.5h-3.5zM426.1 476.3h3.5v3.5h-3.5zM555.2 476.3h6.7v3.5h-6.7zM407.2 479.4h19.3v3.5h-19.3zM438.7 479.4h3.5v3.5h-3.5zM548.9 479.4h3.5v3.5h-3.5zM555.2 479.4h3.5v3.5h-3.5zM410.3 482.6h19.3v3.5h-19.3zM432.4 482.6h9.8v3.5h-9.8zM539.5 482.6h19.3v3.5h-19.3zM413.5 485.7h25.6v3.5h-25.6zM445 485.7h3.5v3.5h-3.5zM530 485.7h25.6v3.5h-25.6zM413.5 488.9h35v3.5h-35zM451.3 488.9h3.5v3.5h-3.5zM523.7 488.9h31.9v3.5h-31.9zM419.8 492h35v3.5h-35zM457.6 492h6.7v3.5h-6.7zM467 492h3.5v3.5h-3.5zM485.9 492h3.5v3.5h-3.5zM523.7 492h28.7v3.5h-28.7zM419.8 495.2h22.4v3.5h-22.4zM445 495.2h22.4v3.5h-22.4zM473.3 495.2h3.5v3.5h-3.5zM479.6 495.2h9.8v3.5h-9.8zM504.8 495.2h3.5v3.5h-3.5zM514.3 495.2h3.5v3.5h-3.5zM520.6 495.2h3.5v3.5h-3.5zM526.9 495.2h16.1v3.5h-16.1zM545.8 495.2h6.7v3.5h-6.7zM429.2 498.3h57.1v3.5h-57.1zM511.1 498.3h31.9v3.5h-31.9zM548.9 498.3h3.5v3.5h-3.5zM432.4 501.5h47.6v3.5h-47.6zM482.8 501.5h13v3.5h-13zM514.3 501.5h25.6v3.5h-25.6zM429.2 504.6h3.5v3.5h-3.5zM438.7 504.6h16.1v3.5h-16.1zM457.6 504.6h16.1v3.5h-16.1zM482.8 504.6h47.6v3.5h-47.6zM533.2 504.6h3.5v3.5h-3.5zM539.5 504.6h6.7v3.5h-6.7zM438.7 507.8h9.8v3.5h-9.8zM451.3 507.8h3.5v3.5h-3.5zM457.6 507.8h3.5v3.5h-3.5zM482.8 507.8h47.6v3.5h-47.6zM441.8 510.9h6.7v3.5h-6.7zM454.4 510.9h3.5v3.5h-3.5zM476.5 510.9h3.5v3.5h-3.5zM485.9 510.9h35v3.5h-35zM445 514.1h3.5v3.5h-3.5zM479.6 514.1h3.5v3.5h-3.5zM495.4 514.1h19.3v3.5h-19.3zM441.8 517.2h3.5v3.5h-3.5zM492.2 517.2h3.5v3.5h-3.5zM498.5 517.2h3.5v3.5h-3.5z"/>
<path fill="#4484c8" d="M476.5 378.6h3.5v3.5h-3.5zM467 381.8h3.5v3.5h-3.5zM473.3 381.8h25.6v3.5h-25.6zM460.7 384.9h3.5v3.5h-3.5zM467 384.9h13v3.5h-13zM482.8 384.9h3.5v3.5h-3.5zM492.2 384.9h13v3.5h-13zM463.9 388.1h9.8v3.5h-9.8zM501.7 388.1h13v3.5h-13zM457.6 391.2h3.5v3.5h-3.5zM463.9 391.2h6.7v3.5h-6.7zM476.5 391.2h3.5v3.5h-3.5zM504.8 391.2h13v3.5h-13zM460.7 394.4h13v3.5h-13zM517.4 394.4h6.7v3.5h-6.7zM457.6 397.5h3.5v3.5h-3.5zM463.9 397.5h3.5v3.5h-3.5zM479.6 397.5h3.5v3.5h-3.5zM520.6 397.5h9.8v3.5h-9.8zM451.3 400.7h16.1v3.5h-16.1zM470.2 400.7h6.7v3.5h-6.7zM517.4 400.7h13v3.5h-13zM441.8 403.8h3.5v3.5h-3.5zM457.6 403.8h13v3.5h-13zM495.4 403.8h3.5v3.5h-3.5zM511.1 403.8h3.5v3.5h-3.5zM517.4 403.8h6.7v3.5h-6.7zM526.9 403.8h3.5v3.5h-3.5zM445 407h19.3v3.5h-19.3zM476.5 407h3.5v3.5h-3.5zM523.7 407h9.8v3.5h-9.8zM435.5 410.1h31.9v3.5h-31.9zM473.3 410.1h3.5v3.5h-3.5zM482.8 410.1h3.5v3.5h-3.5zM508 410.1h3.5v3.5h-3.5zM517.4 410.1h3.5v3.5h-3.5zM523.7 410.1h16.1v3.5h-16.1zM438.7 413.3h25.6v3.5h-25.6zM473.3 413.3h3.5v3.5h-3.5zM504.8 413.3h3.5v3.5h-3.5zM514.3 413.3h25.6v3.5h-25.6zM438.7 416.4h31.9v3.5h-31.9zM479.6 416.4h3.5v3.5h-3.5zM485.9 416.4h3.5v3.5h-3.5zM498.5 416.4h3.5v3.5h-3.5zM514.3 416.4h3.5v3.5h-3.5zM520.6 416.4h19.3v3.5h-19.3zM432.4 419.6h3.5v3.5h-3.5zM438.7 419.6h19.3v3.5h-19.3zM460.7 419.6h6.7v3.5h-6.7zM470.2 419.6h6.7v3.5h-6.7zM482.8 419.6h13v3.5h-13zM501.7 419.6h3.5v3.5h-3.5zM511.1 419.6h3.5v3.5h-3.5zM517.4 419.6h22.4v3.5h-22.4zM435.5 422.7h22.4v3.5h-22.4zM460.7 422.7h6.7v3.5h-6.7zM470.2 422.7h6.7v3.5h-6.7zM479.6 422.7h6.7v3.5h-6.7zM489.1 422.7h3.5v3.5h-3.5zM498.5 422.7h38.2v3.5h-38.2zM432.4 425.9h35v3.5h-35zM473.3 425.9h6.7v3.5h-6.7zM482.8 425.9h3.5v3.5h-3.5zM489.1 425.9h47.6v3.5h-47.6zM432.4 429h41.3v3.5h-41.3zM476.5 429h13v3.5h-13zM492.2 429h3.5v3.5h-3.5zM501.7 429h31.9v3.5h-31.9zM429.2 432.2h41.3v3.5h-41.3zM473.3 432.2h22.4v3.5h-22.4zM498.5 432.2h35v3.5h-35zM441.8 435.3h50.8v3.5h-50.8zM495.4 435.3h31.9v3.5h-31.9zM530 435.3h6.7v3.5h-6.7zM432.4 438.5h3.5v3.5h-3.5zM441.8 438.5h16.1v3.5h-16.1zM460.7 438.5h6.7v3.5h-6.7zM470.2 438.5h9.8v3.5h-9.8zM482.8 438.5h16.1v3.5h-16.1zM501.7 438.5h25.6v3.5h-25.6zM533.2 438.5h3.5v3.5h-3.5zM445 441.6h60.2v3.5h-60.2zM508 441.6h22.4v3.5h-22.4zM435.5 444.8h3.5v3.5h-3.5zM441.8 444.8h3.5v3.5h-3.5zM448.1 444.8h76v3.5h-76zM530 444.8h3.5v3.5h-3.5zM441.8 447.9h6.7v3.5h-6.7zM451.3 447.9h3.5v3.5h-3.5zM457.6 447.9h50.8v3.5h-50.8zM511.1 447.9h9.8v3.5h-9.8zM523.7 447.9h3.5v3.5h-3.5zM536.3 447.9h3.5v3.5h-3.5zM438.7 451.1h3.5v3.5h-3.5zM448.1 451.1h79.2v3.5h-79.2zM451.3 454.2h44.5v3.5h-44.5zM498.5 454.2h9.8v3.5h-9.8zM514.3 454.2h9.8v3.5h-9.8zM438.7 457.4h3.5v3.5h-3.5zM448.1 457.4h50.8v3.5h-50.8zM501.7 457.4h19.3v3.5h-19.3zM523.7 457.4h9.8v3.5h-9.8zM448.1 460.5h3.5v3.5h-3.5zM454.4 460.5h35v3.5h-35zM492.2 460.5h31.9v3.5h-31.9zM448.1 463.7h3.5v3.5h-3.5zM454.4 463.7h3.5v3.5h-3.5zM460.7 463.7h28.7v3.5h-28.7zM492.2 463.7h3.5v3.5h-3.5zM501.7 463.7h3.5v3.5h-3.5zM511.1 463.7h3.5v3.5h-3.5zM517.4 463.7h6.7v3.5h-6.7zM457.6 466.8h16.1v3.5h-16.1zM479.6 466.8h6.7v3.5h-6.7zM501.7 466.8h3.5v3.5h-3.5zM508 466.8h16.1v3.5h-16.1zM457.6 470h3.5v3.5h-3.5zM463.9 470h3.5v3.5h-3.5zM470.2 470h3.5v3.5h-3.5zM476.5 470h3.5v3.5h-3.5zM489.1 470h3.5v3.5h-3.5zM504.8 470h3.5v3.5h-3.5zM457.6 473.1h19.3v3.5h-19.3zM473.3 476.3h6.7v3.5h-6.7z"/>
<path fill="#70f070" d="M432.4 381.8h3.5v3.5h-3.5zM429.2 384.9h3.5v3.5h-3.5zM422.9 388.1h6.7v3.5h-6.7zM416.6 391.2h9.8v3.5h-9.8zM416.6 394.4h3.5v3.5h-3.5zM410.3 397.5h9.8v3.5h-9.8zM410.3 400.7h3.5v3.5h-3.5zM407.2 403.8h6.7v3.5h-6.7zM407.2 407h3.5v3.5h-3.5zM400.9 410.1h6.7v3.5h-6.7zM400.9 413.3h3.5v3.5h-3.5zM400.9 416.4h6.7v3.5h-6.7zM397.7 419.6h3.5v3.5h-3.5zM397.7 422.7h6.7v3.5h-6.7zM397.7 425.9h3.5v3.5h-3.5zM394.6 432.2h6.7v3.5h-6.7zM394.6 435.3h3.5v3.5h-3.5zM394.6 438.5h3.5v3.5h-3.5zM394.6 444.8h3.5v3.5h-3.5zM394.6 447.9h3.5v3.5h-3.5zM564.7 447.9h3.5v3.5h-3.5zM564.7 451.1h3.5v3.5h-3.5zM391.4 457.4h6.7v3.5h-6.7zM564.7 457.4h3.5v3.5h-3.5zM391.4 460.5h13v3.5h-13zM564.7 460.5h3.5v3.5h-3.5zM394.6 463.7h6.7v3.5h-6.7zM561.5 463.7h6.7v3.5h-6.7zM394.6 466.8h13v3.5h-13zM564.7 466.8h6.7v3.5h-6.7zM394.6 470h9.8v3.5h-9.8zM564.7 470h3.5v3.5h-3.5zM397.7 473.1h9.8v3.5h-9.8zM564.7 473.1h3.5v3.5h-3.5zM394.6 476.3h9.8v3.5h-9.8zM407.2 476.3h3.5v3.5h-3.5zM561.5 476.3h6.7v3.5h-6.7zM397.7 479.4h9.8v3.5h-9.8zM558.4 479.4h9.8v3.5h-9.8zM397.7 482.6h13v3.5h-13zM558.4 482.6h9.8v3.5h-9.8zM404 485.7h9.8v3.5h-9.8zM555.2 485.7h9.8v3.5h-9.8zM407.2 488.9h6.7v3.5h-6.7zM555.2 488.9h6.7v3.5h-6.7zM407.2 492h13v3.5h-13zM552.1 492h9.8v3.5h-9.8zM413.5 495.2h6.7v3.5h-6.7zM441.8 495.2h3.5v3.5h-3.5zM542.6 495.2h3.5v3.5h-3.5zM552.1 495.2h3.5v3.5h-3.5zM416.6 498.3h13v3.5h-13zM542.6 498.3h6.7v3.5h-6.7zM552.1 498.3h3.5v3.5h-3.5zM419.8 501.5h3.5v3.5h-3.5zM426.1 501.5h6.7v3.5h-6.7zM539.5 501.5h13v3.5h-13zM426.1 504.6h3.5v3.5h-3.5zM432.4 504.6h6.7v3.5h-6.7zM454.4 504.6h3.5v3.5h-3.5zM473.3 504.6h9.8v3.5h-9.8zM530 504.6h3.5v3.5h-3.5zM536.3 504.6h3.5v3.5h-3.5zM545.8 504.6h3.5v3.5h-3.5zM429.2 507.8h9.8v3.5h-9.8zM448.1 507.8h3.5v3.5h-3.5zM454.4 507.8h3.5v3.5h-3.5zM460.7 507.8h22.4v3.5h-22.4zM530 507.8h16.1v3.5h-16.1zM432.4 510.9h9.8v3.5h-9.8zM448.1 510.9h6.7v3.5h-6.7zM457.6 510.9h19.3v3.5h-19.3zM479.6 510.9h6.7v3.5h-6.7zM520.6 510.9h25.6v3.5h-25.6zM432.4 514.1h13v3.5h-13zM448.1 514.1h31.9v3.5h-31.9zM482.8 514.1h13v3.5h-13zM514.3 514.1h22.4v3.5h-22.4zM432.4 517.2h9.8v3.5h-9.8zM445 517.2h16.1v3.5h-16.1zM463.9 517.2h28.7v3.5h-28.7zM495.4 517.2h3.5v3.5h-3.5zM501.7 517.2h28.7v3.5h-28.7zM438.7 520.4h16.1v3.5h-16.1zM457.6 520.4h69.7v3.5h-69.7zM435.5 523.5h6.7v3.5h-6.7zM445 523.5h9.8v3.5h-9.8zM463.9 523.5h16.1v3.5h-16.1zM485.9 523.5h31.9v3.5h-31.9zM445 526.7h3.5v3.5h-3.5zM501.7 526.7h3.5v3.5h-3.5zM504.8 529.8h3.5v3.5h-3.5z"/>
<path fill="#2858d8" d="M479.6 384.9h3.5v3.5h-3.5zM485.9 384.9h6.7v3.5h-6.7zM473.3 388.1h28.7v3.5h-28.7zM470.2 391.2h6.7v3.5h-6.7zM479.6 391.2h25.6v3.5h-25.6zM473.3 394.4h13v3.5h-13zM489.1 394.4h28.7v3.5h-28.7zM467 397.5h13v3.5h-13zM482.8 397.5h38.2v3.5h-38.2zM467 400.7h3.5v3.5h-3.5zM476.5 400.7h41.3v3.5h-41.3zM470.2 403.8h25.6v3.5h-25.6zM498.5 403.8h13v3.5h-13zM514.3 403.8h3.5v3.5h-3.5zM523.7 403.8h3.5v3.5h-3.5zM463.9 407h13v3.5h-13zM479.6 407h44.5v3.5h-44.5zM467 410.1h6.7v3.5h-6.7zM476.5 410.1h6.7v3.5h-6.7zM485.9 410.1h22.4v3.5h-22.4zM511.1 410.1h6.7v3.5h-6.7zM520.6 410.1h3.5v3.5h-3.5zM463.9 413.3h9.8v3.5h-9.8zM476.5 413.3h28.7v3.5h-28.7zM508 413.3h6.7v3.5h-6.7zM470.2 416.4h9.8v3.5h-9.8zM482.8 416.4h3.5v3.5h-3.5zM489.1 416.4h9.8v3.5h-9.8zM501.7 416.4h13v3.5h-13zM517.4 416.4h3.5v3.5h-3.5zM457.6 419.6h3.5v3.5h-3.5zM467 419.6h3.5v3.5h-3.5zM476.5 419.6h6.7v3.5h-6.7zM495.4 419.6h6.7v3.5h-6.7zM504.8 419.6h6.7v3.5h-6.7zM514.3 419.6h3.5v3.5h-3.5zM457.6 422.7h3.5v3.5h-3.5zM467 422.7h3.5v3.5h-3.5zM476.5 422.7h3.5v3.5h-3.5zM485.9 422.7h3.5v3.5h-3.5zM492.2 422.7h6.7v3.5h-6.7zM467 425.9h6.7v3.5h-6.7zM479.6 425.9h3.5v3.5h-3.5zM485.9 425.9h3.5v3.5h-3.5zM473.3 429h3.5v3.5h-3.5zM489.1 429h3.5v3.5h-3.5zM495.4 429h6.7v3.5h-6.7zM470.2 432.2h3.5v3.5h-3.5zM495.4 432.2h3.5v3.5h-3.5zM492.2 435.3h3.5v3.5h-3.5zM457.6 438.5h3.5v3.5h-3.5zM467 438.5h3.5v3.5h-3.5zM479.6 438.5h3.5v3.5h-3.5zM498.5 438.5h3.5v3.5h-3.5zM504.8 441.6h3.5v3.5h-3.5z"/>
<path fill="#88c858" d="M413.5 394.4h3.5v3.5h-3.5zM407.2 400.7h3.5v3.5h-3.5zM404 403.8h3.5v3.5h-3.5zM400.9 407h6.7v3.5h-6.7zM397.7 410.1h3.5v3.5h-3.5zM394.6 416.4h6.7v3.5h-6.7zM394.6 419.6h3.5v3.5h-3.5zM394.6 422.7h3.5v3.5h-3.5zM394.6 425.9h3.5v3.5h-3.5zM394.6 429h3.5v3.5h-3.5zM391.4 432.2h3.5v3.5h-3.5zM391.4 438.5h3.5v3.5h-3.5zM391.4 441.6h3.5v3.5h-3.5zM391.4 444.8h3.5v3.5h-3.5zM391.4 447.9h3.5v3.5h-3.5zM391.4 451.1h3.5v3.5h-3.5zM391.4 454.2h3.5v3.5h-3.5zM391.4 463.7h3.5v3.5h-3.5zM391.4 466.8h3.5v3.5h-3.5zM391.4 470h3.5v3.5h-3.5zM394.6 473.1h3.5v3.5h-3.5zM394.6 479.4h3.5v3.5h-3.5zM394.6 482.6h3.5v3.5h-3.5zM397.7 485.7h6.7v3.5h-6.7zM564.7 485.7h3.5v3.5h-3.5zM397.7 488.9h9.8v3.5h-9.8zM561.5 488.9h6.7v3.5h-6.7zM400.9 492h6.7v3.5h-6.7zM561.5 492h3.5v3.5h-3.5zM407.2 495.2h6.7v3.5h-6.7zM555.2 495.2h9.8v3.5h-9.8zM410.3 498.3h6.7v3.5h-6.7zM555.2 498.3h9.8v3.5h-9.8zM413.5 501.5h6.7v3.5h-6.7zM422.9 501.5h3.5v3.5h-3.5zM552.1 501.5h9.8v3.5h-9.8zM416.6 504.6h9.8v3.5h-9.8zM548.9 504.6h13v3.5h-13zM419.8 507.8h9.8v3.5h-9.8zM545.8 507.8h9.8v3.5h-9.8zM422.9 510.9h9.8v3.5h-9.8zM545.8 510.9h6.7v3.5h-6.7zM555.2 510.9h3.5v3.5h-3.5zM422.9 514.1h9.8v3.5h-9.8zM536.3 514.1h13v3.5h-13zM426.1 517.2h6.7v3.5h-6.7zM460.7 517.2h3.5v3.5h-3.5zM530 517.2h13v3.5h-13zM429.2 520.4h9.8v3.5h-9.8zM454.4 520.4h3.5v3.5h-3.5zM526.9 520.4h13v3.5h-13zM432.4 523.5h3.5v3.5h-3.5zM441.8 523.5h3.5v3.5h-3.5zM454.4 523.5h9.8v3.5h-9.8zM479.6 523.5h6.7v3.5h-6.7zM517.4 523.5h16.1v3.5h-16.1zM432.4 526.7h13v3.5h-13zM448.1 526.7h53.9v3.5h-53.9zM504.8 526.7h22.4v3.5h-22.4zM438.7 529.8h66.5v3.5h-66.5zM508 529.8h13v3.5h-13zM441.8 533h25.6v3.5h-25.6zM492.2 533h6.7v3.5h-6.7zM501.7 533h3.5v3.5h-3.5zM511.1 533h3.5v3.5h-3.5zM454.4 536.1h6.7v3.5h-6.7z"/>
<path fill="#1838e8" d="M485.9 394.4h3.5v3.5h-3.5z"/>
<path fill="#a0a848" d="M397.7 413.3h3.5v3.5h-3.5zM391.4 422.7h3.5v3.5h-3.5zM391.4 425.9h3.5v3.5h-3.5zM391.4 429h3.5v3.5h-3.5zM388.3 432.2h3.5v3.5h-3.5zM388.3 435.3h6.7v3.5h-6.7zM388.3 438.5h3.5v3.5h-3.5zM388.3 444.8h3.5v3.5h-3.5zM388.3 447.9h3.5v3.5h-3.5zM388.3 451.1h3.5v3.5h-3.5zM388.3 454.2h3.5v3.5h-3.5zM388.3 460.5h3.5v3.5h-3.5zM388.3 463.7h3.5v3.5h-3.5zM391.4 473.1h3.5v3.5h-3.5zM391.4 476.3h3.5v3.5h-3.5zM394.6 485.7h3.5v3.5h-3.5zM394.6 488.9h3.5v3.5h-3.5zM397.7 492h3.5v3.5h-3.5zM400.9 495.2h6.7v3.5h-6.7zM407.2 498.3h3.5v3.5h-3.5zM410.3 501.5h3.5v3.5h-3.5zM413.5 504.6h3.5v3.5h-3.5zM416.6 507.8h3.5v3.5h-3.5zM555.2 507.8h6.7v3.5h-6.7zM419.8 510.9h3.5v3.5h-3.5zM552.1 510.9h3.5v3.5h-3.5zM419.8 514.1h3.5v3.5h-3.5zM548.9 514.1h6.7v3.5h-6.7zM422.9 517.2h3.5v3.5h-3.5zM542.6 517.2h13v3.5h-13zM422.9 520.4h6.7v3.5h-6.7zM539.5 520.4h13v3.5h-13zM426.1 523.5h6.7v3.5h-6.7zM533.2 523.5h9.8v3.5h-9.8zM426.1 526.7h6.7v3.5h-6.7zM526.9 526.7h6.7v3.5h-6.7zM429.2 529.8h9.8v3.5h-9.8zM520.6 529.8h13v3.5h-13zM429.2 533h13v3.5h-13zM467 533h25.6v3.5h-25.6zM498.5 533h3.5v3.5h-3.5zM504.8 533h6.7v3.5h-6.7zM514.3 533h9.8v3.5h-9.8zM435.5 536.1h19.3v3.5h-19.3zM460.7 536.1h13v3.5h-13zM479.6 536.1h3.5v3.5h-3.5zM489.1 536.1h3.5v3.5h-3.5zM495.4 536.1h22.4v3.5h-22.4zM445 539.3h3.5v3.5h-3.5zM451.3 539.3h19.3v3.5h-19.3zM445 542.4h19.3v3.5h-19.3z"/>
<path fill="#b88a40" d="M388.3 425.9h3.5v3.5h-3.5zM388.3 429h3.5v3.5h-3.5zM385.1 435.3h3.5v3.5h-3.5zM385.1 441.6h6.7v3.5h-6.7zM388.3 457.4h3.5v3.5h-3.5zM388.3 466.8h3.5v3.5h-3.5zM388.3 470h3.5v3.5h-3.5zM388.3 473.1h3.5v3.5h-3.5zM391.4 479.4h3.5v3.5h-3.5zM391.4 482.6h3.5v3.5h-3.5zM391.4 485.7h3.5v3.5h-3.5zM394.6 492h3.5v3.5h-3.5zM397.7 495.2h3.5v3.5h-3.5zM400.9 498.3h6.7v3.5h-6.7zM400.9 501.5h9.8v3.5h-9.8zM407.2 504.6h6.7v3.5h-6.7zM413.5 507.8h3.5v3.5h-3.5zM413.5 510.9h6.7v3.5h-6.7zM416.6 514.1h3.5v3.5h-3.5zM416.6 517.2h6.7v3.5h-6.7zM419.8 520.4h3.5v3.5h-3.5zM416.6 523.5h9.8v3.5h-9.8zM542.6 523.5h9.8v3.5h-9.8zM419.8 526.7h6.7v3.5h-6.7zM533.2 526.7h16.1v3.5h-16.1zM426.1 529.8h3.5v3.5h-3.5zM533.2 529.8h9.8v3.5h-9.8zM426.1 533h3.5v3.5h-3.5zM523.7 533h9.8v3.5h-9.8zM432.4 536.1h3.5v3.5h-3.5zM473.3 536.1h6.7v3.5h-6.7zM482.8 536.1h6.7v3.5h-6.7zM492.2 536.1h3.5v3.5h-3.5zM517.4 536.1h6.7v3.5h-6.7zM435.5 539.3h9.8v3.5h-9.8zM448.1 539.3h3.5v3.5h-3.5zM470.2 539.3h3.5v3.5h-3.5zM489.1 539.3h28.7v3.5h-28.7zM441.8 542.4h3.5v3.5h-3.5zM463.9 542.4h9.8v3.5h-9.8zM498.5 542.4h6.7v3.5h-6.7zM448.1 545.6h6.7v3.5h-6.7zM460.7 545.6h9.8v3.5h-9.8z"/>
<path fill="#c87038" d="M385.1 438.5h3.5v3.5h-3.5zM385.1 444.8h3.5v3.5h-3.5zM385.1 447.9h3.5v3.5h-3.5zM385.1 451.1h3.5v3.5h-3.5zM385.1 454.2h3.5v3.5h-3.5zM388.3 476.3h3.5v3.5h-3.5zM388.3 479.4h3.5v3.5h-3.5zM388.3 482.6h3.5v3.5h-3.5zM391.4 488.9h3.5v3.5h-3.5zM394.6 495.2h3.5v3.5h-3.5zM397.7 498.3h3.5v3.5h-3.5zM400.9 504.6h6.7v3.5h-6.7zM404 507.8h9.8v3.5h-9.8zM410.3 510.9h3.5v3.5h-3.5zM410.3 514.1h6.7v3.5h-6.7zM413.5 520.4h6.7v3.5h-6.7zM419.8 529.8h6.7v3.5h-6.7zM542.6 529.8h3.5v3.5h-3.5zM533.2 533h9.8v3.5h-9.8zM429.2 536.1h3.5v3.5h-3.5zM523.7 536.1h9.8v3.5h-9.8zM432.4 539.3h3.5v3.5h-3.5zM473.3 539.3h16.1v3.5h-16.1zM517.4 539.3h3.5v3.5h-3.5zM526.9 539.3h3.5v3.5h-3.5zM438.7 542.4h3.5v3.5h-3.5zM473.3 542.4h3.5v3.5h-3.5zM479.6 542.4h3.5v3.5h-3.5zM485.9 542.4h13v3.5h-13zM504.8 542.4h13v3.5h-13zM445 545.6h3.5v3.5h-3.5zM470.2 545.6h6.7v3.5h-6.7zM479.6 545.6h6.7v3.5h-6.7zM489.1 545.6h3.5v3.5h-3.5zM495.4 545.6h3.5v3.5h-3.5zM501.7 545.6h3.5v3.5h-3.5zM460.7 548.7h9.8v3.5h-9.8z"/>
<path fill="#d85a30" d="M382 444.8h3.5v3.5h-3.5zM382 447.9h3.5v3.5h-3.5zM382 454.2h3.5v3.5h-3.5zM385.1 457.4h3.5v3.5h-3.5zM385.1 460.5h3.5v3.5h-3.5zM385.1 463.7h3.5v3.5h-3.5zM385.1 466.8h3.5v3.5h-3.5zM385.1 470h3.5v3.5h-3.5zM388.3 485.7h3.5v3.5h-3.5zM391.4 492h3.5v3.5h-3.5zM391.4 495.2h3.5v3.5h-3.5zM394.6 498.3h3.5v3.5h-3.5zM397.7 501.5h3.5v3.5h-3.5zM397.7 504.6h3.5v3.5h-3.5zM407.2 510.9h3.5v3.5h-3.5zM407.2 514.1h3.5v3.5h-3.5zM410.3 517.2h6.7v3.5h-6.7zM410.3 520.4h3.5v3.5h-3.5zM413.5 523.5h3.5v3.5h-3.5zM416.6 526.7h3.5v3.5h-3.5zM422.9 533h3.5v3.5h-3.5zM426.1 536.1h3.5v3.5h-3.5zM533.2 536.1h6.7v3.5h-6.7zM429.2 539.3h3.5v3.5h-3.5zM520.6 539.3h6.7v3.5h-6.7zM530 539.3h6.7v3.5h-6.7zM435.5 542.4h3.5v3.5h-3.5zM476.5 542.4h3.5v3.5h-3.5zM482.8 542.4h3.5v3.5h-3.5zM517.4 542.4h9.8v3.5h-9.8zM438.7 545.6h6.7v3.5h-6.7zM476.5 545.6h3.5v3.5h-3.5zM485.9 545.6h3.5v3.5h-3.5zM492.2 545.6h3.5v3.5h-3.5zM498.5 545.6h3.5v3.5h-3.5zM504.8 545.6h9.8v3.5h-9.8zM448.1 548.7h6.7v3.5h-6.7zM470.2 548.7h13v3.5h-13zM501.7 548.7h3.5v3.5h-3.5zM463.9 551.9h6.7v3.5h-6.7z"/>
<path fill="#e84a28" d="M382 451.1h3.5v3.5h-3.5zM382 457.4h3.5v3.5h-3.5zM385.1 473.1h3.5v3.5h-3.5zM385.1 476.3h3.5v3.5h-3.5zM385.1 479.4h3.5v3.5h-3.5zM385.1 482.6h3.5v3.5h-3.5zM388.3 488.9h3.5v3.5h-3.5zM388.3 492h3.5v3.5h-3.5zM394.6 501.5h3.5v3.5h-3.5zM394.6 504.6h3.5v3.5h-3.5zM397.7 507.8h6.7v3.5h-6.7zM400.9 510.9h6.7v3.5h-6.7zM404 514.1h3.5v3.5h-3.5zM404 517.2h6.7v3.5h-6.7zM410.3 523.5h3.5v3.5h-3.5zM413.5 526.7h3.5v3.5h-3.5zM416.6 529.8h3.5v3.5h-3.5zM419.8 533h3.5v3.5h-3.5zM422.9 536.1h3.5v3.5h-3.5zM426.1 539.3h3.5v3.5h-3.5zM429.2 542.4h6.7v3.5h-6.7zM526.9 542.4h6.7v3.5h-6.7zM435.5 545.6h3.5v3.5h-3.5zM514.3 545.6h13v3.5h-13zM441.8 548.7h6.7v3.5h-6.7zM482.8 548.7h19.3v3.5h-19.3zM504.8 548.7h9.8v3.5h-9.8zM517.4 548.7h3.5v3.5h-3.5zM448.1 551.9h6.7v3.5h-6.7zM470.2 551.9h19.3v3.5h-19.3zM498.5 551.9h3.5v3.5h-3.5zM504.8 551.9h3.5v3.5h-3.5zM514.3 551.9h3.5v3.5h-3.5z"/>
<path fill="#ff0000" d="M382 460.5h3.5v3.5h-3.5zM382 463.7h3.5v3.5h-3.5zM378.8 466.8h6.7v3.5h-6.7zM382 470h3.5v3.5h-3.5zM382 473.1h3.5v3.5h-3.5zM382 476.3h3.5v3.5h-3.5zM382 479.4h3.5v3.5h-3.5zM382 482.6h3.5v3.5h-3.5zM382 485.7h6.7v3.5h-6.7zM382 488.9h6.7v3.5h-6.7zM385.1 492h3.5v3.5h-3.5zM385.1 495.2h6.7v3.5h-6.7zM385.1 498.3h9.8v3.5h-9.8zM388.3 501.5h6.7v3.5h-6.7zM388.3 504.6h6.7v3.5h-6.7zM388.3 507.8h9.8v3.5h-9.8zM391.4 510.9h9.8v3.5h-9.8zM394.6 514.1h9.8v3.5h-9.8zM394.6 517.2h9.8v3.5h-9.8zM397.7 520.4h13v3.5h-13zM397.7 523.5h13v3.5h-13zM400.9 526.7h13v3.5h-13zM404 529.8h13v3.5h-13zM407.2 533h13v3.5h-13zM410.3 536.1h13v3.5h-13zM413.5 539.3h13v3.5h-13zM416.6 542.4h13v3.5h-13zM422.9 545.6h13v3.5h-13zM429.2 548.7h13v3.5h-13zM514.3 548.7h3.5v3.5h-3.5zM432.4 551.9h16.1v3.5h-16.1zM489.1 551.9h9.8v3.5h-9.8zM501.7 551.9h3.5v3.5h-3.5zM508 551.9h6.7v3.5h-6.7zM441.8 555h13v3.5h-13zM463.9 555h44.5v3.5h-44.5zM451.3 558.2h3.5v3.5h-3.5zM463.9 558.2h35v3.5h-35zM473.3 561.3h3.5v3.5h-3.5z"/>
<path fill="#1020b0" d="M473.3 466.8h6.7v3.5h-6.7z"/>
<rect x="593.5" y="374.8" width="14.5" height="9.2" fill="#ff0000"/>
<rect x="593.5" y="383.7" width="14.5" height="9.2" fill="#e84a28"/>
<rect x="593.5" y="392.6" width="14.5" height="9.2" fill="#d85a30"/>
<rect x="593.5" y="401.6" width="14.5" height="9.2" fill="#c87038"/>
<rect x="593.5" y="410.5" width="14.5" height="9.2" fill="#b88a40"/>
<rect x="593.5" y="419.4" width="14.5" height="9.2" fill="#a0a848"/>
<rect x="593.5" y="428.3" width="14.5" height="9.2" fill="#88c858"/>
<rect x="593.5" y="437.2" width="14.5" height="9.2" fill="#70f070"/>
<rect x="593.5" y="446.1" width="14.5" height="9.2" fill="#60d890"/>
<rect x="593.5" y="455.1" width="14.5" height="9.2" fill="#50b8a0"/>
<rect x="593.5" y="464" width="14.5" height="9.2" fill="#4898b8"/>
<rect x="593.5" y="472.9" width="14.5" height="9.2" fill="#4484c8"/>
<rect x="593.5" y="481.8" width="14.5" height="9.2" fill="#2858d8"/>
<rect x="593.5" y="490.7" width="14.5" height="9.2" fill="#1838e8"/>
<rect x="593.5" y="499.7" width="14.5" height="9.2" fill="#1020b0"/>
<rect x="593.5" y="508.6" width="14.5" height="9.2" fill="#000880"/>
<rect x="594" y="375.3" width="13.5" height="141.7" fill="none" stroke="#111" stroke-width="1"/>
<text x="611.2" y="367.3" font-size="9.7" textLength="15.1" lengthAdjust="spacingAndGlyphs" fill="#111">Volt</text>
<text x="610" y="378.6" font-size="9.7" textLength="22.2" lengthAdjust="spacingAndGlyphs" fill="#111">5.141</text>
<text x="610" y="396.5" font-size="9.7" textLength="22.2" lengthAdjust="spacingAndGlyphs" fill="#111">4.804</text>
<text x="610" y="414.3" font-size="9.7" textLength="22.2" lengthAdjust="spacingAndGlyphs" fill="#111">4.467</text>
<text x="610" y="432.2" font-size="9.7" textLength="22.2" lengthAdjust="spacingAndGlyphs" fill="#111">4.130</text>
<text x="610" y="450" font-size="9.7" textLength="22.2" lengthAdjust="spacingAndGlyphs" fill="#111">3.793</text>
<text x="610" y="467.9" font-size="9.7" textLength="22.2" lengthAdjust="spacingAndGlyphs" fill="#111">3.456</text>
<text x="610" y="485.7" font-size="9.7" textLength="22.2" lengthAdjust="spacingAndGlyphs" fill="#111">3.119</text>
<text x="610" y="503.6" font-size="9.7" textLength="22.2" lengthAdjust="spacingAndGlyphs" fill="#111">2.782</text>
<text x="610" y="521.4" font-size="9.7" textLength="22.2" lengthAdjust="spacingAndGlyphs" fill="#111">2.445</text>
<text x="367.2" y="367.1" font-size="10.5" textLength="33.8" lengthAdjust="spacingAndGlyphs" fill="#111">Peak Int</text>
<text x="567.5" y="539" font-size="9.7" textLength="21" lengthAdjust="spacingAndGlyphs" fill="#111">Avge</text>
<text x="599.3" y="539" font-size="9.7" fill="#111">:</text>
<text x="604.5" y="539" font-size="9.7" textLength="22.5" lengthAdjust="spacingAndGlyphs" fill="#111">3.678</text>
<text x="567.5" y="550" font-size="9.7" textLength="59.5" lengthAdjust="spacingAndGlyphs" fill="#111">Median : 3.560</text>
<text x="567.5" y="560.5" font-size="9.7" textLength="69.7" lengthAdjust="spacingAndGlyphs" fill="#111">Std Dev: 13.26 %</text>
<text x="606.8" y="570.8" font-size="9.7" textLength="27.3" lengthAdjust="spacingAndGlyphs" fill="#111">(0.488)</text>
<text x="367" y="594.3" font-size="9.7" textLength="68" lengthAdjust="spacingAndGlyphs" fill="#111">In-Spec: 100.0 %</text>
<text x="453.1" y="594.3" font-size="9.7" textLength="25.9" lengthAdjust="spacingAndGlyphs" fill="#111">Below:</text>
<text x="487.5" y="594.3" font-size="9.7" textLength="21.6" lengthAdjust="spacingAndGlyphs" fill="#111">0.0 %</text>
<text x="533" y="594.3" font-size="9.7" textLength="28.7" lengthAdjust="spacingAndGlyphs" fill="#111">Above:</text>
<text x="568.2" y="594.3" font-size="9.7" textLength="22.8" lengthAdjust="spacingAndGlyphs" fill="#111">0.0 %</text>
<text x="487.8" y="629.6" font-size="24" textLength="26.1" lengthAdjust="spacingAndGlyphs" fill="#000" stroke="#000" stroke-width="0.5">(d)</text>
</svg></body></html>
